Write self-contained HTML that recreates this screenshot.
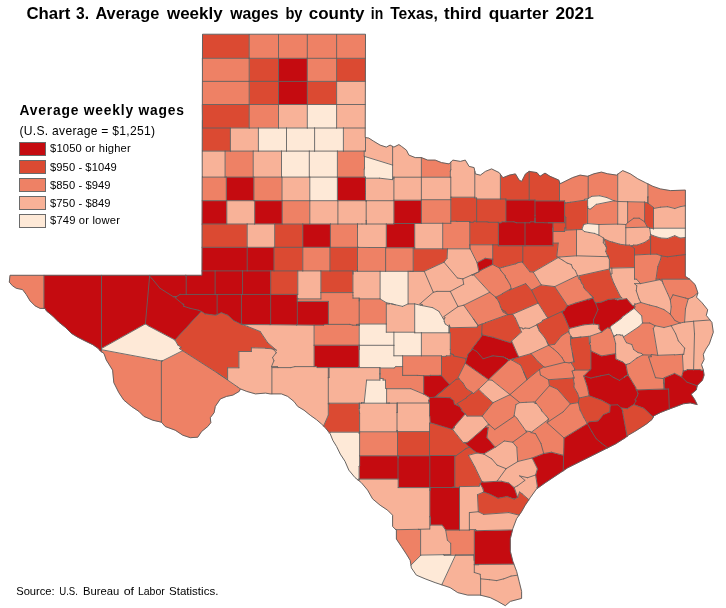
<!DOCTYPE html>
<html lang="en"><head><meta charset="utf-8"><title>Chart 3. Average weekly wages by county in Texas, third quarter 2021</title>
<style>
html,body{margin:0;padding:0;background:#fff;}
body{width:726px;height:608px;overflow:hidden;position:relative;font-family:"Liberation Sans",sans-serif;}
svg{position:absolute;left:0;top:0;display:block;}
path{stroke-linejoin:round;stroke-linecap:round;}
.c1{stroke:#c50b10}.c2{stroke:#db4a32}.c3{stroke:#ee8165}.c4{stroke:#f8b298}.c5{stroke:#fee9d7}
.c1,.c2,.c3,.c4,.c5{stroke-width:0.4}
.ln{fill:none;stroke:#626262;stroke-width:0.9}
.c1{fill:#c50b10}.c2{fill:#db4a32}.c3{fill:#ee8165}.c4{fill:#f8b298}.c5{fill:#fee9d7}
.ol{fill:none;stroke:#5e5e5e;stroke-width:0.95}
text{font-family:"Liberation Sans",sans-serif;fill:#000;}
.t{font-weight:bold;font-size:15.9px;}
.lt{font-weight:bold;font-size:13.8px;}
.ls{font-size:12.1px;}
.li{font-size:11.2px;}
.src{font-size:11.5px;}
rect.sw{stroke:#6a6a6a;stroke-width:1;}
</style></head><body>
<svg width="726" height="608" viewBox="0 0 726 608">
<rect x="0" y="0" width="726" height="608" fill="#fff"/>
<g>
<path class="c1" d="M278.5,58.3 278.5,58.3 278.5,81.4 278.5,81.4 278.5,81.4 307.3,81.4 307.3,81.4 307.3,81.4 307.3,58.3 307.3,58.3 307.3,58.3 278.5,58.3ZM278.5,81.4 278.5,81.4 278.5,104.5 278.5,104.5 278.5,104.5 307.3,104.5 307.3,104.5 307.3,104.5 307.3,81.4 307.3,81.4 307.3,81.4 278.5,81.4ZM226.4,177.1 226.3,177.1 226.3,200.7 226.4,200.7 226.4,200.7 253.9,200.7 253.9,200.7 253.9,200.7 253.9,177.1 253.9,177.1 253.9,177.1 226.4,177.1ZM337.4,177.1 337.4,177.1 337.4,200.7 337.4,200.7 337.4,200.7 365.5,200.7 365.5,200.7 365.5,200.7 365.5,193.7 365.5,193.7 365.5,191.2 365.5,191.2 365.5,180.6 365.5,180.6 365.5,180.6 365.5,180.5 365.5,180.5 365.5,180.5 365.5,180.5 365.5,180.5 365.5,180.5 365.5,180.5 365.5,177.1 365.5,177.1 365.5,177.1 337.4,177.1ZM202.1,224.0 202.1,224.0 226.8,224.0 226.8,224.0 226.8,224.0 226.8,200.7 226.8,200.7 226.8,200.7 202.2,200.7 202.2,200.7 202.2,200.7 202.1,224.0ZM254.7,200.7 254.7,200.7 254.7,224.0 254.7,224.0 254.7,224.0 282.2,224.0 282.2,224.0 282.2,224.0 282.2,200.7 282.2,200.7 282.2,200.7 254.7,200.7ZM302.8,224.0 302.8,224.0 302.8,247.3 302.8,247.3 302.8,247.3 330.4,247.3 330.4,247.3 330.4,247.3 330.4,224.0 330.4,224.0 330.4,224.0 302.8,224.0ZM202.0,270.9 202.0,270.9 247.2,270.9 247.2,270.9 247.2,270.9 247.2,247.3 247.2,247.3 247.2,247.3 202.1,247.3 202.1,247.3 202.1,247.3 202.0,270.9ZM247.2,247.3 247.2,247.3 247.2,270.9 247.2,270.9 247.2,270.9 274.0,270.9 274.0,270.9 274.0,270.9 274.0,247.3 274.0,247.3 274.0,247.3 247.2,247.3ZM185.8,275.3 185.8,275.3 185.8,276.0 185.8,276.0 185.8,276.0 186.2,276.0 186.2,276.0 186.2,276.0 186.2,276.0 186.2,276.0 186.2,276.0 186.2,276.0 186.2,276.0 186.2,276.0 186.2,276.0 186.2,276.0 186.2,276.0 186.2,276.0 186.2,276.0 186.2,276.0 186.2,276.0 186.2,276.0 186.2,294.4 186.2,294.4 186.2,294.4 215.1,294.4 215.1,294.4 215.1,294.4 215.1,270.9 215.1,270.9 215.1,270.9 202.0,270.9 202.0,270.9 202.0,270.9 202.0,270.9 202.0,270.9 202.0,270.9 202.0,270.9 202.0,270.9 202.0,270.9 202.0,270.9 202.0,270.9 202.0,270.9 202.0,270.9 202.0,270.9 202.0,270.9 202.0,270.9 202.0,270.8 202.0,270.8 202.0,270.8 202.0,275.3 202.0,275.3 202.0,275.3 202.0,275.3 202.0,275.3 202.0,275.3 202.0,275.3 202.0,275.3 202.0,275.3 202.0,275.3 202.0,275.3 202.0,275.3 202.0,275.3 202.0,275.3 202.0,275.3 202.0,275.3 202.0,275.3 186.2,275.3 185.8,275.3ZM215.1,270.9 215.1,270.9 215.1,294.4 215.1,294.4 215.1,294.4 242.6,294.4 242.6,294.4 242.6,294.4 242.6,270.9 242.6,270.9 242.6,270.9 215.1,270.9ZM242.6,270.9 242.6,270.9 242.6,294.4 242.6,294.4 242.6,294.4 270.7,294.4 270.7,294.4 270.7,294.4 270.7,270.9 270.7,270.9 270.7,270.9 242.6,270.9ZM241.4,294.4 241.4,294.4 241.4,324.4 241.4,324.4 241.4,324.4 243.7,324.4 243.7,324.4 243.7,324.4 243.7,324.4 243.7,324.4 243.7,324.4 243.7,324.4 243.7,324.4 243.7,324.4 243.7,324.4 243.7,324.4 243.7,324.5 243.7,324.5 243.7,324.5 270.0,324.7 270.0,324.7 270.0,324.7 270.0,324.4 270.0,324.4 270.0,324.4 270.0,324.4 270.0,324.4 270.0,324.4 270.0,324.4 270.0,324.4 270.0,324.4 270.0,324.4 270.0,324.4 270.0,324.4 270.0,324.4 270.0,324.4 270.0,324.4 270.0,324.4 270.0,324.4 270.7,324.4 270.7,324.4 270.7,324.4 270.7,294.4 270.7,294.4 270.7,294.4 241.4,294.4ZM270.0,324.7 270.0,324.7 296.7,325.0 296.7,325.0 296.7,325.0 296.8,324.4 296.8,324.4 296.8,324.4 296.8,324.4 296.8,324.4 296.8,324.4 296.8,324.4 296.8,324.4 296.8,324.4 296.8,324.4 296.8,324.4 296.8,324.4 296.8,324.4 296.8,324.4 296.8,324.4 296.8,324.4 297.3,324.4 297.3,324.4 297.3,324.4 297.3,298.9 297.3,298.9 297.3,298.9 297.3,298.9 297.3,298.9 297.3,298.9 297.3,298.9 297.3,298.9 297.3,298.9 297.3,298.9 297.3,298.9 297.3,298.9 297.3,298.9 297.3,298.9 297.3,298.9 297.3,298.9 297.3,298.9 297.8,298.9 297.8,298.9 297.8,298.9 297.8,298.3 297.8,298.3 297.8,298.3 297.3,297.8 297.3,297.8 297.3,297.8 297.3,297.8 297.3,297.8 297.3,297.8 297.3,297.8 297.3,297.8 297.3,297.8 297.3,294.4 297.3,294.4 297.3,294.4 270.7,294.4 270.7,294.4 270.7,294.4 270.7,324.4 270.7,324.4 270.7,324.4 270.7,324.4 270.7,324.4 270.7,324.4 270.7,324.4 270.7,324.4 270.7,324.4 270.7,324.4 270.7,324.4 270.7,324.4 270.7,324.4 270.7,324.4 270.7,324.4 270.7,324.4 270.7,324.4 270.0,324.4 270.0,324.4 270.0,324.4 270.0,324.7ZM296.7,325.0 296.7,325.0 314.1,325.2 314.1,325.2 323.7,325.2 323.7,325.2 323.7,325.2 324.4,324.4 324.4,324.4 324.4,324.4 324.4,324.4 324.4,324.4 324.4,324.4 324.4,324.4 324.4,324.4 324.4,324.4 328.4,324.4 328.4,324.4 328.4,324.4 328.4,301.4 328.4,301.4 328.4,301.4 297.3,301.4 297.3,301.4 297.3,301.4 297.3,324.4 297.3,324.4 297.3,324.4 297.3,324.4 297.3,324.4 297.3,324.4 297.3,324.4 297.3,324.4 297.3,324.4 297.3,324.4 297.3,324.4 297.3,324.4 297.3,324.4 297.3,324.4 297.3,324.4 297.3,324.4 297.3,324.4 296.8,324.4 296.8,324.4 296.8,324.4 296.7,325.0ZM314.1,345.3 314.1,345.3 314.1,366.6 314.1,366.6 314.1,366.6 316.3,366.6 316.3,366.6 316.3,366.6 316.3,366.6 316.3,366.6 316.3,366.6 316.3,366.6 316.3,366.6 316.3,366.6 316.3,366.6 317.2,367.6 317.2,367.6 317.2,367.6 328.3,367.6 328.3,367.6 328.3,367.6 328.3,367.6 328.3,367.6 328.3,367.6 328.3,367.6 328.3,367.6 328.3,367.6 328.3,367.6 328.3,367.6 328.3,367.6 328.3,367.6 328.3,367.6 328.3,367.6 328.3,367.6 328.3,367.6 328.3,377.7 328.3,377.7 328.3,377.7 329.0,377.5 329.0,377.5 329.1,377.5 329.1,367.6 329.1,367.6 329.1,367.6 329.1,367.6 329.1,367.6 329.1,367.6 329.1,367.6 329.1,367.6 329.1,367.6 329.1,367.6 329.1,367.6 329.1,367.6 329.1,367.6 329.1,367.6 329.1,367.6 329.1,367.6 329.1,367.6 358.8,367.6 358.8,367.6 358.8,367.6 358.8,366.6 358.8,366.6 358.8,366.6 358.8,366.6 358.8,366.6 358.8,366.6 358.8,366.6 358.8,366.6 358.8,366.6 358.8,366.6 358.8,366.6 358.8,366.6 358.8,366.6 358.8,366.6 358.8,366.6 358.8,366.6 358.8,366.6 359.2,366.6 359.2,366.6 359.2,366.6 359.2,345.3 359.2,345.3 359.2,345.2 314.1,345.2ZM217.1,294.4 217.1,294.4 217.1,314.7 217.1,314.7 217.1,314.7 221.3,312.7 221.3,312.7 221.3,312.7 221.3,312.7 221.3,312.7 221.3,312.7 221.3,312.7 221.3,312.7 221.3,312.7 227.6,315.2 227.6,315.2 227.6,315.2 227.6,315.2 233.9,320.7 233.9,320.7 233.9,320.7 241.4,324.4 241.4,324.4 241.4,324.4 241.4,294.4 241.4,294.4 241.4,294.4 217.1,294.4ZM175.0,297.6 175.0,297.6 182.5,303.9 182.5,303.9 182.5,303.9 183.7,304.3 183.7,304.3 183.7,304.3 183.7,304.3 183.7,304.3 183.7,304.3 183.7,304.3 183.7,304.3 183.7,304.3 183.7,304.3 183.7,304.3 183.7,304.3 183.7,304.3 183.8,306.3 183.8,306.3 183.8,306.3 190.0,308.3 190.0,308.3 198.4,310.2 198.4,310.2 198.4,310.2 201.3,311.4 201.3,311.4 201.3,311.4 205.0,313.9 205.0,313.9 205.0,313.9 215.1,315.2 215.1,315.2 215.1,315.2 217.1,314.7 217.1,314.7 217.1,314.7 217.1,294.4 217.1,294.4 217.1,294.4 180.0,294.4 180.0,294.4 180.0,294.4 175.0,297.6ZM43.9,308.4 43.9,308.4 45.1,308.4 45.1,308.4 45.1,308.4 45.1,308.4 45.1,308.4 45.1,308.4 45.1,308.4 45.1,308.4 45.1,308.4 45.1,308.4 45.1,308.4 45.1,308.4 46.4,310.9 46.4,310.9 46.4,310.9 52.6,315.9 52.6,315.9 58.9,322.2 58.9,322.2 65.2,327.2 65.2,327.2 71.4,333.4 71.5,333.4 71.5,333.5 77.7,337.2 77.7,337.2 85.2,341.0 92.8,344.7 92.8,344.7 98.3,348.5 98.3,348.5 98.3,348.5 98.3,348.5 100.3,351.0 100.3,351.0 100.3,351.0 101.5,351.8 101.5,351.8 101.5,351.8 101.5,275.3 101.5,275.3 101.5,275.3 43.9,275.3 43.9,275.3 43.9,275.3 43.9,308.4ZM101.5,348.5 101.5,348.5 145.4,323.9 145.4,323.9 145.4,323.9 149.7,275.3 149.7,275.3 149.7,275.3 101.5,275.3 101.5,275.3 101.5,275.3 101.5,348.5ZM149.6,276.2 149.6,276.2 151.7,278.3 151.7,278.3 160.0,288.3 160.0,288.3 160.0,288.3 173.3,296.7 173.3,296.7 173.3,296.7 175.0,296.5 175.0,296.5 175.0,296.5 175.0,296.5 175.0,296.5 176.3,296.8 176.3,296.8 176.3,296.8 177.2,296.2 180.0,294.4 180.0,294.4 180.0,294.4 180.0,294.4 180.0,294.4 180.0,294.4 180.0,294.4 186.2,294.4 186.2,294.4 186.2,294.4 186.2,276.0 186.2,276.0 186.2,276.0 185.8,276.0 185.8,276.0 185.8,276.0 185.8,276.0 185.8,276.0 185.8,276.0 185.8,276.0 185.8,276.0 185.8,276.0 185.8,276.0 185.8,276.0 185.8,276.0 185.8,276.0 185.8,276.0 185.8,276.0 185.8,276.0 185.8,276.0 185.8,275.3 185.8,275.3 185.8,275.3 149.7,275.3 149.7,275.3 149.7,275.3 149.6,276.0 149.6,276.2ZM145.4,323.9 145.4,323.9 148.9,326.2 148.9,326.2 175.0,340.0 175.0,340.0 175.0,340.0 201.3,311.4 201.3,311.4 201.3,311.4 201.3,311.4 201.3,311.4 201.3,311.4 198.4,310.2 198.4,310.2 198.4,310.2 190.0,308.3 190.0,308.3 183.8,306.3 183.8,306.3 183.8,306.3 183.8,306.3 183.8,306.3 183.8,306.3 183.8,306.3 183.8,306.3 183.8,306.3 183.8,306.3 183.8,306.3 183.8,306.3 183.8,306.3 183.7,304.3 183.7,304.3 183.7,304.3 182.5,303.9 182.5,303.9 182.5,303.9 182.5,303.9 182.5,303.9 175.0,297.6 175.0,297.6 175.0,297.6 175.0,297.6 175.0,297.6 175.0,297.6 175.0,297.6 175.0,297.6 175.0,297.6 175.0,297.6 175.0,297.6 175.0,297.6 175.0,297.6 175.0,297.6 175.0,297.6 175.0,297.6 175.0,297.6 175.0,297.6 175.0,297.6 175.0,297.6 176.3,296.8 176.3,296.8 176.3,296.8 175.0,296.5 175.0,296.5 175.0,296.5 173.3,296.7 173.3,296.7 173.3,296.7 173.3,296.7 173.3,296.7 173.3,296.7 173.3,296.7 173.3,296.7 160.0,288.3 160.0,288.3 160.0,288.3 160.0,288.3 151.7,278.3 151.7,278.3 149.6,276.2 149.6,276.2 149.6,276.2 145.4,323.9ZM359.1,478.9 359.1,478.9 359.6,478.9 359.6,478.9 359.6,478.9 359.6,478.9 359.6,478.9 359.6,478.9 359.6,478.9 359.6,478.9 359.6,478.9 359.6,478.9 359.6,478.9 359.6,478.9 359.6,478.9 359.6,478.9 359.6,478.9 359.6,478.9 359.6,478.9 359.6,479.1 359.6,479.1 359.6,479.1 398.0,479.1 398.0,479.1 398.0,479.1 398.0,455.8 398.0,455.8 398.0,455.8 359.6,455.8 359.6,455.8 359.6,455.8 359.6,465.6 359.6,465.6 359.6,465.6 359.6,465.6 359.6,465.6 359.6,465.6 359.1,466.5 359.1,466.5 359.1,466.5 359.1,478.9ZM393.9,200.2 393.9,200.2 393.9,223.5 393.9,223.5 393.9,223.5 421.4,223.5 421.4,223.5 421.4,223.5 421.4,200.2 421.4,200.2 421.4,200.2 393.9,200.2ZM505.9,200.0 505.9,200.0 505.9,221.8 505.9,221.8 505.9,221.8 513.9,221.8 513.9,221.8 513.9,221.8 513.9,221.8 513.9,221.8 516.6,222.8 516.6,222.8 516.6,222.8 529.5,222.8 529.5,222.8 529.5,222.8 530.8,221.8 530.8,221.8 530.8,221.8 530.8,221.8 530.8,221.8 530.8,221.8 530.8,221.8 530.8,221.8 535.0,221.8 535.0,221.8 535.0,221.8 535.0,215.6 535.0,215.6 535.0,215.2 535.0,215.2 535.0,201.0 535.0,201.0 535.0,201.0 535.0,200.9 535.0,200.9 535.0,200.9 535.0,200.9 535.0,200.9 535.0,200.9 535.0,200.9 535.0,200.9 535.0,200.0 535.0,200.0 535.0,200.0 505.9,200.0ZM386.3,224.0 386.3,224.0 386.3,247.8 386.3,247.8 386.3,247.8 414.7,247.8 414.7,247.8 414.7,247.8 414.7,223.5 414.7,223.5 414.7,223.5 393.9,223.5 393.9,223.5 393.9,223.5 393.9,224.0 393.9,224.0 393.9,224.0 393.9,224.0 393.9,224.0 393.9,224.0 393.9,224.0 393.9,224.0 393.9,224.0 393.9,224.0 393.9,224.0 393.9,224.0 393.9,224.0 393.9,224.0 393.9,224.0 393.9,224.0 393.9,224.0 386.3,224.0ZM498.4,222.8 498.4,222.8 498.4,245.8 498.4,245.8 498.4,245.8 525.0,245.8 525.0,245.8 525.0,245.8 525.0,222.8 525.0,222.8 525.0,222.8 516.6,222.8 516.6,222.8 516.6,222.8 516.6,222.8 516.6,222.8 513.9,221.8 513.9,221.8 513.9,221.8 502.1,221.8 502.1,221.8 502.1,221.8 501.0,222.8 501.0,222.8 501.0,222.8 501.0,222.8 501.0,222.8 501.0,222.8 501.0,222.8 501.0,222.8 498.4,222.8ZM525.0,222.8 525.0,222.8 525.0,245.8 525.0,245.8 525.0,245.8 553.0,245.8 553.0,245.8 553.0,245.8 553.0,222.8 553.0,222.8 553.0,222.8 543.8,222.8 543.8,222.8 543.8,222.8 543.8,222.8 543.8,222.8 543.8,222.8 543.7,222.7 543.7,222.7 543.7,222.7 535.0,222.7 535.0,222.7 535.0,222.7 535.0,222.7 535.0,222.7 535.0,222.7 535.0,222.7 535.0,222.7 535.0,222.7 535.0,222.7 535.0,222.7 535.0,222.7 535.0,222.7 535.0,222.7 535.0,222.7 535.0,222.7 535.0,222.7 535.0,218.6 535.0,218.6 535.0,218.6 535.0,218.5 535.0,218.5 535.0,218.5 535.0,221.8 535.0,221.8 535.0,221.8 535.0,221.8 535.0,221.8 535.0,221.8 535.0,221.8 535.0,221.8 535.0,221.8 535.0,221.8 535.0,221.8 535.0,221.8 535.0,221.8 535.0,221.8 535.0,221.8 535.0,221.8 535.0,221.8 530.8,221.8 530.8,221.8 530.8,221.8 529.5,222.8 529.5,222.8 529.5,222.8 529.5,222.8 529.5,222.8 529.5,222.8 529.5,222.8 529.5,222.8 525.0,222.8ZM535.0,218.5 535.0,218.5 535.0,218.6 535.0,218.6 535.0,218.6 535.0,218.6 535.0,218.6 535.0,218.6 535.0,218.6 535.0,218.6 535.0,218.6 535.0,218.6 535.0,218.6 535.0,218.6 535.0,222.7 535.0,222.7 535.0,222.7 543.7,222.7 543.7,222.7 543.7,222.7 543.7,222.7 543.7,222.7 543.7,222.7 543.8,222.8 543.8,222.8 543.8,222.8 548.6,222.8 548.6,222.8 548.6,222.8 548.8,222.7 548.8,222.7 548.8,222.7 548.8,222.7 548.8,222.7 548.8,222.7 564.6,222.7 564.6,222.7 564.6,222.7 564.6,200.9 564.6,200.9 564.6,200.9 535.0,200.9 535.0,200.9 535.0,200.9 535.0,215.2 535.0,215.2 535.0,215.6 535.0,215.6 535.0,218.5ZM664.2,389.0 664.2,389.0 665.7,389.0 665.7,389.0 665.7,389.0 665.7,389.0 665.7,389.0 665.7,389.0 665.7,389.0 665.7,389.0 665.7,389.0 665.7,389.0 665.7,389.0 665.7,389.0 665.7,389.0 665.7,389.0 665.7,389.0 665.7,389.0 665.7,389.1 665.7,389.1 665.7,389.1 668.5,389.0 668.5,389.0 668.5,389.0 668.5,389.0 668.5,389.0 668.5,389.0 668.5,389.0 668.5,389.0 668.5,389.0 668.5,389.0 668.5,389.0 668.5,389.0 668.5,389.0 668.5,389.0 668.6,389.0 668.6,389.0 668.6,389.0 669.3,409.0 669.3,409.0 669.3,409.0 669.4,409.0 669.4,409.0 676.4,406.4 676.4,406.4 683.3,403.8 683.3,403.8 683.3,403.8 690.2,402.9 690.2,402.9 690.2,402.9 690.3,402.9 690.3,402.9 697.2,404.6 697.2,404.6 697.2,404.6 694.6,399.4 694.6,399.4 691.1,394.2 691.1,394.2 691.1,394.2 691.1,394.2 691.1,394.2 691.1,394.2 691.1,394.2 691.1,394.2 691.1,394.2 691.1,394.2 691.1,394.2 691.1,394.2 691.1,394.2 691.1,394.2 691.1,394.2 691.1,394.2 696.3,389.9 696.3,389.9 696.3,389.9 697.2,385.7 697.2,385.7 697.2,385.7 696.3,385.5 696.3,385.5 696.3,385.5 686.8,382.1 686.8,382.1 686.8,382.1 686.8,382.1 686.8,382.1 681.6,376.9 681.6,376.9 681.6,376.9 674.6,373.4 674.6,373.4 674.6,373.4 664.2,377.7 664.2,377.7 664.2,377.7 664.2,389.0ZM681.6,376.9 681.6,376.9 686.8,382.1 686.8,382.1 686.8,382.1 696.3,385.5 696.3,385.5 696.3,385.5 697.2,385.7 697.2,385.7 697.2,385.7 697.2,385.5 697.2,385.5 697.2,385.5 697.2,385.5 697.2,385.5 697.2,385.5 697.2,385.5 697.5,385.2 702.4,380.3 702.4,380.3 702.4,380.3 704.1,375.1 704.1,375.1 704.1,375.1 703.3,370.1 703.3,370.1 703.3,370.1 701.2,370.2 701.2,370.2 701.2,370.2 701.2,370.2 701.2,370.2 701.2,370.2 700.1,369.6 700.1,369.6 700.1,369.6 687.4,369.6 687.4,369.6 687.4,369.6 685.2,370.7 685.2,370.7 685.2,370.7 685.2,370.7 685.2,370.7 685.2,370.7 683.3,370.8 683.3,370.8 683.3,370.8 681.6,376.9ZM633.8,404.6 633.8,404.6 643.4,408.1 643.4,408.1 643.4,408.1 643.4,408.1 643.4,408.1 653.3,417.0 653.3,417.0 653.3,417.0 653.8,415.9 653.8,415.9 653.8,415.9 653.8,415.9 653.8,415.9 653.8,415.9 653.8,415.9 653.8,415.9 660.7,412.4 660.7,412.4 669.3,409.0 669.3,409.0 669.3,409.0 668.6,389.0 668.5,389.0 668.5,389.0 665.8,389.1 665.8,389.1 665.8,389.1 665.8,389.1 665.8,389.1 665.8,389.1 665.8,389.1 665.7,389.1 665.7,389.1 665.7,389.1 665.7,389.1 665.7,389.1 665.7,389.1 665.7,389.1 665.7,389.1 665.7,389.1 665.7,389.0 665.7,389.0 665.7,389.0 664.2,389.0 664.2,389.0 664.2,389.0 664.2,389.0 664.2,389.0 664.2,389.0 664.2,389.0 664.2,389.0 664.2,389.0 664.2,389.0 664.2,389.0 664.2,389.0 664.2,389.0 664.2,389.0 664.2,389.0 664.2,389.0 664.2,389.0 664.2,383.2 664.2,383.2 664.2,383.2 663.7,383.0 663.7,383.0 663.7,383.0 664.2,389.0 664.2,389.0 664.2,389.0 664.2,389.0 664.2,389.0 664.2,389.0 664.2,389.0 664.2,389.0 664.2,389.0 664.2,389.0 664.2,389.0 664.2,389.0 664.2,389.0 664.2,389.0 664.2,389.0 664.2,389.0 664.2,389.0 664.2,389.0 637.1,389.9 637.1,389.9 637.1,389.9 637.1,389.9 637.1,389.9 637.1,389.9 637.1,389.9 637.1,389.9 637.1,389.9 637.1,389.9 637.1,389.9 636.5,389.9 636.5,389.9 636.5,389.9 638.0,393.5 638.0,393.5 638.0,393.5 638.0,393.5 638.0,393.5 638.0,393.5 638.0,393.5 638.0,393.5 637.4,395.8 637.4,395.8 637.4,395.8 637.4,395.8 635.0,399.9 635.0,399.9 635.0,399.9 636.1,400.8 636.1,400.8 636.1,400.8 636.1,400.8 636.1,400.8 636.1,400.8 636.1,400.8 636.1,400.8 636.1,400.8 636.1,400.8 636.1,400.8 636.1,400.8 636.1,400.8 636.1,400.8 636.1,400.8 636.1,400.8 633.8,404.6ZM398.0,478.9 398.0,478.9 398.0,478.9 398.2,478.9 398.2,478.9 398.2,478.9 398.2,478.9 398.2,478.9 398.2,478.9 398.2,478.9 398.2,478.9 398.2,478.9 398.2,478.9 398.2,478.9 398.2,478.9 398.2,478.9 398.2,478.9 398.2,478.9 398.2,478.9 398.2,478.9 398.2,487.6 398.2,487.6 398.2,487.6 429.7,487.6 429.7,487.6 429.8,487.6 429.8,455.5 429.7,455.5 429.7,455.5 429.5,455.5 429.5,455.5 429.5,455.5 429.5,455.8 429.5,455.8 429.5,455.8 429.5,455.8 429.5,455.8 429.5,455.8 429.5,455.8 429.5,455.8 429.5,455.8 429.5,455.8 429.5,455.8 429.5,455.8 429.5,455.8 429.5,455.8 429.5,455.8 429.5,455.8 429.5,455.8 398.2,455.8 398.2,455.8 398.2,455.8 398.2,457.9 398.2,457.9 398.2,457.9 398.2,457.9 398.2,457.9 398.2,457.9 398.2,457.9 398.2,457.9 398.2,457.9 398.2,457.9 398.2,457.9 398.2,457.9 398.2,457.9 398.2,457.9 398.2,457.9 398.2,457.9 398.2,457.9 398.0,457.9 398.0,457.9 398.0,457.9ZM429.8,490.0 429.8,490.0 430.4,489.9 430.4,489.9 430.4,489.9 430.4,487.5 430.4,487.5 430.4,487.5 430.4,487.5 430.4,487.5 430.4,487.5 430.4,487.5 430.4,487.5 430.4,487.5 430.4,487.5 430.4,487.5 430.4,487.5 430.4,487.5 430.4,487.5 430.4,487.5 430.4,487.5 430.4,487.5 452.7,487.5 452.7,487.5 452.7,487.5 452.8,487.1 452.8,487.1 452.8,487.1 452.8,487.1 452.8,487.1 452.8,487.1 452.8,487.1 452.8,487.1 452.8,487.1 452.8,487.1 452.8,487.1 452.8,487.1 452.8,487.1 452.8,487.1 452.8,487.1 452.8,487.1 454.8,487.1 454.8,487.1 454.8,487.1 454.8,455.5 454.8,455.5 454.8,455.5 429.8,455.5 429.8,455.5 429.8,455.5 429.8,490.0ZM472.0,274.8 472.0,274.8 472.6,275.1 472.6,275.1 472.6,275.1 473.6,274.8 473.6,274.7 473.6,274.7 478.9,271.7 478.9,271.7 478.9,271.7 478.9,271.7 481.6,269.9 481.6,269.9 492.7,264.5 492.7,264.5 492.7,264.5 492.7,259.2 492.7,259.2 492.7,259.2 485.2,258.3 485.2,258.3 485.2,258.3 477.1,262.7 477.1,262.8 477.1,262.8 478.9,271.7 478.9,271.7 478.9,271.7 478.9,271.7 478.9,271.7 478.9,271.7 478.9,271.7 478.9,271.7 478.9,271.7 478.9,271.7 478.9,271.7 478.9,271.7 478.9,271.7 478.9,271.7 478.9,271.7 472.0,274.8ZM562.1,312.0 562.1,312.0 562.3,312.8 562.3,312.8 562.3,312.8 563.7,315.5 563.7,315.5 566.0,320.4 566.0,320.4 566.5,321.5 566.5,321.5 566.5,321.5 566.5,321.5 566.7,322.2 566.7,322.2 566.7,322.2 569.4,328.5 569.4,328.5 569.4,328.5 583.7,324.9 583.7,324.9 583.7,324.9 593.6,324.0 593.6,324.0 593.6,324.0 593.6,319.5 593.6,319.5 593.6,319.5 593.6,319.5 593.6,319.5 598.0,309.7 598.0,309.7 598.0,309.7 595.4,302.5 595.3,302.5 595.3,302.5 592.7,298.1 592.7,298.1 592.7,298.1 588.5,299.8 588.5,299.8 588.5,299.8 588.5,299.8 588.5,299.8 588.5,299.8 588.5,299.8 588.5,299.8 588.5,299.8 588.5,299.8 587.7,299.4 587.7,299.4 587.7,299.4 575.7,303.0 575.7,303.0 567.2,305.9 567.2,305.9 567.2,305.9 564.9,309.3 564.2,310.4 564.1,310.5 564.1,310.5 564.1,310.5 564.1,310.5 564.1,310.5 564.1,310.5 564.1,310.5 562.4,311.3 562.4,311.3 562.4,311.3 562.1,312.0ZM593.6,324.0 593.6,324.0 598.9,324.9 598.9,324.9 598.9,324.9 598.9,324.9 598.9,324.9 598.9,324.9 598.9,324.9 598.9,324.9 598.9,324.9 598.9,324.9 598.9,324.9 598.9,324.9 598.9,324.9 598.9,324.9 598.9,324.9 598.9,328.5 598.9,328.5 598.9,328.5 601.6,332.1 601.6,332.1 601.6,332.1 607.6,327.7 607.6,327.7 607.6,327.7 607.6,327.7 607.6,327.7 607.6,327.7 607.6,327.7 607.6,327.7 607.6,327.7 607.6,327.7 607.6,327.7 610.1,328.5 610.1,328.5 610.1,328.5 610.4,326.9 610.4,326.9 610.4,326.9 610.3,326.6 610.3,326.6 610.3,326.6 610.3,326.6 610.3,326.6 610.3,326.6 610.3,326.6 610.3,326.6 610.3,326.6 610.3,326.6 610.3,326.6 610.3,326.6 610.3,326.6 610.4,326.5 621.1,318.7 621.1,318.7 621.1,318.7 622.2,317.1 622.2,317.1 622.2,317.1 622.2,317.1 634.6,308.0 634.6,308.0 634.6,308.0 634.7,307.8 635.0,306.3 635.0,306.3 635.0,306.3 634.2,305.7 634.2,305.7 634.2,305.7 632.8,305.7 632.8,305.7 632.8,305.7 632.8,305.7 632.8,305.7 632.8,305.7 632.8,305.7 632.8,305.7 632.8,305.7 632.8,305.7 626.7,298.6 626.7,298.6 626.7,298.6 617.2,299.9 617.2,299.9 617.2,299.9 617.2,299.9 617.2,299.9 617.2,299.9 617.2,299.9 615.1,298.9 615.1,298.9 614.9,298.8 614.9,298.8 614.9,298.8 608.2,299.5 608.2,299.5 608.2,299.5 601.4,302.1 601.4,302.1 601.4,302.1 595.5,302.9 595.5,302.9 595.5,302.9 598.0,309.7 598.0,309.7 598.0,309.7 598.0,309.7 598.0,309.7 598.0,309.7 598.0,309.7 598.0,309.7 598.0,309.7 593.6,319.5 593.6,319.5 593.6,319.5 593.6,324.0ZM583.7,375.9 583.7,375.9 590.9,378.1 590.9,378.1 590.9,378.1 596.3,376.7 596.3,376.7 596.3,376.7 596.3,376.7 596.3,376.7 596.3,376.7 596.3,376.7 596.3,376.7 596.3,376.7 596.3,376.7 596.3,376.7 596.3,376.7 596.3,376.7 596.3,376.7 596.4,376.9 596.4,376.9 596.4,376.9 600.7,375.8 600.7,375.8 608.8,374.3 608.8,374.3 608.8,374.3 608.8,374.3 608.8,374.3 608.8,374.3 608.8,374.3 608.8,374.3 608.8,374.3 613.5,377.5 613.5,377.5 613.5,377.5 613.7,377.5 613.7,377.5 613.7,377.5 613.7,377.5 613.7,377.5 613.7,377.5 613.7,377.5 613.7,377.5 614.1,377.7 614.2,377.7 619.5,380.4 619.5,380.4 619.5,380.4 627.9,374.5 627.9,374.5 627.9,374.5 627.8,374.3 627.8,374.3 627.8,374.3 627.8,374.3 627.8,374.3 626.0,364.7 626.0,364.7 626.0,364.7 626.0,364.7 626.0,364.7 626.0,364.7 626.0,364.7 626.0,364.7 626.0,364.7 626.0,364.7 626.0,364.7 626.0,364.7 626.0,364.7 626.0,364.7 626.0,364.7 626.8,364.4 626.8,364.4 626.8,364.4 626.8,364.3 626.8,364.3 626.8,364.3 626.0,364.7 626.0,364.7 626.0,364.7 626.0,364.7 626.0,364.7 626.0,364.7 626.0,364.7 626.0,364.7 626.0,364.7 626.0,364.7 626.0,364.7 626.0,364.7 626.0,364.7 626.0,364.7 622.8,362.0 622.8,362.0 622.8,362.0 615.9,358.9 615.9,358.9 615.9,358.9 615.9,358.9 615.9,358.9 615.9,358.9 615.9,358.9 615.9,358.9 615.9,358.9 615.9,358.9 615.9,358.9 615.9,358.9 615.8,356.1 615.8,356.1 615.8,356.1 615.6,356.0 615.6,356.0 615.6,356.0 615.6,356.0 615.6,356.0 615.6,356.0 615.6,356.0 615.6,356.0 615.6,356.0 615.6,356.0 615.7,354.8 615.7,354.8 615.6,353.6 615.6,353.6 615.6,353.6 601.6,355.9 601.6,355.9 601.6,355.9 601.6,355.9 601.6,355.9 601.6,355.9 601.6,355.9 590.9,350.9 590.9,350.9 590.9,350.9 590.9,368.8 590.9,368.8 590.9,368.8 590.9,368.8 590.9,368.8 590.9,368.8 590.9,368.8 590.9,368.8 590.9,368.8 590.0,369.6 590.0,369.7 590.0,369.7 590.0,370.1 590.0,370.1 590.0,370.1 590.0,370.1 590.0,370.1 590.0,370.1 590.0,370.1 590.0,370.1 590.0,370.1 590.0,370.1 590.0,370.1 590.0,370.1 590.0,370.1 590.0,370.1 590.0,370.1 590.0,370.1 590.0,370.1 589.6,370.1 589.6,370.1 589.6,370.1 583.7,375.9ZM583.7,375.9 583.7,375.9 587.3,386.9 587.3,386.9 589.1,395.8 589.1,395.8 589.1,395.8 601.6,400.3 601.6,400.3 601.6,400.3 610.2,405.1 610.2,405.1 610.2,405.1 617.7,404.8 617.7,404.8 617.7,404.8 617.7,404.8 617.7,404.8 617.7,404.8 617.7,404.8 617.7,404.8 617.7,404.8 621.3,408.0 621.3,408.0 621.3,408.0 627.3,408.7 627.3,408.7 627.3,408.7 633.8,404.6 633.8,404.6 633.8,404.6 634.1,404.2 636.1,400.8 636.1,400.8 636.1,400.8 635.0,399.9 635.0,399.9 635.0,399.9 635.0,399.9 635.0,399.9 635.0,399.9 635.0,399.9 635.0,399.9 635.0,399.9 635.0,399.9 635.0,399.9 635.0,399.9 635.0,399.9 635.0,399.9 635.0,399.9 635.0,399.9 637.4,395.8 637.4,395.8 637.4,395.8 638.0,393.5 638.0,393.5 638.0,393.5 636.5,389.9 636.5,389.9 636.5,389.9 636.5,389.9 636.5,389.9 636.5,389.9 636.5,389.9 636.5,389.9 636.5,389.9 636.5,389.9 636.5,389.9 636.5,389.9 636.5,389.9 636.5,389.9 636.5,389.9 636.5,389.9 636.5,389.9 636.5,389.9 636.5,389.9 636.5,389.9 636.5,389.9 637.1,389.9 637.1,389.9 637.1,389.9 637.1,389.9 637.1,389.9 637.1,389.9 636.5,389.9 636.5,389.9 636.5,389.9 636.5,389.9 636.5,389.9 636.5,389.9 636.5,389.9 636.5,389.9 636.5,389.9 636.4,389.9 636.4,389.9 636.4,389.9 636.4,389.9 636.4,389.9 635.6,387.3 635.6,387.3 635.6,387.3 628.0,374.7 628.0,374.7 628.0,374.7 624.4,377.2 624.4,377.2 624.4,377.2 624.4,377.2 624.4,377.2 624.4,377.2 624.4,377.2 624.4,377.2 624.4,377.2 624.4,377.2 624.4,377.2 624.4,377.2 624.4,377.2 624.4,377.2 624.4,377.2 624.4,377.2 624.4,377.2 624.3,377.1 624.3,377.1 624.3,377.1 619.5,380.4 619.5,380.4 619.5,380.4 619.5,380.4 619.5,380.4 619.5,380.4 619.5,380.4 619.5,380.4 619.5,380.4 619.5,380.4 619.5,380.4 619.5,380.4 614.2,377.7 614.1,377.7 613.7,377.5 613.7,377.5 613.7,377.5 613.5,377.5 613.5,377.5 613.5,377.5 613.5,377.5 613.5,377.5 613.5,377.5 613.5,377.5 613.5,377.5 608.8,374.3 608.8,374.3 608.8,374.3 600.7,375.8 600.7,375.8 596.4,376.9 596.4,376.9 596.4,376.9 596.4,376.9 596.4,376.9 596.4,376.9 596.4,376.9 596.4,376.9 596.4,376.9 596.4,376.9 596.4,376.9 596.4,376.8 596.4,376.8 596.4,376.8 596.3,376.7 596.3,376.7 596.3,376.7 590.9,378.1 590.9,378.1 590.9,378.1 590.9,378.1 590.9,378.1 590.9,378.1 590.9,378.1 584.0,376.0 584.0,376.0 584.0,376.0 584.0,376.0 584.0,376.0 584.0,376.0 584.0,376.0 584.0,376.0 584.0,376.0 584.0,376.0 584.0,376.0 584.0,376.0 584.0,376.0 584.0,376.0 584.0,376.0 583.7,375.9ZM587.3,423.6 587.3,423.6 591.8,431.6 591.8,431.6 596.2,438.8 596.3,438.8 596.3,438.8 601.6,443.3 601.6,443.3 607.6,447.9 607.6,447.9 607.6,447.9 615.4,444.0 615.4,444.0 625.4,437.7 625.4,437.7 628.2,435.4 628.2,435.4 627.1,436.3 627.1,436.3 627.1,436.3 627.1,436.3 627.1,436.3 627.1,436.3 627.1,436.3 627.1,436.3 627.1,436.3 627.1,436.3 627.1,436.3 627.1,436.3 627.1,436.3 627.1,436.3 627.1,436.3 627.1,436.3 627.1,436.3 627.1,436.3 627.1,436.3 627.1,436.3 627.1,436.3 627.1,436.3 622.6,411.6 622.6,411.6 622.6,411.6 622.6,411.6 622.6,411.6 622.6,411.6 622.6,411.6 622.6,411.6 622.6,411.6 622.6,411.6 622.6,411.6 622.6,411.6 622.6,411.6 623.0,411.3 623.0,411.3 623.0,411.3 621.3,408.0 621.3,408.0 621.3,408.0 617.7,404.8 617.7,404.8 617.7,404.8 610.2,405.1 610.2,405.1 610.2,405.1 609.7,411.9 609.7,411.9 609.7,411.9 609.7,411.9 609.7,411.9 609.7,411.9 609.7,411.9 609.7,411.9 609.7,411.9 609.7,411.9 609.7,411.9 609.7,411.9 603.4,414.6 603.4,414.6 603.4,414.6 598.0,420.9 598.0,420.9 598.0,420.9 598.0,420.9 598.0,420.9 598.0,420.9 598.0,420.9 598.0,420.9 598.0,420.9 589.1,421.8 589.1,421.8 589.1,421.8 587.3,423.6ZM563.2,470.8 563.2,470.8 567.7,467.8 567.7,467.8 580.3,461.5 592.8,455.3 605.3,449.0 607.6,447.9 607.6,447.9 607.6,447.9 601.6,443.3 601.6,443.3 596.3,438.8 596.3,438.8 596.2,438.8 596.2,438.8 591.8,431.6 591.8,431.6 587.3,423.6 587.3,423.6 587.3,423.6 564.0,437.9 564.0,437.9 564.0,437.9 563.2,470.8ZM465.2,363.3 465.2,363.3 488.5,379.7 488.5,379.7 488.5,379.7 509.1,360.1 509.1,360.1 509.1,360.0 503.7,357.0 503.7,357.0 503.7,357.0 493.0,355.8 493.0,355.8 493.0,355.8 491.8,356.1 491.8,356.1 491.8,356.1 491.8,356.1 491.8,356.1 491.8,356.1 491.8,356.1 491.8,356.1 491.7,356.1 491.7,356.1 491.7,356.1 483.2,358.8 483.2,358.8 483.2,358.8 483.2,358.8 483.2,358.8 483.2,358.8 483.2,358.8 483.1,358.8 483.1,358.8 483.1,358.8 483.1,358.8 483.1,358.8 483.1,358.8 477.0,351.7 477.0,351.7 477.0,351.7 476.9,351.7 476.9,351.7 476.9,351.7 476.9,351.7 476.9,351.7 476.9,351.7 476.9,351.7 476.9,351.7 476.9,351.7 476.9,351.7 476.9,351.7 476.9,351.7 476.9,351.7 476.9,351.7 476.9,351.7 476.9,351.7 476.9,351.7 476.9,351.7 476.9,351.6 476.9,351.6 476.9,351.6 472.4,349.0 472.4,349.0 472.4,349.0 467.9,354.3 467.9,354.3 467.9,354.3 465.2,363.3ZM423.7,375.7 423.7,375.7 423.7,394.1 423.7,394.1 423.7,394.1 429.6,397.7 429.6,397.7 429.6,397.7 435.0,397.1 435.0,397.1 435.0,397.1 449.8,384.6 449.8,384.6 449.8,384.6 441.6,375.7 441.6,375.7 441.6,375.7 440.4,375.7 440.4,375.7 440.4,375.7 440.4,375.7 440.4,375.7 440.4,375.7 440.4,375.7 440.4,375.7 440.4,375.7 440.1,375.4 440.1,375.4 440.1,375.4 430.3,375.4 430.3,375.4 430.3,375.4 429.8,375.7 429.8,375.7 429.8,375.7 429.8,375.7 429.8,375.7 429.8,375.7 429.8,375.7 423.7,375.7ZM428.7,400.7 428.7,400.7 428.9,403.0 428.9,403.0 428.9,403.0 429.5,403.0 429.5,403.0 429.5,403.0 429.5,403.0 429.5,403.0 429.5,403.0 429.5,403.0 429.5,403.0 429.5,403.0 429.5,403.0 429.5,403.0 429.5,403.0 429.5,403.0 429.5,403.0 429.5,403.0 429.5,403.0 429.5,403.0 429.5,415.4 429.5,415.4 429.5,415.4 429.7,416.1 429.7,416.1 429.7,416.1 430.1,422.7 430.2,422.7 430.2,422.8 452.0,429.4 452.0,429.4 452.0,429.4 465.3,413.9 465.3,413.9 465.3,413.9 464.8,413.3 464.8,413.3 464.8,413.3 462.0,411.0 462.0,411.0 462.0,411.0 462.0,411.0 462.0,411.0 462.0,411.0 462.0,411.0 461.4,408.9 461.4,408.9 461.4,408.9 459.5,406.5 459.5,406.5 459.5,406.5 454.5,404.1 454.5,404.1 454.5,404.1 454.4,404.0 454.4,404.0 454.4,404.0 454.4,404.0 454.4,404.0 454.4,404.0 454.4,404.0 454.4,404.0 453.8,400.7 453.8,400.7 453.8,400.7 450.2,397.7 450.2,397.7 450.2,397.7 435.0,397.1 435.0,397.1 429.6,397.7 429.6,397.7 429.6,397.7 428.7,400.7ZM471.4,350.0 471.4,350.0 471.5,350.0 471.5,350.0 471.5,350.0 472.4,349.0 472.4,349.0 472.4,349.0 472.4,349.0 472.4,349.0 472.4,349.0 472.4,349.0 472.4,349.0 472.4,349.0 472.4,349.0 472.4,349.0 472.4,349.0 472.4,349.0 472.4,349.0 472.4,349.0 476.7,351.5 476.9,351.6 476.9,351.6 476.9,351.6 476.9,351.6 476.9,351.7 476.9,351.7 476.9,351.7 477.0,351.7 477.0,351.7 477.0,351.7 477.0,351.7 477.0,351.7 477.0,351.7 477.0,351.7 477.0,351.7 477.0,351.7 477.0,351.7 477.0,351.7 477.0,351.7 477.0,351.7 477.0,351.7 477.0,351.7 477.0,351.7 477.0,351.7 477.0,351.7 483.1,358.8 483.2,358.8 483.2,358.8 491.7,356.1 491.7,356.1 491.7,356.1 491.7,356.1 491.7,356.1 491.7,356.1 491.7,356.1 491.7,356.1 491.8,356.1 491.8,356.1 491.8,356.1 493.0,355.8 493.0,355.8 493.0,355.8 493.0,355.8 493.0,355.8 503.7,357.0 503.7,357.0 503.7,357.0 503.7,357.0 503.7,357.0 505.6,358.1 505.6,358.1 505.6,358.1 505.6,358.0 505.6,358.0 505.6,358.0 505.6,358.0 505.6,358.0 505.6,358.0 505.6,358.0 505.6,358.0 505.6,358.0 505.6,358.0 505.6,358.0 509.1,360.0 509.1,360.0 509.1,360.0 518.3,357.3 518.3,357.3 518.8,357.1 518.8,357.1 518.8,357.1 511.6,341.0 511.6,341.0 511.6,341.0 510.7,342.8 510.7,342.8 510.7,342.8 510.7,342.8 510.7,342.8 510.7,342.8 510.7,342.8 510.7,342.8 510.7,342.8 510.7,342.8 510.7,342.8 510.7,342.8 510.7,342.8 510.7,342.8 510.7,342.8 493.7,337.5 493.7,337.4 482.1,334.8 482.1,334.8 482.1,334.8 482.1,334.8 482.1,334.8 482.1,334.8 482.1,334.8 482.1,334.8 482.1,334.8 482.1,334.8 482.1,334.8 482.1,334.8 481.7,333.3 481.7,333.3 481.7,333.3 481.6,335.4 481.5,336.3 481.5,336.3 481.5,336.3 481.5,336.3 481.5,336.3 481.5,336.3 481.5,336.3 472.6,347.9 472.6,347.9 471.4,350.0ZM464.8,442.7 464.8,442.7 469.4,447.2 469.4,447.2 476.9,453.0 476.9,453.0 476.9,453.0 483.7,454.0 483.7,454.0 483.7,454.0 495.3,447.2 495.3,447.2 495.3,447.2 486.9,437.4 486.9,437.4 486.9,437.4 486.9,437.4 486.9,437.4 486.9,437.4 486.9,437.4 486.9,437.4 486.9,437.4 488.2,427.5 488.2,427.5 488.2,427.5 485.6,426.7 485.6,426.7 485.6,426.7 467.9,442.1 467.9,442.1 467.9,442.1 467.9,442.1 467.9,442.1 467.9,442.1 464.8,442.7ZM535.6,475.0 537.4,486.6 537.1,487.3 537.2,488.5 545.2,482.8 552.7,477.8 560.2,472.8 563.2,470.8 563.8,448.3 563.6,455.3 563.1,455.2 551.4,452.2 543.7,453.5 532.1,458.0 537.4,468.7ZM480.1,483.9 480.1,483.9 482.8,488.4 482.8,488.4 482.8,488.4 482.8,488.4 483.7,492.0 483.7,492.0 483.7,492.0 490.9,494.7 490.9,494.7 498.0,498.3 498.0,498.3 498.0,498.3 507.0,496.5 507.0,496.5 507.0,496.5 507.0,496.5 507.0,496.5 507.0,496.5 507.0,496.5 514.1,499.1 514.1,499.1 514.2,499.1 517.7,497.4 517.7,497.4 517.7,497.4 514.2,487.5 514.1,487.5 514.1,487.5 508.8,483.0 508.8,483.0 508.8,483.0 501.6,481.3 501.6,481.3 501.6,481.2 497.1,481.2 497.1,481.3 483.7,482.1 483.7,482.1 483.7,482.1 483.7,482.1 483.7,482.1 481.9,481.6 481.9,481.6 481.9,481.6 480.1,483.9ZM429.8,516.8 429.8,516.8 429.8,516.8 430.4,517.1 430.4,517.1 430.4,517.1 430.4,517.1 430.4,517.1 430.4,517.1 430.4,517.1 430.4,517.1 430.4,517.1 430.4,517.1 430.4,517.1 430.4,517.1 430.4,517.1 430.4,525.1 430.4,525.1 430.4,525.1 442.1,525.1 442.1,525.1 442.1,525.1 442.1,525.1 442.1,525.1 442.1,525.1 442.1,525.1 442.1,525.1 442.1,525.1 442.1,525.1 442.1,525.1 445.7,530.1 445.7,530.1 445.7,530.1 459.5,530.1 459.5,530.1 459.5,530.1 459.5,487.5 459.5,487.5 459.5,487.5 430.4,487.5 430.4,487.5 430.4,487.5 430.4,489.9 430.4,489.9 430.4,489.9 430.4,489.9 430.4,489.9 430.4,489.9 430.4,489.9 430.4,489.9 430.4,489.9 430.4,489.9 430.4,489.9 430.4,489.9 430.4,489.9 430.4,489.9 430.4,489.9 430.4,489.9 429.8,490.0 429.8,490.0 429.8,490.0ZM474.3,530.8 474.3,530.8 474.3,564.5 474.3,564.5 474.3,564.5 513.9,564.2 513.9,564.2 513.9,564.2 512.8,561.3 512.8,561.3 510.3,551.3 510.3,551.3 510.3,551.3 510.3,538.7 510.3,538.7 510.3,538.7 512.5,529.9 512.5,529.9 512.5,529.9 474.3,530.8Z"/>
<path class="c2" d="M202.5,58.1 202.5,58.1 202.5,58.1 202.5,58.1 202.5,58.1 202.5,58.1 202.5,58.1 202.5,58.1 202.5,58.1 202.5,58.1 202.5,58.1 202.5,58.1 202.5,58.1 202.5,58.1 202.5,58.1 202.5,58.1 202.5,58.1 202.5,58.1 202.5,58.1 202.5,58.3 202.5,58.3 202.5,58.3 249.2,58.3 249.2,58.3 249.2,58.3 249.2,34.6 249.2,34.6 249.2,34.6 202.5,34.6 202.5,34.6 202.5,34.6 202.5,58.1ZM249.2,58.3 249.2,58.3 249.2,81.4 249.2,81.4 249.2,81.4 278.5,81.4 278.5,81.4 278.5,81.4 278.5,58.3 278.5,58.3 278.5,58.3 249.2,58.3ZM336.7,58.3 336.6,58.3 336.6,81.4 336.7,81.4 336.7,81.4 365.4,81.4 365.4,81.4 365.4,81.4 365.4,58.3 365.4,58.3 365.4,58.3 336.7,58.3ZM249.2,81.4 249.2,81.4 249.2,104.5 249.2,104.5 249.2,104.5 278.5,104.5 278.5,104.5 278.5,104.5 278.5,81.4 278.5,81.4 278.5,81.4 249.2,81.4ZM307.3,81.4 307.3,81.4 307.3,104.5 307.3,104.5 307.3,104.5 336.6,104.5 336.6,104.5 336.6,104.5 336.6,81.4 336.6,81.4 336.6,81.4 307.3,81.4ZM202.3,120.3 202.3,120.3 202.3,120.3 202.5,120.4 202.5,120.4 202.5,120.4 202.5,120.4 202.5,120.4 202.5,120.4 202.5,120.4 202.5,120.4 202.5,120.4 202.5,120.4 202.5,120.4 202.5,120.4 202.5,120.4 202.5,128.0 202.5,128.0 202.5,128.0 249.2,128.0 249.2,128.0 249.2,128.0 249.2,104.5 249.2,104.5 249.2,104.5 202.5,104.5 202.5,104.5 202.5,104.5 202.5,104.6 202.5,104.6 202.5,104.6 202.5,104.6 202.5,104.6 202.5,104.6 202.5,104.6 202.5,104.6 202.5,104.6 202.5,104.6 202.5,104.6 202.5,104.6 202.5,104.6 202.5,104.6 202.5,104.6 202.5,104.6 202.5,104.6 202.4,104.6 202.4,104.6 202.4,104.6ZM202.3,150.4 202.3,150.4 202.5,150.5 202.5,150.5 202.5,150.5 202.5,150.5 202.5,150.5 202.5,150.5 202.5,150.5 202.5,150.5 202.5,150.5 202.5,150.5 202.5,150.5 202.5,150.5 202.5,150.5 202.5,150.5 202.5,150.5 202.5,150.5 202.5,151.1 202.5,151.1 202.5,151.1 230.4,151.1 230.4,151.1 230.4,151.1 230.4,128.0 230.4,128.0 230.4,128.0 202.5,128.0 202.5,128.0 202.5,128.0 202.5,128.0 202.5,128.0 202.5,128.0 202.5,128.0 202.5,128.0 202.5,128.0 202.5,128.0 202.5,128.0 202.5,128.0 202.5,128.0 202.5,128.0 202.5,128.0 202.5,128.0 202.5,128.0 202.5,120.4 202.5,120.4 202.5,120.4 202.3,120.3 202.3,120.3 202.3,120.3 202.3,150.4ZM202.1,247.3 202.1,247.3 247.2,247.3 247.2,247.3 247.2,247.3 247.2,224.0 247.2,224.0 247.2,224.0 202.1,224.0 202.1,224.0 202.1,224.0 202.1,247.3ZM274.7,224.0 274.7,224.0 274.7,247.3 274.7,247.3 274.7,247.3 302.8,247.3 302.8,247.3 302.8,247.3 302.8,224.0 302.8,224.0 302.8,224.0 274.7,224.0ZM274.0,247.3 274.0,247.3 274.0,270.9 274.0,270.9 274.0,270.9 302.8,270.9 302.8,270.9 302.8,270.9 302.8,247.3 302.8,247.3 302.8,247.3 274.0,247.3ZM329.9,247.3 329.9,247.3 329.9,270.9 329.9,270.9 329.9,270.9 352.9,270.9 352.9,270.9 352.9,270.9 352.9,270.9 352.9,270.9 352.9,270.9 352.9,270.9 352.9,270.9 352.9,270.9 352.9,270.9 352.9,270.9 352.9,270.9 352.9,270.9 352.9,270.9 352.9,270.9 352.9,270.9 352.9,270.9 352.9,274.0 353.0,274.0 353.0,274.0 353.0,274.0 353.0,274.0 353.0,274.0 353.0,271.3 353.0,271.3 353.0,271.3 353.0,271.3 353.0,271.3 353.0,271.3 353.0,271.3 353.0,271.3 353.0,271.3 353.0,271.3 353.0,271.3 353.0,271.3 353.0,271.3 353.0,271.3 353.0,271.3 353.0,271.3 353.0,271.3 356.0,271.3 356.0,271.3 356.0,271.3 356.5,270.9 356.5,270.9 356.5,270.9 356.5,270.9 356.5,270.9 356.5,270.9 356.5,270.9 356.5,270.9 357.5,270.9 357.5,270.9 357.5,270.9 357.5,270.0 357.5,270.0 357.5,270.0 357.5,270.0 357.5,270.0 357.5,270.0 357.5,270.0 357.5,270.0 357.5,270.0 357.5,270.0 357.5,270.0 357.5,270.0 357.5,270.0 357.5,267.0 357.5,267.0 357.5,247.5 357.5,247.5 357.5,247.5 357.5,247.5 357.5,247.5 357.5,247.5 357.5,247.5 357.5,247.5 357.5,247.5 357.5,247.5 357.5,247.5 357.5,247.5 357.5,247.5 357.5,247.5 357.5,247.5 357.5,247.5 357.5,247.5 357.8,247.5 357.8,247.5 357.8,247.5 357.8,247.5 357.8,247.5 357.8,247.5 357.5,247.5 357.5,247.5 357.5,247.5 357.5,247.5 357.5,247.5 357.5,247.5 357.5,247.5 357.5,247.5 357.5,247.5 357.5,247.5 357.5,247.5 357.5,247.5 357.5,247.5 357.5,247.5 357.5,247.5 357.5,247.5 357.5,247.5 357.5,247.3 357.5,247.3 357.5,247.3 329.9,247.3ZM270.7,270.9 270.7,270.9 270.7,294.4 270.7,294.4 270.7,294.4 297.8,294.4 297.8,294.4 297.8,294.4 297.8,270.9 297.8,270.9 297.8,270.9 270.7,270.9ZM320.9,270.9 320.9,270.9 320.9,292.6 320.9,292.6 320.9,292.6 352.9,292.6 352.9,292.6 352.9,292.6 352.9,270.9 352.9,270.9 352.9,270.9 320.9,270.9ZM175.0,340.0 175.0,340.0 177.9,345.2 177.9,345.2 177.9,345.2 181.0,347.2 181.0,347.2 181.0,347.2 181.0,347.2 181.0,347.2 181.0,347.2 181.0,347.2 181.0,347.2 181.0,347.2 181.0,347.2 181.0,347.2 181.0,347.2 181.0,347.2 181.0,347.2 181.0,347.2 181.0,347.2 181.0,347.2 181.0,347.2 181.0,347.2 181.0,347.2 181.0,347.2 179.6,348.2 179.6,348.2 179.6,348.2 180.0,349.0 180.0,349.0 180.0,349.0 227.6,379.6 227.6,379.6 227.6,379.6 227.6,367.8 227.6,367.8 227.6,367.8 227.6,367.8 227.6,367.8 227.6,367.8 227.6,367.8 227.6,367.8 227.6,367.8 227.6,367.8 227.6,367.8 227.6,367.8 227.6,367.8 227.6,367.8 227.6,367.8 227.6,367.8 227.6,367.8 238.9,367.8 238.9,367.8 238.9,367.8 238.9,351.5 238.9,351.5 238.9,351.5 238.9,351.5 238.9,351.5 238.9,351.5 238.9,351.5 238.9,351.5 238.9,351.5 238.9,351.5 238.9,351.5 238.9,351.5 238.9,351.5 238.9,351.5 238.9,351.5 238.9,351.5 238.9,351.5 251.4,351.5 251.4,351.5 251.4,351.5 251.4,347.8 251.4,347.8 251.4,347.8 251.4,347.8 251.4,347.8 251.4,347.8 251.4,347.8 251.4,347.8 251.4,347.8 251.4,347.8 251.4,347.8 251.4,347.8 251.4,347.8 251.4,347.8 251.4,347.8 251.4,347.8 251.4,347.8 265.5,348.1 265.5,348.1 265.5,348.1 265.5,348.1 265.5,348.1 265.5,348.1 265.5,348.1 265.5,348.1 265.5,348.1 265.5,348.1 265.5,348.1 265.6,348.4 265.6,348.4 265.6,348.4 271.6,348.7 271.6,348.7 271.6,348.7 271.6,348.7 276.5,350.3 276.5,350.3 276.5,350.3 267.7,342.7 267.7,342.7 267.7,342.7 267.7,342.7 260.2,331.5 260.2,331.5 260.2,331.5 247.7,326.5 247.7,326.4 241.5,324.5 241.5,324.5 241.5,324.5 241.5,324.5 241.4,324.5 241.4,324.5 241.4,324.5 241.4,324.5 241.4,324.5 241.4,324.5 241.4,324.5 241.4,324.5 241.4,324.5 241.4,324.5 241.4,324.4 241.4,324.4 241.4,324.4 241.4,324.4 241.4,324.4 241.4,324.4 241.4,324.4 241.4,324.4 241.4,324.4 241.5,324.4 241.5,324.4 241.5,324.4 241.5,324.4 241.5,324.4 241.5,324.4 241.5,324.4 243.7,324.5 243.7,324.5 243.7,324.5 243.7,324.4 243.7,324.4 243.7,324.4 241.4,324.4 241.4,324.4 241.4,324.4 241.4,324.4 241.4,324.4 241.4,324.4 233.9,320.7 233.9,320.7 233.9,320.7 233.9,320.7 227.6,315.2 227.6,315.2 227.6,315.2 221.3,312.7 221.3,312.7 221.3,312.7 217.1,314.7 217.1,314.7 217.1,314.7 215.1,315.2 215.1,315.2 215.1,315.2 215.1,315.2 215.1,315.2 205.0,313.9 205.0,313.9 205.0,313.9 205.0,313.9 205.0,313.9 205.0,313.9 201.3,311.4 201.3,311.4 201.3,311.4 175.0,340.0ZM323.5,426.0 323.5,426.0 325.3,427.7 325.3,427.7 327.6,430.6 329.5,433.1 329.5,433.1 329.5,433.1 330.3,432.3 330.3,432.3 330.3,432.3 330.3,432.3 330.3,432.3 330.3,432.3 330.3,432.3 330.3,432.3 330.3,432.2 359.1,432.2 359.1,432.3 359.1,432.3 359.1,432.3 359.1,432.3 359.1,432.3 359.1,432.3 359.1,432.3 359.1,432.3 359.1,432.3 359.1,432.3 359.1,432.3 359.1,432.3 359.1,432.3 359.1,432.3 359.1,432.3 359.1,432.3 359.1,433.2 359.1,433.2 359.1,433.2 359.6,433.1 359.6,433.1 359.6,433.1 359.6,413.3 359.6,413.3 359.1,408.8 359.1,408.8 359.1,403.2 359.1,403.2 359.1,403.2 329.1,403.2 329.1,403.2 329.0,403.2 329.0,403.9 329.0,403.9 329.0,403.9 329.0,403.9 329.0,403.9 329.0,403.9 329.0,403.9 329.0,403.9 329.0,403.9 329.0,403.9 329.0,403.9 329.0,403.9 329.0,403.9 329.0,403.9 329.0,403.9 329.0,403.9 329.0,403.9 329.0,403.9 328.3,403.8 328.3,403.8 328.3,403.8 328.3,415.2 328.3,415.2 328.3,415.2 328.3,415.2 328.3,415.2 323.5,426.0ZM500.4,174.3 500.4,174.3 500.4,199.0 500.4,199.0 500.4,199.0 505.9,199.0 505.9,199.0 505.9,199.0 505.9,199.0 505.9,199.0 505.9,199.0 505.9,199.0 505.9,199.0 505.9,199.0 505.9,199.0 505.9,199.0 505.9,199.0 505.9,199.0 505.9,199.0 505.9,199.0 505.9,199.0 505.9,199.0 505.9,200.0 505.9,200.0 505.9,200.0 529.2,200.0 529.2,200.0 529.2,200.0 529.2,171.4 529.2,171.4 529.2,171.4 525.5,173.9 525.5,173.9 525.5,173.9 521.7,181.4 521.7,181.4 521.7,181.4 521.7,181.4 521.7,181.4 521.7,181.4 521.7,181.4 521.7,181.4 521.7,181.4 521.7,181.4 521.7,181.4 521.7,181.4 521.7,181.4 521.7,181.4 521.7,181.4 521.7,181.4 521.7,181.4 519.2,180.2 519.2,180.2 519.2,180.2 519.2,180.2 519.2,180.2 519.2,180.2 519.2,180.2 515.4,173.9 515.4,173.9 515.4,173.9 509.2,175.1 509.2,175.2 509.2,175.2 502.9,177.7 502.9,177.7 502.9,177.7 502.9,177.7 502.9,177.7 502.9,177.7 502.9,177.7 502.9,177.7 502.9,177.7 502.9,177.7 502.9,177.7 502.9,177.7 502.9,177.7 502.9,177.7 500.4,174.3ZM450.8,221.3 450.8,221.3 450.8,221.3 456.1,221.3 456.1,221.3 456.1,221.3 456.1,221.3 456.9,221.5 456.9,221.5 456.9,221.5 469.8,221.5 469.8,221.5 469.8,221.5 469.8,221.5 469.8,221.5 469.8,221.5 469.8,221.5 469.8,221.5 469.8,221.5 469.8,221.5 469.8,221.5 469.8,221.5 469.8,221.5 469.8,221.5 469.8,221.5 469.8,221.5 469.8,221.5 469.8,222.3 469.8,222.3 469.8,222.3 473.1,222.3 473.1,222.3 473.1,222.3 474.2,221.3 474.2,221.3 474.2,221.3 474.3,221.3 474.3,221.3 474.3,221.3 474.3,221.3 474.3,221.3 476.6,221.3 476.6,221.3 476.6,221.3 476.6,198.0 476.6,198.0 476.6,198.0 474.8,198.0 474.8,198.0 474.8,198.0 474.8,198.0 474.8,198.0 474.8,198.0 474.8,198.0 474.8,198.0 474.8,198.0 474.8,198.0 474.8,198.0 474.8,198.0 474.8,198.0 474.8,198.0 474.8,198.0 474.8,198.0 474.8,198.0 474.8,197.2 474.8,197.2 474.8,197.2 451.3,197.2 451.3,197.2 451.3,197.2 450.8,197.9 450.8,197.9 450.8,197.9ZM476.6,199.0 476.6,199.0 476.6,221.8 476.6,221.8 476.6,221.8 487.1,221.8 487.1,221.8 487.1,221.8 487.1,221.8 488.7,222.3 488.7,222.3 488.7,222.3 498.4,222.3 498.4,222.3 498.4,222.3 498.4,222.3 498.4,222.3 498.4,222.3 498.4,222.3 498.4,222.3 498.4,222.3 498.4,222.3 498.4,222.3 498.4,222.3 498.4,222.3 498.4,222.3 498.4,222.3 498.4,222.3 498.4,222.3 498.4,222.8 498.4,222.8 498.4,222.8 501.0,222.8 501.0,222.8 501.0,222.8 502.1,221.8 502.1,221.8 502.1,221.8 502.1,221.8 502.1,221.8 502.1,221.8 502.1,221.8 502.1,221.8 505.9,221.8 505.9,221.8 505.9,221.8 505.9,199.0 505.9,199.0 505.9,199.0 476.6,199.0ZM469.8,222.3 469.8,222.3 469.8,244.8 469.8,244.8 469.8,244.8 498.4,244.8 498.4,244.8 498.4,244.8 498.4,222.3 498.4,222.3 498.4,222.3 488.7,222.3 488.7,222.3 488.7,222.3 488.7,222.3 487.1,221.8 487.1,221.8 487.1,221.8 476.6,221.8 476.6,221.8 476.6,221.8 476.6,221.8 476.6,221.8 476.6,221.8 476.6,221.8 476.6,221.8 476.6,221.8 476.6,221.8 476.6,221.8 476.6,221.8 476.6,221.8 476.6,221.8 476.6,221.8 476.6,221.8 476.6,221.8 476.6,221.3 476.6,221.3 476.6,221.3 474.3,221.3 474.3,221.3 474.3,221.3 473.1,222.3 473.1,222.3 473.1,222.3 473.1,222.3 473.1,222.3 473.1,222.3 473.1,222.3 473.1,222.3 469.8,222.3ZM397.0,431.7 397.0,431.7 397.0,431.8 397.5,431.8 397.5,431.8 397.5,431.8 397.5,431.8 397.5,431.8 397.5,431.8 397.5,431.8 397.5,431.8 397.5,431.8 397.5,431.8 397.5,431.8 397.5,431.8 397.5,431.8 397.5,431.8 397.5,431.8 397.5,431.8 397.5,431.8 397.5,455.8 397.5,455.8 397.5,455.8 398.0,455.8 398.0,455.8 398.0,455.8 398.0,455.8 398.0,455.8 398.0,455.8 398.0,455.8 398.0,455.8 398.0,455.8 398.0,455.8 398.0,455.8 398.0,455.8 398.0,455.8 398.0,455.8 398.0,455.8 398.0,455.8 398.0,455.8 398.0,457.9 398.0,457.9 398.0,457.9 398.2,457.9 398.2,457.9 398.2,457.9 398.2,455.8 398.2,455.8 398.2,455.8 398.2,455.8 398.2,455.8 398.2,455.8 398.2,455.8 398.2,455.8 398.2,455.8 398.2,455.8 398.2,455.8 398.2,455.8 398.2,455.8 398.2,455.8 398.2,455.8 398.2,455.8 398.2,455.8 429.5,455.8 429.5,455.8 429.5,455.8 429.5,431.6 429.5,431.6 429.5,431.6 397.3,431.6 397.3,431.6 397.3,431.6 397.3,431.6 397.3,431.6 397.3,431.6 397.3,431.6 397.3,431.6 397.3,431.6 397.3,431.6 397.3,431.6 397.3,431.6 397.3,431.6 397.3,431.6 397.3,431.6 397.3,431.6 397.3,431.6 397.3,430.5 397.3,430.5 397.3,430.5 397.0,430.5 397.0,430.5 397.0,430.5ZM564.6,216.0 564.6,216.0 565.8,217.6 565.8,217.6 565.8,217.6 565.8,217.6 565.8,217.6 565.8,217.6 565.8,217.6 565.8,217.6 565.8,230.2 565.8,230.2 565.8,230.2 581.9,229.5 581.9,229.5 581.9,229.5 583.7,224.5 583.7,224.5 583.7,224.5 583.7,224.5 583.7,224.5 583.7,224.5 583.7,224.5 583.7,224.5 583.7,224.5 583.7,224.5 583.7,224.5 587.6,223.6 587.6,223.6 587.6,223.6 587.6,199.8 587.6,199.8 587.6,199.8 570.4,202.3 570.4,202.3 567.2,202.7 567.2,202.7 565.8,203.0 565.8,203.0 565.8,203.0 565.8,203.0 565.8,203.0 565.5,202.9 565.5,202.9 565.5,202.9 564.6,203.0 564.6,203.0 564.6,203.0 564.6,216.0ZM548.6,222.8 548.6,222.8 553.0,222.8 553.0,222.8 553.0,222.8 553.0,222.8 553.0,222.8 553.0,222.8 553.0,222.8 553.0,222.8 553.0,222.8 553.0,222.8 553.0,222.8 553.0,222.8 553.0,222.8 553.0,222.8 553.0,222.8 553.0,222.8 553.0,222.8 553.0,228.0 553.0,228.0 553.0,228.0 553.0,228.0 553.0,228.0 553.0,228.0 553.0,228.0 553.0,228.0 553.0,228.0 553.0,228.0 553.0,228.0 553.0,228.0 553.0,228.0 553.0,228.0 553.0,228.0 553.0,228.0 553.0,228.0 553.0,228.0 553.0,228.0 553.0,231.5 553.1,231.5 553.1,231.5 564.6,231.5 564.6,231.5 564.6,231.5 564.6,228.0 564.6,228.0 564.6,228.0 564.6,228.0 564.6,228.0 564.6,228.0 564.6,228.0 564.6,228.0 564.6,228.0 564.6,228.0 564.6,228.0 564.6,228.0 564.6,228.0 564.6,228.0 564.6,228.0 564.6,228.0 564.6,228.0 565.8,228.0 565.8,228.0 565.8,228.0 565.8,217.6 565.8,217.6 565.8,217.6 564.6,216.0 564.6,216.0 564.6,216.0 564.6,222.7 564.6,222.7 564.6,222.7 564.6,222.7 564.6,222.7 564.6,222.7 564.6,222.7 564.6,222.7 564.6,222.7 564.6,222.7 564.6,222.7 564.6,222.7 564.6,222.7 564.6,222.7 564.6,222.7 564.6,222.7 564.6,222.7 548.8,222.7 548.8,222.7 548.8,222.7 548.6,222.8ZM621.3,408.0 621.3,408.0 622.9,411.3 622.9,411.3 622.9,411.3 622.9,411.3 622.9,411.3 622.9,411.3 622.9,411.3 622.9,411.3 622.9,411.3 622.9,411.3 622.9,411.3 622.9,411.3 622.9,411.3 622.9,411.3 622.9,411.3 622.9,411.3 622.6,411.6 622.6,411.6 622.6,411.6 627.1,436.3 627.1,436.3 627.1,436.3 628.6,435.0 628.6,435.0 628.6,435.0 634.7,431.5 634.7,431.5 641.6,427.2 641.7,427.2 646.9,423.7 646.9,423.7 652.1,419.4 652.1,419.4 652.1,419.4 653.3,417.0 653.3,417.0 653.3,417.0 643.4,408.1 643.4,408.1 643.4,408.1 633.8,404.6 633.8,404.6 633.8,404.6 627.3,408.7 627.3,408.7 627.3,408.7 627.3,408.7 627.3,408.7 627.3,408.7 627.3,408.7 627.3,408.7 621.3,408.0ZM410.0,271.3 410.0,271.3 410.0,271.3 410.0,271.3 410.0,271.4 424.3,271.4 424.3,271.3 424.3,271.3 444.0,262.2 444.0,262.2 444.0,262.2 447.1,258.3 447.1,258.3 447.1,258.3 447.5,248.9 447.5,248.9 447.5,248.8 414.7,248.8 414.7,248.8 414.7,248.8 414.7,248.8 414.7,248.8 414.7,248.8 414.7,248.8 414.7,248.8 414.7,248.8 414.7,248.8 414.7,248.8 414.7,248.8 414.7,248.8 414.7,248.8 414.7,248.8 414.7,248.8 414.7,248.8 414.7,247.9 414.7,247.9 414.7,247.8 413.2,247.8 413.2,247.9 413.2,247.9 413.2,271.3 413.2,271.3 413.2,271.3 413.2,271.3 413.2,271.3 413.2,271.3 413.2,271.3 413.2,271.3 413.2,271.3 413.2,271.3 413.2,271.3 413.2,271.3 413.2,271.3 413.2,271.3 413.2,271.3 413.2,271.3 413.2,271.3 410.0,271.3ZM492.7,244.8 492.7,244.8 492.7,264.5 492.7,264.5 492.7,264.5 499.5,268.1 499.5,268.1 499.5,268.1 503.4,267.0 503.4,267.0 515.8,263.8 515.8,263.8 515.8,263.8 517.8,262.7 517.8,262.7 517.8,262.7 517.8,262.7 517.8,262.7 522.8,261.9 522.8,261.9 522.8,261.9 522.8,245.9 522.8,245.9 522.8,245.8 498.4,245.8 498.4,245.8 498.4,245.8 498.4,245.8 498.4,245.8 498.4,245.8 498.4,245.8 498.4,245.8 498.4,245.8 498.4,245.8 498.4,245.8 498.4,245.8 498.4,245.8 498.4,245.8 498.4,245.8 498.4,245.8 498.4,245.8 498.4,244.8 498.4,244.8 498.4,244.8 492.7,244.8ZM522.3,262.1 522.3,262.2 529.9,271.8 529.9,271.8 529.9,271.8 533.3,272.1 533.3,272.1 533.3,272.1 558.2,257.6 558.2,257.6 558.2,257.6 556.8,256.2 556.8,256.2 556.8,256.2 556.8,256.2 556.8,256.2 556.8,256.2 556.8,256.2 556.8,256.2 556.8,256.2 556.8,256.2 558.2,243.1 558.2,243.1 558.2,243.1 553.0,243.1 553.0,243.1 553.0,243.1 553.0,245.8 553.0,245.8 553.0,245.8 553.0,245.8 553.0,245.8 553.0,245.8 553.0,245.8 553.0,245.8 553.0,245.8 553.0,245.8 553.0,245.8 553.0,245.8 553.0,245.8 553.0,245.8 553.0,245.8 553.0,245.8 553.0,245.8 522.8,245.8 522.8,245.9 522.8,245.9 522.8,261.9 522.8,261.9 522.8,261.9 522.8,261.9 522.8,261.9 522.8,261.9 522.8,261.9 522.8,261.9 522.8,261.9 522.8,261.9 522.8,261.9 522.8,261.9 522.8,261.9 522.8,261.9 522.8,261.9 522.3,261.9 522.3,261.9 522.3,261.9 522.3,262.1ZM495.9,297.1 495.9,297.1 499.2,302.6 499.2,302.6 499.2,302.6 499.2,302.6 500.6,307.0 500.6,307.0 500.6,307.0 501.8,309.5 501.8,309.5 501.8,309.5 505.4,311.6 505.4,311.6 505.4,311.6 505.4,311.6 505.4,311.6 507.6,314.6 507.6,314.6 507.6,314.6 512.6,314.2 512.6,314.2 512.6,314.2 538.1,303.2 538.1,303.2 538.1,303.2 531.5,290.1 531.5,290.1 531.5,290.1 525.7,283.6 525.7,283.6 525.7,283.6 509.9,290.0 509.9,290.1 509.9,290.1 509.9,290.1 509.9,290.1 509.8,290.1 509.8,290.1 509.8,290.1 509.8,290.0 509.8,290.0 509.8,290.0 509.8,290.0 509.8,290.0 509.8,290.0 509.8,290.0 509.8,290.0 509.8,290.0 509.8,290.0 509.8,290.0 509.8,290.0 509.8,290.0 509.8,290.0 509.8,290.0 509.8,290.0 509.8,290.0 509.8,290.0 510.3,289.2 510.3,289.2 510.3,289.2 502.6,293.4 502.6,293.4 502.6,293.4 502.1,294.0 502.1,294.0 502.1,294.0 502.1,294.0 502.1,294.0 495.9,297.1ZM531.5,290.1 531.5,290.1 538.1,303.2 538.2,303.2 546.4,316.0 546.4,316.0 547.8,318.0 547.8,318.0 547.8,318.0 561.9,311.5 561.9,311.5 561.9,311.5 561.9,311.5 561.9,311.5 561.9,311.5 561.9,311.5 561.9,311.5 562.0,311.5 562.0,311.5 562.0,311.5 562.0,311.5 562.0,311.5 562.0,311.5 562.0,311.5 562.0,311.5 562.0,311.5 562.0,311.5 562.0,311.5 562.1,312.0 562.1,312.0 562.1,312.0 562.4,311.3 562.4,311.3 562.4,311.3 562.4,311.3 562.4,311.3 562.4,311.3 562.4,311.3 562.4,311.3 562.4,311.3 564.1,310.5 564.1,310.5 564.1,310.5 567.4,305.5 567.4,305.5 567.4,305.5 554.7,286.6 554.7,286.6 554.7,286.6 541.2,284.9 541.2,284.9 541.2,284.9 531.5,290.1ZM529.2,171.4 529.2,171.4 529.2,200.0 529.2,200.0 529.2,200.0 535.0,200.0 535.0,200.0 535.0,200.0 535.0,200.0 535.0,200.0 535.0,200.0 535.0,200.0 535.0,200.0 535.0,200.0 535.0,200.0 535.0,200.0 535.0,200.0 535.0,200.0 535.0,200.0 535.0,200.0 535.0,200.0 535.0,200.0 535.0,200.9 535.0,200.9 535.0,200.9 535.0,201.0 535.0,201.0 535.0,201.0 535.0,200.9 535.0,200.9 535.0,200.9 535.0,200.9 535.0,200.9 535.0,200.9 535.0,200.9 535.0,200.9 535.0,200.9 535.0,200.9 535.0,200.9 535.0,200.9 535.0,200.9 535.0,200.9 535.0,200.9 535.0,200.9 535.0,200.9 559.5,200.9 559.5,200.9 559.5,200.9 559.5,182.2 559.5,182.2 559.5,182.2 558.8,180.1 558.8,180.1 558.8,180.1 550.0,176.3 550.0,176.3 550.0,176.3 545.0,173.1 545.0,173.1 545.0,173.1 540.0,176.3 540.0,176.3 540.0,176.3 540.0,176.3 540.0,176.3 540.0,176.3 540.0,176.3 540.0,176.3 540.0,176.3 540.0,176.3 540.0,176.3 540.0,176.3 540.0,176.3 540.0,176.3 540.0,176.3 540.0,176.3 537.0,172.6 537.0,172.6 537.0,172.6 529.2,171.4ZM644.6,221.8 644.6,221.8 647.3,227.1 647.3,227.1 647.3,227.1 649.6,227.7 649.6,227.7 649.6,227.7 649.6,227.7 649.6,227.7 649.6,227.7 649.6,227.7 649.6,227.7 649.6,227.7 649.6,227.7 649.6,227.7 649.6,227.7 649.6,227.7 649.6,227.7 649.6,228.4 649.6,228.4 649.6,228.4 649.8,228.5 649.8,228.5 649.8,228.5 649.7,228.2 649.7,228.2 649.7,228.2 649.7,228.2 649.7,228.2 649.7,228.2 649.7,228.2 649.7,228.2 649.7,228.2 649.7,228.2 649.7,228.2 649.7,228.2 649.7,228.2 649.7,228.2 649.7,228.2 649.7,228.2 649.7,228.2 649.7,228.2 651.2,228.2 651.2,228.2 651.2,228.2 651.2,228.2 653.5,228.9 653.5,228.9 653.5,228.9 653.5,207.5 653.5,207.5 653.5,207.4 647.9,203.1 647.9,203.1 647.9,203.0 647.9,203.0 647.9,203.0 647.9,203.0 647.9,203.0 647.9,203.0 647.9,203.0 647.9,203.0 647.9,196.9 647.9,196.9 647.9,196.9 647.8,197.2 647.8,197.2 647.8,197.2 647.8,203.0 647.8,203.0 647.8,203.0 647.8,203.0 647.8,203.0 647.8,203.0 647.8,203.0 647.8,203.0 647.8,203.0 647.8,203.0 647.8,203.0 647.8,203.0 647.8,203.0 647.8,203.0 647.8,203.0 647.8,203.0 647.8,203.0 647.8,203.0 647.8,203.0 647.8,203.0 644.6,202.1 644.6,202.1 644.6,202.1 644.6,221.8ZM650.6,254.1 650.6,254.1 650.6,254.2 656.9,254.2 656.9,254.2 656.9,254.2 656.9,254.2 656.9,254.2 661.3,255.9 661.4,255.9 661.4,255.9 667.6,256.8 667.6,256.8 667.6,256.8 676.6,255.6 676.6,255.6 685.3,254.6 685.3,254.6 685.3,254.6 685.3,237.5 685.3,237.5 685.3,237.5 680.2,238.0 680.2,238.0 680.2,238.0 680.1,238.0 680.1,238.0 680.1,238.0 674.8,235.7 674.8,235.7 674.8,235.7 667.6,238.4 667.6,238.4 667.6,238.4 667.6,238.4 667.6,238.4 660.5,238.0 660.5,238.0 660.5,238.0 660.5,238.0 653.3,235.7 653.3,235.7 650.6,234.5 650.6,234.5 650.6,234.5ZM631.4,246.0 631.4,246.0 631.8,246.1 631.8,246.1 631.8,246.1 631.8,246.1 631.8,246.1 631.8,246.1 631.8,246.1 634.5,248.8 634.5,248.8 634.5,248.8 634.5,248.8 634.5,248.8 634.5,248.8 634.5,248.8 634.5,248.8 634.5,248.8 634.5,255.0 634.5,255.0 634.5,255.0 650.6,254.2 650.6,254.1 650.6,254.1 650.6,236.5 650.6,236.5 650.6,236.5 649.9,236.8 649.9,236.8 649.9,236.8 650.0,238.8 650.0,238.8 650.0,238.8 650.0,238.8 650.0,238.8 650.0,238.8 650.0,238.8 650.0,238.8 650.0,238.8 650.0,238.8 650.0,238.8 644.6,242.4 644.6,242.4 644.6,242.4 641.7,243.4 637.4,245.0 637.4,245.0 637.4,245.0 637.4,245.0 637.4,245.1 633.5,245.1 633.5,245.1 633.5,245.1 631.4,246.0ZM604.1,238.9 604.1,238.9 606.5,248.0 606.5,248.0 606.5,248.0 606.5,248.0 606.5,248.0 606.5,248.0 605.7,251.4 605.7,251.4 605.7,251.4 607.6,256.0 607.6,256.1 607.7,256.1 607.7,256.1 607.7,256.1 608.5,256.1 608.5,256.1 608.5,256.1 608.5,256.1 608.5,256.1 608.5,256.1 608.5,256.1 608.5,256.1 608.5,256.1 608.5,256.1 608.5,256.1 608.5,256.1 608.5,256.1 608.5,256.1 608.5,256.1 608.5,256.1 608.6,257.9 608.6,257.9 608.6,257.9 609.4,259.4 609.4,259.4 609.4,259.4 609.4,259.4 609.4,259.4 609.4,259.4 609.4,268.1 609.4,268.1 609.4,268.1 634.5,267.6 634.5,267.6 634.5,267.6 634.5,248.8 634.5,248.8 634.5,248.8 631.8,246.1 631.8,246.1 631.8,246.1 630.6,245.9 630.6,245.9 630.6,245.9 630.6,245.9 630.6,245.9 630.6,245.9 630.6,245.9 629.7,245.1 629.7,245.1 629.7,245.1 625.8,245.1 625.8,245.0 619.5,244.2 619.5,244.1 619.5,244.1 612.6,242.1 612.6,242.1 610.3,241.6 610.3,241.6 610.3,241.6 604.1,238.9ZM656.0,279.2 656.0,279.2 659.7,279.2 659.7,279.2 659.7,279.2 659.7,279.2 659.7,279.2 659.7,279.2 659.7,279.2 659.7,279.2 659.7,279.2 659.7,279.2 659.7,279.2 659.7,279.2 659.7,279.2 659.7,279.2 659.7,279.2 659.7,279.2 659.8,279.7 659.8,279.7 659.8,279.7 662.6,281.8 662.6,281.8 662.6,281.8 661.8,279.2 661.8,279.2 661.8,279.2 661.8,279.2 661.8,279.2 661.8,279.2 661.8,279.2 661.8,279.2 661.8,279.2 661.8,279.2 661.8,279.2 661.8,279.2 661.8,279.2 661.8,279.2 661.8,279.2 661.8,279.2 661.8,279.2 661.8,279.2 661.8,279.2 661.8,279.2 689.1,279.2 689.1,279.2 689.1,279.2 689.1,278.8 689.1,278.8 689.1,278.8 685.3,276.3 685.3,276.3 685.3,276.3 685.3,276.3 685.3,276.3 685.3,276.3 685.3,276.3 685.3,276.3 685.3,276.3 685.3,276.3 685.3,276.3 685.3,254.6 685.3,254.6 685.3,254.6 676.6,255.6 676.6,255.6 667.6,256.8 667.6,256.8 667.6,256.8 667.6,256.8 661.4,255.9 661.4,255.9 661.3,255.9 660.5,259.5 660.5,259.5 657.8,266.7 657.8,266.7 657.8,266.7 656.0,279.2ZM578.9,275.8 578.9,275.8 581.6,283.3 581.6,283.3 581.6,283.3 583.0,284.5 583.0,284.5 583.0,284.5 583.0,284.5 583.0,284.5 583.0,284.5 583.0,284.5 583.9,287.8 583.9,287.8 583.9,287.8 585.8,290.1 585.8,290.1 589.9,294.2 593.4,297.6 593.4,297.6 593.4,297.6 593.4,297.6 593.4,297.6 593.4,297.6 593.4,297.6 593.4,297.6 593.4,297.6 593.4,297.6 593.4,297.6 593.4,297.6 593.4,297.6 593.4,297.6 593.4,297.7 593.4,297.7 593.4,297.7 593.4,297.7 593.4,297.7 593.4,297.7 593.4,297.7 593.4,297.7 587.7,299.4 587.7,299.4 587.7,299.4 588.5,299.8 588.5,299.8 588.5,299.8 592.7,298.1 592.7,298.1 592.7,298.1 592.7,298.1 592.7,298.1 592.7,298.1 592.7,298.1 592.7,298.1 592.7,298.1 592.7,298.1 592.7,298.1 592.7,298.1 592.7,298.1 592.7,298.1 592.7,298.1 595.1,302.1 595.3,302.5 595.3,302.5 595.4,302.5 595.5,302.9 595.5,302.9 595.5,302.9 601.4,302.1 601.4,302.1 601.4,302.1 608.2,299.5 608.2,299.5 608.2,299.5 621.9,298.0 621.9,298.0 621.9,298.0 620.1,295.9 620.1,295.9 620.1,295.9 617.4,290.5 617.4,290.5 613.9,283.3 613.8,283.3 611.2,276.2 611.2,276.2 609.4,269.0 609.4,269.0 609.4,269.0 578.9,275.8ZM537.1,324.3 537.1,324.3 538.5,328.4 538.5,328.4 538.5,328.4 538.5,328.4 538.5,328.4 538.5,328.4 538.5,328.4 538.5,328.4 538.5,328.4 538.4,328.6 538.4,328.6 538.4,328.6 539.1,330.1 539.1,330.1 539.3,330.9 539.3,330.9 539.3,330.9 545.4,338.6 545.4,338.7 545.4,338.7 548.7,345.3 548.7,345.3 548.7,345.3 554.7,344.2 554.7,344.2 554.8,344.2 561.4,335.9 561.4,335.9 561.4,335.9 561.4,335.9 561.4,335.9 568.5,331.5 568.5,331.5 568.5,331.5 568.5,331.5 568.5,331.5 568.5,331.5 568.5,331.5 568.5,331.5 568.5,331.5 568.5,331.5 568.5,331.5 568.5,331.5 568.5,331.5 568.5,331.5 568.5,331.5 568.5,331.5 568.5,331.5 568.5,331.5 568.5,331.5 568.8,332.1 568.8,332.1 568.8,332.1 569.1,327.7 569.1,327.7 569.1,327.7 566.7,322.2 566.7,322.2 566.7,322.2 566.5,321.5 566.5,321.5 566.5,321.5 566.0,320.4 566.0,320.4 563.7,315.5 563.7,315.5 562.3,312.8 562.3,312.8 562.3,312.8 562.0,311.5 562.0,311.5 562.0,311.5 559.1,312.8 547.8,318.0 547.8,318.0 542.6,320.3 542.6,320.3 542.6,320.3 541.8,321.9 541.8,321.9 541.8,321.9 541.8,321.9 541.8,321.9 541.8,321.9 541.8,321.9 537.1,324.3ZM570.4,336.5 570.4,336.5 570.7,344.2 570.7,344.2 572.4,353.0 574.0,361.8 574.0,361.8 574.0,361.8 574.0,361.8 574.0,361.8 574.0,361.8 574.0,361.8 574.0,361.8 574.0,361.8 574.0,361.8 574.0,361.8 574.0,361.8 574.0,361.8 574.0,361.8 574.0,361.8 574.0,361.8 574.0,361.8 570.9,362.5 570.9,362.5 570.9,362.5 574.5,368.3 574.5,368.3 574.5,368.3 574.5,368.3 574.5,368.3 574.5,368.3 574.6,370.1 574.6,370.1 574.6,370.1 590.0,370.1 590.0,370.1 590.0,370.1 590.0,369.7 590.0,369.7 590.0,369.7 590.0,369.7 590.0,369.7 590.0,369.6 590.0,369.6 590.0,369.6 590.0,369.6 590.9,368.8 590.9,368.8 590.9,368.8 590.9,350.9 590.9,350.9 590.5,345.4 590.5,345.4 590.5,345.4 589.6,343.9 589.6,343.9 589.6,343.9 589.5,343.9 589.5,343.9 589.5,343.9 589.5,343.9 589.5,343.9 589.5,343.9 589.5,343.9 589.5,343.9 589.5,343.9 589.5,343.9 589.5,343.9 589.5,343.9 589.5,343.9 589.5,343.9 589.5,343.9 588.9,336.3 588.9,336.3 588.9,336.3 580.8,337.1 571.8,338.1 571.8,338.1 571.8,338.1 571.8,338.1 571.8,338.1 571.8,338.1 571.8,338.1 571.8,338.1 571.8,338.1 571.8,338.1 571.8,338.1 570.4,336.5ZM578.3,402.6 578.3,402.6 580.1,410.1 580.1,410.1 580.1,410.1 583.7,417.3 583.7,417.3 587.3,423.6 587.3,423.6 587.3,423.6 589.1,421.8 589.1,421.8 589.1,421.8 589.1,421.8 589.1,421.8 589.1,421.8 589.1,421.8 589.1,421.8 598.0,420.9 598.0,420.9 598.0,420.9 603.4,414.6 603.4,414.6 603.4,414.6 603.4,414.6 603.4,414.6 603.4,414.6 609.7,411.9 609.7,411.9 609.7,411.9 610.2,405.1 610.2,405.1 610.2,405.1 601.6,400.3 601.6,400.3 601.6,400.3 589.1,395.8 589.1,395.8 589.1,395.8 579.2,398.0 579.2,398.0 579.2,398.0 578.3,402.6ZM511.8,360.1 511.8,360.1 520.7,365.1 520.7,365.1 520.7,365.1 520.7,365.1 520.7,365.1 520.7,365.1 520.7,365.1 520.7,365.1 523.8,372.2 527.0,379.7 527.0,379.7 527.0,379.7 539.5,369.5 539.5,369.5 544.0,366.9 544.0,366.9 544.0,366.9 540.2,363.5 540.2,363.5 538.2,361.8 538.2,361.8 538.2,361.8 537.7,361.2 535.4,358.5 531.1,353.6 531.1,353.6 531.1,353.6 529.7,354.0 518.8,357.1 518.8,357.1 518.8,357.1 518.8,357.1 518.8,357.1 518.8,357.1 518.8,357.1 518.8,357.1 518.8,357.1 518.8,357.1 518.8,357.1 518.8,357.1 518.8,357.1 518.8,357.1 518.8,357.1 518.8,357.1 518.8,357.1 518.8,357.1 518.8,357.1 518.3,357.3 518.3,357.3 513.2,358.8 513.2,358.8 513.2,358.8 513.4,359.3 513.4,359.3 513.4,359.3 513.4,359.3 513.4,359.3 513.4,359.3 513.4,359.3 513.4,359.3 513.4,359.4 513.4,359.4 513.4,359.4 513.4,359.4 513.4,359.4 513.4,359.4 513.4,359.4 513.4,359.4 513.4,359.4 511.8,360.0ZM548.5,379.8 548.5,379.8 549.4,385.7 549.4,385.7 549.4,385.7 557.4,389.2 557.4,389.2 557.4,389.2 557.4,389.2 557.4,389.2 570.3,403.9 570.3,403.9 570.3,403.9 570.3,403.9 570.3,403.9 570.3,403.9 570.3,403.9 570.3,403.9 570.3,403.9 570.3,403.9 570.3,403.9 578.3,402.6 578.3,402.6 578.3,402.6 578.4,402.5 579.2,398.0 579.2,398.0 579.2,398.0 577.5,393.2 577.5,393.1 577.4,393.1 577.4,393.1 573.9,386.9 573.9,386.9 573.9,386.9 573.9,386.9 573.9,386.9 573.9,386.9 573.9,386.9 573.9,386.9 574.2,383.8 574.2,383.8 574.2,383.8 573.2,378.0 573.2,378.0 573.2,378.0 548.5,379.7ZM457.2,403.6 457.2,403.6 461.4,408.9 461.4,408.9 461.4,408.9 461.4,408.9 461.4,408.9 462.0,411.0 462.0,411.0 462.0,411.0 464.8,413.3 464.8,413.3 464.8,413.3 465.3,413.9 465.3,413.9 465.3,413.9 465.3,413.9 465.3,413.9 465.3,413.9 465.3,413.9 465.3,413.9 465.3,413.9 465.3,413.9 465.3,413.9 465.3,413.9 465.3,413.9 465.3,413.9 465.3,413.9 465.1,414.1 465.1,414.1 465.1,414.2 465.5,414.2 465.5,414.2 465.5,414.2 465.6,414.2 465.6,414.2 465.6,414.2 465.6,414.2 465.6,414.2 467.0,416.1 467.0,416.1 467.0,416.1 482.2,416.1 482.2,416.1 482.2,416.1 493.0,402.7 493.0,402.7 493.0,402.7 483.1,393.7 483.1,393.7 478.7,389.2 478.6,389.2 478.6,389.2 473.3,393.7 473.3,393.7 473.3,393.7 473.3,393.7 473.3,393.7 473.3,393.7 473.3,393.7 473.3,393.7 473.3,393.7 473.3,393.7 473.3,393.7 473.3,393.7 473.3,393.7 473.3,393.7 473.3,393.7 473.3,393.7 472.4,392.8 472.4,392.8 472.4,392.8 467.0,396.9 467.0,396.9 467.0,396.9 466.4,397.9 466.4,397.9 466.4,397.9 466.4,397.9 466.4,397.9 466.4,397.9 457.2,403.6ZM449.0,332.8 449.0,332.8 450.2,332.8 450.3,332.8 450.3,332.8 450.3,332.8 450.3,332.8 450.3,332.8 450.3,332.8 450.3,332.8 450.3,332.8 450.3,332.8 450.3,332.8 450.3,332.8 450.3,332.8 450.3,332.8 450.3,332.8 450.3,332.8 450.3,332.8 450.3,349.4 450.3,349.4 450.5,353.5 450.5,353.5 450.5,353.5 452.2,354.2 452.2,354.2 453.4,354.7 453.4,354.7 453.4,354.7 453.4,354.7 453.4,354.7 453.4,354.7 453.4,354.7 453.4,354.7 453.4,354.7 453.4,354.7 453.8,356.0 453.8,356.0 453.8,356.0 466.3,358.6 466.3,358.6 466.3,358.6 466.3,358.6 466.3,358.6 466.3,358.6 466.3,358.7 466.3,358.7 466.3,358.7 466.3,358.7 466.3,358.7 466.3,358.7 466.3,358.7 466.3,358.7 466.3,358.7 466.3,358.7 466.3,358.7 466.3,358.7 466.3,358.7 465.9,359.8 465.9,359.8 465.9,359.8 466.2,359.9 466.2,359.9 466.2,359.9 466.9,357.6 467.9,354.3 467.9,354.3 467.9,354.3 467.9,354.3 467.9,354.3 471.0,350.6 471.5,350.0 471.5,350.0 471.5,350.0 471.4,350.0 471.4,350.0 471.4,350.0 471.4,350.0 471.4,350.0 471.4,350.0 471.4,350.0 471.4,350.0 471.4,350.0 471.4,350.0 471.4,350.0 471.4,350.0 471.4,350.0 471.4,350.0 471.4,350.0 471.4,350.0 471.4,350.0 471.4,350.0 471.4,350.0 472.6,347.9 472.6,347.9 481.5,336.3 481.5,336.3 481.5,336.3 482.1,324.0 482.1,324.0 482.1,324.0 478.0,325.4 478.0,325.4 478.0,325.4 477.1,327.2 477.1,327.2 477.1,327.2 477.1,327.2 477.1,327.2 477.1,327.2 477.1,327.2 477.1,327.2 477.1,327.2 477.1,327.2 477.1,327.2 477.1,327.2 450.3,327.7 450.3,327.7 450.3,327.7 450.3,327.7 450.3,327.7 450.3,327.7 450.3,327.7 450.3,327.7 450.3,327.7 450.3,327.7 450.3,327.7 450.3,327.7 450.3,327.7 450.3,327.7 449.3,325.0 449.3,325.0 449.3,325.0 449.3,332.4 449.3,332.4 449.3,332.4 449.3,332.4 449.3,332.4 449.3,332.4 449.3,332.4 449.3,332.4 449.3,332.4 449.3,332.4 449.3,332.4 449.3,332.4 449.3,332.4 449.3,332.4 449.3,332.4 449.0,332.4 449.0,332.4 449.0,332.4 449.0,332.8ZM440.1,375.4 440.1,375.4 440.4,375.7 440.4,375.7 440.4,375.7 441.6,375.7 441.6,375.7 441.6,375.7 441.6,375.7 441.6,375.7 441.6,375.7 441.6,375.7 441.6,375.7 441.6,375.7 449.8,384.6 449.8,384.6 449.8,384.6 456.0,379.4 456.0,379.4 456.0,379.4 456.0,379.4 456.0,379.4 456.0,379.4 459.2,378.9 459.2,378.9 459.2,378.9 458.1,377.6 458.1,377.6 458.1,377.6 458.1,377.6 458.1,377.6 458.1,377.6 458.1,377.6 458.1,377.6 458.1,377.6 458.1,377.6 458.1,377.6 458.1,377.6 458.1,377.6 465.2,363.3 465.2,363.3 465.2,363.3 466.2,359.9 466.2,359.9 466.2,359.9 465.9,359.8 465.9,359.8 465.9,359.8 465.9,359.8 465.9,359.8 465.9,359.8 465.9,359.8 465.9,359.8 465.9,359.8 465.9,359.8 465.9,359.8 465.9,359.8 465.9,359.8 465.9,359.8 465.9,359.8 465.9,359.8 465.9,359.8 466.3,358.7 466.3,358.7 466.3,358.6 453.8,356.0 453.8,356.0 453.8,356.0 453.8,356.0 453.8,356.0 453.8,356.0 453.8,356.0 453.8,356.0 453.8,356.0 453.8,356.0 453.8,356.0 453.8,356.0 453.4,354.7 453.4,354.7 453.4,354.7 452.2,354.2 452.2,354.2 450.5,353.5 450.5,353.5 450.5,353.5 450.3,353.6 450.3,353.6 450.3,353.6 450.3,355.8 450.3,355.8 450.3,355.8 450.3,355.8 450.3,355.8 450.3,355.8 450.3,355.8 450.3,355.8 450.3,355.8 450.3,355.8 450.3,355.8 450.3,355.8 450.3,355.8 450.3,355.8 450.3,355.8 450.3,355.8 450.2,355.8 446.5,355.8 446.5,355.8 446.5,355.8 445.7,356.3 445.7,356.3 445.7,356.3 445.7,356.3 445.7,356.3 445.7,356.3 441.6,356.5 441.6,356.5 441.6,356.5 441.6,358.7 441.6,358.7 441.6,358.7 441.6,358.7 441.6,358.7 441.6,358.7 441.6,358.7 441.6,358.7 441.6,358.7 441.6,358.7 441.6,358.7 441.6,358.7 441.5,358.8 441.5,358.8 441.5,358.8 441.5,375.4 441.5,375.4 441.5,375.4 441.5,375.4 441.5,375.4 441.5,375.4 441.5,375.4 441.5,375.4 441.5,375.4 441.5,375.4 441.5,375.4 441.5,375.4 441.5,375.4 441.5,375.4 441.5,375.4 441.5,375.4 441.5,375.4 440.1,375.4ZM435.0,397.1 435.0,397.1 450.2,397.7 450.2,397.7 450.2,397.7 450.2,397.7 450.2,397.7 450.2,397.7 450.2,397.7 450.2,397.7 453.8,400.7 453.8,400.7 453.8,400.7 453.8,400.7 453.8,400.7 453.8,400.7 453.8,400.7 453.8,400.7 454.4,404.0 454.4,404.0 454.4,404.0 454.5,404.1 454.5,404.1 454.5,404.1 459.5,406.5 459.5,406.5 459.5,406.5 457.2,403.6 457.2,403.6 457.2,403.6 457.2,403.6 457.2,403.6 457.2,403.6 457.2,403.6 457.2,403.6 457.2,403.6 457.2,403.6 457.2,403.6 457.2,403.6 457.2,403.6 457.2,403.6 457.2,403.6 457.2,403.6 457.2,403.6 457.2,403.6 457.8,403.2 462.0,400.6 466.4,397.9 466.4,397.9 466.4,397.9 467.0,396.9 467.0,396.9 467.0,396.9 467.0,396.9 467.0,396.9 472.4,392.8 472.4,392.8 472.4,392.8 471.5,392.0 471.5,392.0 471.3,391.7 471.3,391.7 471.3,391.7 471.2,391.8 471.2,391.8 471.2,391.8 471.2,391.8 471.2,391.8 471.2,391.8 471.2,391.8 471.2,391.8 471.2,391.8 466.6,388.7 466.6,388.7 466.6,388.7 465.8,387.8 465.8,387.8 465.8,387.8 463.1,383.1 463.1,383.1 463.1,383.1 459.2,378.9 459.2,378.9 459.2,378.9 456.0,379.4 456.0,379.4 456.0,379.4 449.8,384.6 435.0,397.1ZM481.7,333.3 481.7,333.3 482.1,334.8 482.1,334.8 482.1,334.8 493.7,337.4 493.7,337.5 510.7,342.8 510.7,342.8 510.7,342.8 511.6,341.0 511.6,341.0 511.6,341.0 511.6,341.0 511.6,341.0 521.5,332.1 521.5,332.1 521.5,332.1 515.3,318.1 515.3,318.1 515.3,318.1 512.6,314.2 512.6,314.2 512.6,314.2 508.7,314.6 507.6,314.6 507.6,314.6 507.6,314.6 507.6,314.6 507.6,314.6 507.6,314.6 507.6,314.6 507.6,314.6 507.6,314.6 507.6,314.6 507.6,314.6 505.4,311.6 505.4,311.6 505.4,311.6 501.8,309.5 501.8,309.5 501.8,309.5 503.1,312.0 503.1,312.0 503.1,312.0 507.6,314.7 507.6,314.7 507.6,314.7 507.6,314.7 507.6,314.7 507.6,314.7 507.6,314.7 507.6,314.7 507.6,314.7 507.6,314.7 507.6,314.7 507.6,314.7 507.6,314.7 507.6,314.7 507.6,314.7 507.6,314.7 507.6,314.7 507.6,314.7 507.6,314.7 507.6,314.7 507.6,314.7 507.6,314.7 507.6,314.7 507.6,314.7 485.4,322.7 485.4,322.7 485.4,322.7 485.1,323.0 485.1,323.0 485.1,323.0 485.1,323.0 485.1,323.0 482.1,324.1 482.1,324.1 482.1,324.1 481.7,333.3ZM429.5,423.1 429.5,423.1 429.5,455.5 429.5,455.5 429.5,455.5 454.8,455.5 454.8,455.5 454.8,455.5 454.8,455.5 454.8,455.5 454.8,455.5 454.8,455.5 454.8,455.5 454.8,455.5 454.8,455.5 454.8,455.5 454.8,455.5 454.8,455.5 454.8,455.5 454.8,455.5 454.8,455.5 454.8,455.6 454.8,455.8 454.8,455.8 454.8,455.8 456.0,455.8 456.0,455.8 456.0,455.8 465.8,448.7 465.8,448.7 465.8,448.7 465.8,448.7 469.4,447.2 469.4,447.2 469.4,447.2 464.8,442.7 464.8,442.7 464.8,442.7 463.4,442.9 463.4,442.9 463.4,442.9 463.4,442.9 463.4,442.9 463.4,442.9 463.4,442.9 463.4,442.9 463.4,442.9 463.4,442.9 463.4,442.9 463.4,442.9 456.7,434.5 452.7,429.5 452.7,429.5 452.7,429.5 452.7,429.5 452.7,429.5 452.7,429.5 452.7,429.5 452.7,429.5 452.7,429.5 452.7,429.5 452.7,429.5 452.7,429.5 452.7,429.5 452.7,429.5 452.7,429.5 452.7,429.5 454.5,427.9 454.5,427.9 454.5,427.9 454.3,427.6 454.3,427.6 454.3,427.6 454.1,426.9 454.1,426.9 454.1,426.9 452.0,429.4 452.0,429.4 452.0,429.4 452.0,429.4 452.0,429.4 452.0,429.4 452.0,429.4 452.0,429.4 452.0,429.4 452.0,429.4 452.0,429.4 452.0,429.4 452.0,429.4 430.4,422.8 430.4,422.8 430.4,422.8 430.1,423.3 430.1,423.3 430.1,423.3 430.1,423.3 430.1,423.3 430.1,423.3 430.1,423.3 430.1,423.3 430.1,423.3 430.1,423.3 430.1,423.3 430.1,423.3 430.1,423.3 430.1,423.3 429.5,423.1ZM452.7,487.5 452.7,487.5 459.5,487.5 459.5,487.5 459.5,487.5 459.5,486.6 459.5,486.6 459.5,486.6 459.5,486.6 459.5,486.6 459.5,486.6 459.5,486.6 459.5,486.6 459.5,486.6 459.5,486.6 459.5,486.6 459.5,486.6 459.5,486.6 459.5,486.6 459.5,486.6 459.5,486.6 459.5,486.6 479.2,486.3 479.2,486.3 479.2,486.3 480.1,483.9 480.1,483.9 480.1,483.9 480.1,483.9 481.9,481.6 481.9,481.6 481.9,481.6 474.8,466.9 474.8,466.9 468.5,455.3 468.5,455.3 468.5,455.3 468.5,455.3 468.5,455.3 468.5,455.3 468.5,455.3 468.5,455.3 468.5,455.3 468.5,455.3 468.5,455.3 468.5,455.3 468.5,455.3 468.5,455.3 468.5,455.3 468.5,455.3 468.5,455.3 468.5,455.3 468.5,455.3 476.9,453.0 476.9,453.0 476.9,453.0 469.4,447.2 469.4,447.2 469.4,447.2 465.8,448.7 465.8,448.7 465.8,448.7 456.0,455.8 456.0,455.8 456.0,455.8 456.0,455.8 456.0,455.8 456.0,455.8 456.0,455.8 454.8,455.8 454.8,455.8 454.8,455.8 454.8,487.1 454.8,487.1 454.8,487.1 454.8,487.1 454.8,487.1 454.8,487.1 454.8,487.1 454.8,487.1 454.8,487.1 454.8,487.1 454.8,487.1 454.8,487.1 454.8,487.1 454.8,487.1 454.8,487.1 454.8,487.1 454.8,487.1 452.8,487.1 452.8,487.1 452.8,487.1 452.7,487.5ZM477.5,494.7 477.5,494.7 478.3,511.7 478.3,511.7 478.3,511.7 483.7,514.4 483.7,514.4 483.7,514.4 508.8,512.6 508.8,512.6 508.8,512.6 508.8,512.6 519.1,515.2 519.1,515.2 519.1,515.2 521.4,511.9 521.4,511.9 525.1,505.4 525.1,505.4 528.9,499.7 528.9,499.7 528.9,499.7 522.2,493.8 522.2,493.8 519.5,492.0 519.5,492.0 519.5,492.0 517.7,497.4 517.7,497.4 517.7,497.4 517.7,497.4 517.7,497.4 517.7,497.4 517.7,497.4 517.7,497.4 517.7,497.4 514.2,499.1 514.2,499.1 514.2,499.1 514.2,499.1 514.1,499.1 514.1,499.1 514.1,499.1 514.1,499.1 514.1,499.1 507.0,496.5 507.0,496.5 507.0,496.5 498.0,498.3 498.0,498.3 498.0,498.3 498.0,498.3 498.0,498.3 498.0,498.3 498.0,498.3 498.0,498.3 490.9,494.7 490.9,494.7 483.7,492.0 483.7,492.0 483.7,492.0 477.5,494.7Z"/>
<path class="c3" d="M249.2,34.6 249.2,34.6 249.2,58.3 249.2,58.3 249.2,58.3 278.5,58.3 278.5,58.3 278.5,58.3 278.5,34.6 278.5,34.6 278.5,34.6 249.2,34.6ZM278.5,34.6 278.5,34.6 278.5,58.3 278.5,58.3 278.5,58.3 307.3,58.3 307.3,58.3 307.3,58.3 307.3,34.6 307.3,34.6 307.3,34.6 278.5,34.6ZM307.3,34.6 307.3,34.6 307.3,58.3 307.3,58.3 307.3,58.3 336.6,58.3 336.6,58.3 336.6,58.3 336.6,34.6 336.6,34.6 336.6,34.6 307.3,34.6ZM336.7,34.6 336.6,34.6 336.6,58.3 336.7,58.3 336.7,58.3 365.4,58.3 365.4,58.3 365.4,58.3 365.5,41.5 365.5,34.6 365.5,34.6 365.5,34.6 336.7,34.6ZM202.4,81.4 202.4,81.4 202.4,81.4 202.5,81.4 202.5,81.4 202.5,81.4 202.5,81.4 202.5,81.4 202.5,81.4 202.5,81.4 202.5,81.4 202.5,81.4 202.5,81.4 249.2,81.4 249.2,81.4 249.2,81.4 249.2,58.3 249.2,58.3 249.2,58.3 202.5,58.3 202.5,58.3 202.5,58.3 202.5,58.3 202.5,58.3 202.5,58.3 202.5,58.3 202.5,58.3 202.5,58.3 202.5,58.3 202.5,58.3 202.5,58.3 202.5,58.3 202.5,58.3 202.5,58.3 202.5,58.3 202.5,58.3 202.5,58.1 202.5,58.1 202.5,58.1 202.5,58.1 202.5,58.1 202.5,58.1ZM307.3,58.3 307.3,58.3 307.3,81.4 307.3,81.4 307.3,81.4 336.6,81.4 336.6,81.4 336.6,81.4 336.6,58.3 336.6,58.3 336.6,58.3 307.3,58.3ZM202.4,104.6 202.4,104.6 202.5,104.6 202.5,104.6 202.5,104.6 202.5,104.5 202.5,104.5 202.5,104.5 202.5,104.5 202.5,104.5 202.5,104.5 202.5,104.5 202.5,104.5 202.5,104.5 202.5,104.5 202.5,104.5 202.5,104.5 202.5,104.5 202.5,104.5 202.5,104.5 202.5,104.5 202.5,104.5 249.2,104.5 249.2,104.5 249.2,104.5 249.2,81.4 249.2,81.4 249.2,81.4 202.5,81.4 202.5,81.4 202.5,81.4 202.5,81.4 202.5,81.4 202.5,81.4 202.5,81.4 202.5,81.4 202.5,81.4 202.5,81.4 202.4,81.4 202.4,81.4 202.4,81.4 202.4,104.6ZM249.2,104.5 249.2,104.5 249.2,128.0 249.2,128.0 249.2,128.0 278.5,128.0 278.5,128.0 278.5,128.0 278.5,104.5 278.5,104.5 278.5,104.5 249.2,104.5ZM225.1,151.1 225.1,151.1 225.1,177.1 225.1,177.1 225.1,177.1 253.2,177.1 253.2,177.1 253.2,177.1 253.2,151.1 253.2,151.1 253.2,151.1 225.1,151.1ZM337.4,151.1 337.4,151.1 337.4,177.1 337.4,177.1 337.4,177.1 364.2,177.1 364.2,177.1 364.2,177.1 364.2,169.3 364.2,169.3 364.2,169.3 364.5,168.1 364.5,168.1 364.5,168.1 364.5,156.7 364.5,156.7 364.5,156.7 364.2,156.1 364.2,156.1 364.2,156.1 364.2,156.1 364.2,156.1 364.2,156.1 364.2,151.1 364.2,151.1 364.2,151.1 337.4,151.1ZM202.2,200.7 202.2,200.7 226.3,200.7 226.3,200.7 226.3,200.7 226.3,177.1 226.3,177.1 226.3,177.1 202.5,177.1 202.5,177.1 202.5,177.1 202.5,177.1 202.5,177.1 202.5,177.1 202.5,177.1 202.5,177.1 202.5,177.1 202.5,177.1 202.5,177.1 202.5,177.1 202.5,177.1 202.5,177.1 202.5,177.1 202.5,177.1 202.5,177.1 202.5,176.6 202.5,176.6 202.5,176.6 202.2,176.6 202.2,176.6 202.2,176.6 202.2,177.1 202.2,200.7ZM253.9,177.1 253.9,177.1 253.9,200.7 253.9,200.7 253.9,200.7 282.0,200.7 282.0,200.7 282.0,200.7 282.0,177.1 282.0,177.1 282.0,177.1 253.9,177.1ZM282.3,200.7 282.2,200.7 282.2,224.0 282.3,224.0 282.3,224.0 309.8,224.0 309.8,224.0 309.8,224.0 309.8,200.7 309.8,200.7 309.8,200.7 282.3,200.7ZM330.4,224.0 330.4,224.0 330.4,247.3 330.4,247.3 330.4,247.3 357.4,247.3 357.5,247.3 357.5,247.3 357.5,247.3 357.5,247.3 357.5,247.3 357.5,247.3 357.5,247.3 357.5,247.3 357.5,247.3 357.5,247.3 357.5,247.3 357.5,247.3 357.5,247.3 357.5,247.3 357.5,247.3 357.5,247.3 357.5,247.5 357.5,247.5 357.5,247.5 357.8,247.5 357.8,247.5 357.8,247.5 357.9,247.4 357.9,247.4 357.9,247.3 357.5,247.3 357.5,247.3 357.5,247.3 357.5,247.3 357.5,247.3 357.5,247.3 357.5,247.3 357.5,247.3 357.5,247.3 357.5,247.3 357.5,247.3 357.5,247.3 357.5,247.3 357.5,247.3 357.5,247.3 357.5,247.3 357.5,247.3 357.5,227.3 357.5,227.3 357.5,227.3 357.5,227.3 357.5,227.3 357.5,227.3 357.5,227.3 357.5,227.3 357.5,227.3 357.5,227.3 357.5,227.3 357.5,227.3 357.5,227.3 357.5,227.3 357.5,227.3 357.5,227.3 357.5,227.3 357.5,224.0 357.5,224.0 357.5,224.0 330.4,224.0ZM302.8,247.3 302.8,247.3 302.8,270.9 302.8,270.9 302.8,270.9 329.9,270.9 329.9,270.9 329.9,270.9 329.9,247.3 329.9,247.3 329.9,247.3 302.8,247.3ZM297.3,298.9 297.3,298.9 297.3,301.4 297.3,301.4 297.3,301.4 328.4,301.4 328.4,301.4 328.4,301.4 328.4,301.4 328.4,301.4 328.4,301.4 328.4,301.4 328.4,301.4 328.4,301.4 328.4,301.4 328.4,301.4 328.4,301.4 328.4,301.4 328.4,301.4 328.4,301.4 328.4,301.4 328.4,301.4 328.4,324.4 328.4,324.4 328.4,324.4 349.8,324.4 349.8,324.4 349.8,324.4 352.9,325.2 352.9,325.2 352.9,325.2 356.6,325.2 356.6,325.2 356.6,325.2 356.6,324.4 356.6,324.4 356.6,324.4 356.6,324.4 356.6,324.4 356.6,324.4 356.6,324.4 356.6,324.4 356.6,324.4 356.6,324.4 356.6,324.4 356.7,324.4 356.7,324.4 356.7,324.4 356.7,324.4 356.7,324.4 359.2,324.4 359.2,324.4 359.2,324.4 359.2,298.1 359.2,298.1 359.2,298.1 353.0,298.1 353.0,298.1 353.0,298.1 353.0,298.1 353.0,298.1 353.0,298.1 353.0,298.1 353.0,298.1 353.0,298.1 353.0,298.1 353.0,298.1 353.0,298.1 353.0,298.1 353.0,298.1 353.0,298.1 353.0,298.1 353.0,298.1 353.0,295.3 353.0,295.3 353.0,295.3 353.0,295.3 353.0,295.3 353.0,295.3 353.0,295.3 353.0,295.2 353.0,295.2 353.0,295.2 353.0,295.2 352.9,295.2 352.9,292.6 352.9,292.6 352.9,292.6 320.9,292.6 320.9,292.6 320.9,292.6 320.9,298.9 320.9,298.9 320.9,298.9 320.9,298.9 320.9,298.9 320.9,298.9 320.9,298.9 320.9,298.9 320.9,298.9 320.9,298.9 320.9,298.9 320.9,298.9 320.9,298.9 320.9,298.9 320.9,298.9 320.9,298.9 320.9,298.9 297.3,298.9ZM314.1,325.2 314.1,325.2 314.1,345.2 314.1,345.2 314.1,345.2 359.2,345.2 359.2,345.2 359.2,345.2 359.2,325.2 359.2,325.2 359.2,325.2 352.9,325.2 352.9,325.2 352.9,325.2 349.8,324.4 349.8,324.4 349.8,324.4 324.4,324.4 324.4,324.4 324.4,324.4 323.7,325.2 323.7,325.2 323.7,325.2 323.7,325.2 323.7,325.2 323.7,325.2 323.7,325.2 323.7,325.2 323.7,325.2 314.1,325.2ZM9.3,282.1 9.3,282.1 12.5,285.8 12.5,285.8 12.5,285.8 16.3,288.3 16.3,288.3 16.3,288.3 22.6,289.6 22.6,289.6 22.6,289.6 22.6,289.6 22.6,289.6 22.6,289.6 22.6,289.6 22.6,289.6 26.3,294.6 26.3,294.6 30.1,300.9 30.1,300.9 30.1,300.9 35.1,305.9 35.1,305.9 35.1,305.9 40.1,308.4 40.1,308.4 40.1,308.4 43.9,308.4 43.9,308.4 43.9,308.4 43.9,275.3 43.9,275.3 43.9,275.3 10.0,275.3 10.0,275.3 10.0,275.3 9.3,282.1ZM101.5,349.7 101.5,349.7 101.5,351.8 101.5,351.8 101.5,351.8 104.0,353.5 104.0,353.5 104.0,353.5 104.0,353.5 104.0,353.5 104.0,353.5 104.0,353.5 104.0,353.5 106.3,360.0 106.3,360.0 106.3,360.0 112.6,370.1 112.6,370.1 112.6,370.1 112.6,370.1 112.6,370.1 112.6,370.1 113.8,382.6 113.8,382.6 113.8,382.6 118.8,392.6 118.8,392.6 123.8,400.1 123.8,400.1 123.8,400.1 131.4,406.4 131.4,406.4 138.9,411.4 138.9,411.4 138.9,411.4 143.9,416.4 143.9,416.4 143.9,416.4 152.7,420.2 152.7,420.2 152.7,420.2 161.4,422.2 161.4,422.2 161.4,422.2 161.4,361.3 161.5,361.3 161.5,361.3 161.5,361.3 161.5,361.3 161.5,361.3 161.5,361.3 161.5,361.3 161.5,361.3 161.5,361.3 161.5,361.3 161.5,361.3 162.3,360.9 162.3,360.9 162.3,360.9 162.0,360.8 162.0,360.8 162.0,360.8 161.7,361.0 161.7,361.0 161.7,361.0 161.7,361.0 161.7,361.0 161.7,361.0 161.7,361.0 161.7,361.0 161.7,361.0 156.4,360.0 156.4,360.0 155.0,359.8 155.0,359.8 153.2,359.4 153.2,359.4 101.5,349.7ZM161.5,361.3 161.4,361.3 161.4,422.2 161.5,422.2 161.5,422.2 165.2,426.5 165.2,426.5 165.2,426.5 175.2,430.2 175.2,430.2 175.2,430.2 182.8,435.2 182.8,435.2 182.8,435.2 190.3,437.7 190.3,437.7 190.3,437.7 197.8,437.2 197.8,437.2 197.8,437.2 201.6,431.5 201.6,431.5 201.6,431.5 201.6,431.5 207.8,426.5 207.8,426.5 207.8,426.5 210.8,422.7 210.8,422.7 210.8,422.7 210.3,417.7 210.3,417.7 210.3,417.7 210.3,417.7 210.3,417.7 210.3,417.7 210.3,417.7 210.3,417.7 210.3,417.7 214.1,412.7 214.1,412.7 214.1,412.7 215.3,406.4 215.3,406.4 215.3,406.4 215.3,406.4 215.3,406.4 220.4,398.9 220.4,398.9 220.4,398.9 220.4,398.9 220.4,398.9 220.4,398.9 220.4,398.9 226.6,396.4 226.6,396.4 226.6,396.4 232.9,395.1 232.9,395.1 232.9,395.1 239.2,391.4 239.2,391.4 239.2,391.4 240.3,389.0 240.3,389.0 240.3,389.0 240.3,388.9 240.3,388.9 240.3,388.9 237.8,387.1 237.8,387.1 218.0,373.4 218.0,373.4 182.6,350.7 182.6,350.7 182.6,350.7 161.5,361.3ZM359.6,431.8 359.6,431.8 359.6,455.8 359.6,455.8 359.6,455.8 397.5,455.8 397.5,455.8 397.5,455.8 397.5,431.8 397.5,431.8 397.5,431.8 359.6,431.8ZM421.4,157.6 421.4,157.6 421.4,177.2 421.4,177.2 421.4,177.2 450.3,177.2 450.3,177.2 450.3,177.2 450.3,171.2 450.3,171.2 450.3,171.2 450.3,171.2 450.3,171.2 450.8,169.8 450.8,169.8 450.8,169.8 450.8,162.1 450.8,162.1 450.8,162.1 449.0,163.9 449.0,163.9 449.0,163.9 449.0,163.9 449.0,163.9 449.0,163.9 449.0,163.9 449.0,163.9 449.0,163.9 449.0,163.9 449.0,163.9 441.5,162.6 441.5,162.6 441.5,162.6 435.2,160.1 435.2,160.1 435.2,160.1 427.7,160.1 427.7,160.1 427.7,160.1 427.7,160.1 427.7,160.1 421.4,157.6ZM421.4,199.7 421.4,199.7 421.4,223.3 421.4,223.3 421.4,223.3 450.8,223.3 450.8,223.3 450.8,223.3 450.8,199.7 450.8,199.7 450.8,199.7 421.4,199.7ZM442.7,223.3 442.7,223.3 442.7,248.8 442.7,248.8 442.7,248.8 469.8,248.8 469.8,248.8 469.8,248.8 469.8,221.5 469.8,221.5 469.8,221.5 456.9,221.5 456.9,221.5 456.9,221.5 456.9,221.5 456.1,221.3 456.1,221.3 456.1,221.3 450.8,221.3 450.8,221.3 450.8,221.3 450.8,223.3 450.8,223.3 450.8,223.3 450.8,223.3 450.8,223.3 450.8,223.3 450.8,223.3 450.8,223.3 450.8,223.3 450.8,223.3 450.8,223.3 450.8,223.3 450.8,223.3 450.8,223.3 450.8,223.3 450.8,223.3 450.8,223.3 442.7,223.3ZM357.5,270.0 357.5,270.0 357.5,270.0 357.5,270.0 357.5,270.0 357.5,270.0 357.5,270.0 357.5,270.0 357.5,270.0 357.5,270.0 357.5,270.0 357.5,270.0 357.5,270.0 357.5,270.0 357.5,270.0 357.5,270.0 357.5,270.0 357.5,271.3 357.5,271.3 357.5,271.3 385.6,271.3 385.6,271.3 385.6,271.3 385.6,247.5 385.6,247.5 385.6,247.5 369.1,247.5 369.1,247.5 358.5,247.4 358.5,247.3 357.9,247.3 357.9,247.4 357.9,247.4 357.8,247.5 357.8,247.5 357.8,247.5 357.8,247.5 357.8,247.5 357.8,247.5 357.8,247.5 357.8,247.5 357.8,247.5 357.8,247.5 357.8,247.5 357.7,247.5 357.7,247.5 357.7,247.5 357.7,247.5 357.7,247.5 357.7,247.5 357.5,247.5 357.5,247.5 357.5,247.5 357.5,267.0 357.5,267.0 357.5,270.0ZM385.6,247.5 385.6,247.5 385.6,271.3 385.6,271.3 385.6,271.3 413.2,271.3 413.2,271.3 413.2,271.3 413.2,247.9 413.2,247.9 413.2,247.8 386.3,247.8 386.3,247.8 386.3,247.8 386.3,247.8 386.3,247.8 386.3,247.8 386.3,247.8 386.3,247.8 386.3,247.8 386.3,247.8 386.3,247.8 386.3,247.8 386.3,247.8 386.3,247.8 386.3,247.8 386.3,247.8 386.3,247.8 386.3,247.4 386.3,247.4 386.3,247.3 385.8,247.3 385.8,247.4 385.8,247.4 385.7,247.5 385.7,247.5 385.7,247.5 385.7,247.5 385.7,247.5 385.7,247.5 385.7,247.5 385.7,247.5 385.7,247.5 385.7,247.5 385.6,247.5ZM356.6,325.2 356.6,325.2 359.2,325.2 359.2,325.2 359.2,325.2 359.2,325.2 359.2,325.2 359.2,325.2 359.2,325.2 359.2,325.2 359.2,325.2 359.2,325.2 359.2,325.2 359.2,325.2 359.2,325.2 359.2,325.2 359.2,325.2 359.2,325.2 359.2,325.2 359.2,325.5 359.2,325.5 359.2,325.5 359.3,325.5 359.3,325.5 359.3,325.5 359.3,324.0 359.3,324.0 359.3,324.0 359.3,324.0 359.3,324.0 359.3,324.0 359.3,324.0 359.3,324.0 359.3,324.0 359.3,324.0 359.3,324.0 359.3,324.0 359.3,324.0 359.3,324.0 359.3,324.0 359.3,324.0 359.3,324.0 386.3,324.0 386.3,324.0 386.3,324.0 386.3,303.9 386.3,303.9 386.3,303.9 386.3,303.9 386.3,303.9 386.3,303.9 386.3,303.9 386.3,303.9 386.3,303.9 386.3,303.9 386.3,303.9 386.3,303.9 386.3,303.9 386.3,303.9 386.3,303.9 386.3,303.9 386.3,303.9 389.2,303.9 389.2,303.9 389.2,303.9 389.4,303.4 389.4,303.4 389.4,303.4 386.3,302.7 386.3,302.7 386.3,302.7 386.3,302.7 380.1,298.9 380.1,298.9 380.1,298.9 359.3,298.9 359.3,298.9 359.3,298.9 359.3,300.8 359.3,300.8 359.3,300.8 359.3,300.8 359.3,300.8 359.3,300.8 359.3,300.8 359.3,300.8 359.3,300.8 359.3,300.8 359.3,300.8 359.3,300.8 359.3,300.8 359.3,300.8 359.3,300.8 359.2,300.8 359.2,300.8 359.2,300.8 359.2,324.4 359.2,324.4 359.2,324.4 359.2,324.4 359.2,324.4 359.2,324.4 359.2,324.4 359.2,324.4 359.2,324.4 359.2,324.4 359.2,324.4 359.2,324.4 359.2,324.4 359.2,324.4 359.2,324.4 359.2,324.4 359.2,324.4 356.6,324.4 356.6,324.4 356.6,324.4 356.6,325.2ZM402.6,355.8 402.6,355.8 402.6,375.4 402.6,375.4 402.6,375.4 417.3,375.4 417.3,375.4 417.3,375.4 417.3,375.4 417.3,375.4 417.3,375.4 417.3,375.4 417.3,375.4 417.3,375.4 417.3,375.4 417.3,375.4 423.7,375.7 423.7,375.7 429.8,375.7 429.8,375.7 429.8,375.7 430.3,375.4 430.3,375.4 430.3,375.4 430.3,375.4 430.3,375.4 430.3,375.4 430.3,375.4 441.5,375.4 441.5,375.4 441.5,375.4 441.5,355.8 441.5,355.8 441.5,355.8 402.6,355.8ZM624.3,377.1 624.3,377.1 624.4,377.2 624.4,377.2 624.4,377.2 628.0,374.7 628.0,374.7 628.0,374.7 628.0,374.7 628.0,374.7 628.0,374.7 628.0,374.7 628.0,374.7 628.0,374.7 628.0,374.7 628.0,374.7 628.0,374.7 628.0,374.7 628.0,374.7 628.0,374.7 628.0,374.7 628.0,374.7 628.0,374.7 635.6,387.3 635.6,387.3 635.6,387.3 636.4,389.9 636.5,389.9 636.5,389.9 664.2,389.0 664.2,389.0 664.2,389.0 663.4,378.6 663.3,378.6 663.3,378.6 655.5,377.7 655.5,377.7 655.5,377.7 655.5,377.7 655.5,377.7 655.5,377.7 655.5,377.7 655.5,377.7 655.5,377.7 655.5,377.7 655.5,377.7 655.5,377.7 655.5,377.7 648.6,356.9 648.6,356.9 648.6,356.9 648.6,356.9 648.6,356.9 648.6,356.9 648.6,356.9 648.6,356.9 648.6,356.9 648.6,356.9 648.6,356.9 648.6,356.9 648.6,356.9 648.6,356.9 648.6,356.9 648.6,356.9 648.6,356.9 648.6,356.9 648.6,356.9 651.3,356.7 651.3,356.7 651.3,356.7 651.0,355.1 651.0,355.1 651.0,355.1 642.8,354.9 642.8,354.9 642.8,354.9 637.3,357.8 637.3,357.8 636.3,358.4 636.3,358.4 629.8,363.4 629.8,363.4 629.8,363.4 629.8,363.4 626.0,364.7 626.0,364.7 626.0,364.7 627.8,374.3 627.8,374.3 627.8,374.3 627.9,374.5 627.9,374.5 627.9,374.5 627.9,374.5 627.9,374.5 627.9,374.5 627.9,374.5 627.9,374.5 627.9,374.5 627.9,374.5 627.9,374.5 627.9,374.5 627.9,374.5 627.9,374.5 627.9,374.5 627.9,374.5 624.3,377.1ZM648.6,356.9 648.6,356.9 655.5,377.7 655.5,377.7 655.5,377.7 663.3,378.6 663.3,378.6 663.3,378.6 663.3,378.6 663.3,378.6 663.3,378.6 663.3,378.6 663.3,378.6 663.3,378.6 663.3,378.6 663.3,378.6 663.4,378.6 663.4,378.6 663.4,378.6 663.4,378.6 663.7,383.0 663.7,383.0 663.7,383.0 664.2,383.2 664.2,383.2 664.2,383.2 664.2,377.7 664.2,377.7 664.2,377.7 664.2,377.7 664.2,377.7 664.2,377.7 664.2,377.7 664.2,377.7 664.2,377.7 664.2,377.7 664.2,377.7 664.2,377.7 664.2,377.7 674.6,373.4 674.6,373.4 674.6,373.4 674.6,373.4 674.6,373.4 674.6,373.4 674.6,373.4 674.6,373.4 674.6,373.4 674.6,373.4 681.6,376.9 681.6,376.9 681.6,376.9 683.3,370.8 683.3,370.8 683.3,370.8 682.4,354.3 682.4,354.3 682.4,354.3 674.5,354.9 674.5,354.9 674.5,354.9 674.5,354.9 674.5,354.9 674.5,354.9 674.5,354.9 674.5,354.9 674.5,354.9 674.5,354.9 674.5,354.9 674.5,354.9 674.5,354.9 674.5,354.9 674.5,354.9 674.5,354.9 674.4,354.7 674.4,354.7 674.4,354.7 657.8,355.3 657.8,355.3 651.5,354.6 651.5,354.6 651.5,354.6 651.0,355.1 651.0,355.1 651.0,355.1 651.3,356.7 651.3,356.7 651.3,356.7 651.3,356.7 651.3,356.7 651.3,356.7 651.3,356.7 651.3,356.7 651.3,356.7 651.3,356.7 651.3,356.7 651.3,356.7 651.3,356.7 651.3,356.7 651.3,356.7 651.3,356.7 651.3,356.7 651.3,356.7 648.6,356.9ZM469.8,244.8 469.8,244.8 469.8,245.7 469.8,245.7 469.8,245.7 470.0,245.7 470.0,245.7 470.0,245.7 470.0,245.7 470.0,245.7 470.0,245.7 470.0,245.7 470.0,245.7 470.0,245.7 470.0,245.7 470.0,245.7 470.0,245.7 470.0,245.7 470.0,245.7 470.0,245.7 470.0,245.7 470.0,245.8 470.0,248.4 470.0,248.4 470.0,248.4 477.1,262.7 477.1,262.7 477.1,262.7 485.2,258.3 485.2,258.3 485.2,258.3 485.2,258.3 485.2,258.3 485.2,258.3 485.2,258.3 492.7,259.2 492.7,259.2 492.7,259.2 492.7,244.8 492.7,244.8 492.7,244.8 469.8,244.8ZM473.6,274.8 473.6,274.8 489.7,292.3 489.7,292.3 495.6,297.1 495.6,297.1 495.6,297.1 495.6,297.1 495.6,297.1 496.1,298.1 496.1,298.1 496.1,298.1 496.6,298.3 496.6,298.3 496.6,298.3 495.9,297.1 495.9,297.1 495.9,297.1 495.9,297.1 495.9,297.1 495.9,297.1 495.9,297.1 495.9,297.1 495.9,297.1 495.9,297.1 495.9,297.1 495.9,297.1 495.9,297.1 495.9,297.1 495.9,297.1 495.9,297.1 495.9,297.1 495.9,297.1 502.1,294.0 502.1,294.0 502.1,294.0 502.6,293.4 502.6,293.4 502.6,293.4 502.6,293.4 502.6,293.4 511.2,288.7 511.2,288.7 511.2,288.7 510.3,285.1 510.3,285.1 510.3,285.1 506.7,278.9 506.7,278.9 506.7,278.9 505.7,277.7 505.7,277.7 505.7,277.7 505.7,277.7 505.7,277.7 505.0,275.6 505.0,275.6 505.0,275.5 500.9,270.7 500.9,270.7 500.9,270.7 500.5,270.1 499.6,268.1 499.6,268.1 499.6,268.1 499.5,268.1 499.5,268.1 499.5,268.1 499.5,268.1 499.5,268.1 499.5,268.1 499.5,268.1 499.5,268.1 499.5,268.1 492.7,264.5 492.7,264.5 492.7,264.5 481.6,269.9 481.6,269.9 478.9,271.7 478.9,271.7 473.6,274.7ZM463.7,305.2 463.7,305.2 473.6,319.1 478.0,325.4 478.0,325.4 478.0,325.4 482.1,324.0 482.1,324.0 482.1,324.0 482.1,324.0 482.1,324.0 482.1,324.0 482.1,324.0 482.1,324.0 482.1,324.0 482.1,324.0 482.1,324.0 482.1,324.0 482.1,324.0 482.1,324.0 482.1,324.0 482.1,324.0 482.1,324.0 482.1,324.0 482.1,324.0 482.1,324.0 482.1,324.0 482.1,324.1 482.1,324.1 482.1,324.1 485.1,323.0 485.1,323.0 485.1,323.0 485.4,322.7 485.4,322.7 485.4,322.7 485.4,322.7 485.4,322.7 507.6,314.7 507.6,314.7 507.6,314.7 503.1,312.0 503.1,312.0 503.1,312.0 503.1,312.0 503.1,312.0 503.1,312.0 503.1,312.0 500.6,307.0 500.6,307.0 500.6,307.0 499.2,302.6 499.2,302.6 499.2,302.6 496.6,298.3 496.6,298.3 496.6,298.3 496.1,298.1 496.1,298.1 496.1,298.1 496.1,298.1 496.1,298.1 496.1,298.1 496.1,298.1 496.1,298.1 495.6,297.1 495.6,297.1 495.6,297.1 489.7,292.3 489.7,292.3 489.7,292.3 463.7,305.2ZM499.6,268.1 499.6,268.1 500.9,270.7 500.9,270.7 500.9,270.7 505.0,275.5 505.0,275.5 505.0,275.6 505.0,275.6 505.0,275.6 505.7,277.7 505.7,277.7 505.7,277.7 506.7,278.9 506.7,278.9 506.7,278.9 510.3,285.1 510.3,285.1 510.3,285.1 510.3,285.1 511.2,288.7 511.2,288.7 511.2,288.7 511.2,288.7 511.2,288.7 511.2,288.7 511.2,288.7 511.2,288.7 511.2,288.7 511.2,288.7 511.2,288.7 511.2,288.7 511.2,288.7 511.2,288.7 510.3,289.2 510.3,289.2 510.3,289.2 509.8,290.1 509.8,290.1 509.8,290.1 525.7,283.6 525.7,283.6 525.7,283.6 525.7,283.6 525.7,283.6 525.7,283.6 525.7,283.6 525.7,283.6 525.7,283.6 525.7,283.6 525.7,283.6 525.7,283.6 525.7,283.6 525.7,283.6 531.5,290.1 531.5,290.1 531.5,290.1 541.2,284.9 541.2,284.9 541.2,284.9 533.3,272.1 533.3,272.1 533.3,272.1 529.9,271.8 529.9,271.8 529.9,271.8 529.9,271.8 529.9,271.8 529.9,271.8 529.9,271.8 529.9,271.8 529.9,271.8 522.3,262.2 522.3,262.2 522.3,262.2 522.3,262.2 522.3,262.1 522.3,262.1 522.3,262.1 522.3,262.1 522.3,261.9 522.3,261.9 522.3,261.9 517.8,262.7 517.8,262.7 517.8,262.7 515.8,263.8 515.8,263.8 515.8,263.8 515.8,263.8 503.4,267.0 503.4,267.0 499.6,268.1ZM554.7,286.6 554.7,286.6 567.4,305.5 567.4,305.5 567.4,305.5 567.4,305.5 567.4,305.5 567.4,305.5 567.4,305.5 567.4,305.5 567.4,305.5 567.4,305.5 567.4,305.5 567.4,305.5 567.4,305.5 567.2,305.9 567.2,305.9 567.2,305.9 575.7,303.0 575.7,303.0 593.4,297.7 593.4,297.6 593.4,297.6 589.9,294.2 589.9,294.2 585.8,290.1 585.8,290.1 583.9,287.8 583.9,287.8 583.9,287.8 583.9,287.8 583.9,287.8 583.0,284.5 583.0,284.5 583.0,284.5 581.6,283.3 581.6,283.3 581.6,283.3 581.6,283.3 581.6,283.3 581.6,283.3 580.2,279.4 580.2,279.4 580.2,279.4 579.0,279.0 579.0,279.0 579.0,279.0 579.0,279.0 579.0,279.0 579.0,279.0 579.0,279.0 579.0,279.0 579.0,279.0 577.5,275.6 577.5,275.6 577.5,275.6 554.7,286.6ZM559.5,182.2 559.5,182.2 559.5,200.9 559.5,200.9 559.5,200.9 564.6,200.9 564.6,200.9 564.6,200.9 564.6,200.9 564.6,200.9 564.6,200.9 564.6,200.9 564.6,200.9 564.6,200.9 564.6,200.9 564.6,200.9 564.6,200.9 564.6,200.9 564.6,200.9 564.6,200.9 564.6,200.9 564.6,200.9 564.6,203.0 564.6,203.0 564.6,203.0 565.5,202.9 565.5,202.9 565.5,202.9 565.5,202.9 565.5,202.9 565.8,203.0 565.8,203.0 565.8,203.0 567.2,202.7 567.2,202.7 570.4,202.3 570.4,202.3 584.3,200.2 584.3,200.2 584.3,200.2 584.8,199.2 584.8,199.2 584.8,199.2 584.8,199.2 584.8,199.2 584.8,199.2 584.8,199.2 584.8,199.2 584.8,199.2 584.8,199.2 584.8,199.2 588.2,198.5 588.2,198.5 588.2,198.5 588.2,176.1 588.2,176.1 588.2,176.1 587.6,176.3 587.6,176.3 587.6,176.3 587.6,176.3 587.6,176.3 587.6,176.3 587.6,176.3 580.1,175.1 580.1,175.1 580.1,175.1 572.6,177.6 572.6,177.6 565.1,181.3 560.1,183.8 560.1,183.8 560.1,183.8 560.1,183.8 560.1,183.8 560.1,183.8 560.1,183.8 560.1,183.8 560.1,183.8 560.1,183.8 560.1,183.8 560.1,183.8 560.1,183.8 560.1,183.8 560.1,183.8 560.1,183.8 560.1,183.8 560.1,183.8 559.5,182.2ZM588.2,198.5 588.2,198.5 591.8,196.4 591.8,196.4 591.8,196.4 591.8,196.4 591.8,196.3 591.8,196.3 599.8,195.8 599.8,195.8 599.8,195.8 599.8,195.8 607.0,197.6 607.0,197.6 607.0,197.6 614.1,200.8 614.2,200.8 614.2,200.8 617.7,201.5 617.7,201.5 617.7,201.5 617.7,174.2 617.7,174.2 617.7,174.2 616.5,175.1 616.5,175.1 616.5,175.1 616.5,175.1 616.5,175.1 616.5,175.1 616.5,175.1 616.5,175.1 616.5,175.1 607.7,173.8 607.7,173.8 601.4,172.1 601.4,172.1 601.4,172.1 593.9,173.8 593.9,173.8 593.9,173.8 588.2,176.1 588.2,176.1 588.2,176.1 588.2,198.5ZM587.6,223.6 587.7,223.6 587.7,223.6 598.9,224.5 598.9,224.5 617.7,224.1 617.7,224.1 617.7,224.1 617.7,201.5 617.7,201.5 617.7,201.5 614.2,200.8 614.1,200.8 614.1,200.8 605.2,202.6 596.3,204.4 596.3,204.4 596.2,204.4 591.8,208.0 591.8,208.0 590.0,209.2 590.0,209.2 590.0,209.2 590.0,209.2 590.0,209.2 590.0,209.2 590.0,209.2 590.0,209.2 590.0,209.2 590.0,209.2 590.0,209.2 590.0,209.2 587.7,208.0 587.7,208.0 587.7,208.0 587.7,208.0 587.7,208.0 587.7,208.0 587.7,208.0 587.7,208.0 587.7,208.0 587.7,208.0 587.7,208.0 587.7,208.0 587.7,208.0 587.7,206.6 587.7,206.6 587.7,206.6 587.7,206.6 587.7,206.6 587.6,206.6ZM627.6,222.7 627.6,222.7 633.8,218.2 633.8,218.2 633.8,218.2 633.9,218.2 633.9,218.2 633.9,218.2 633.9,218.2 639.2,218.2 639.2,218.2 639.2,218.2 639.2,218.2 639.2,218.2 639.2,218.2 639.2,218.2 644.6,221.8 644.6,221.8 644.6,221.8 644.6,202.1 644.6,202.1 644.6,202.1 635.0,201.9 627.6,201.7 627.6,201.7 627.6,201.7 627.7,202.1 627.7,202.1 627.7,202.1 627.7,202.1 627.7,202.1 627.7,202.1 627.7,202.1 627.7,202.1 627.7,202.1 627.7,202.1 627.7,202.1 627.7,202.1 627.7,202.1 627.7,202.1 627.7,202.1 627.7,202.1 627.7,202.1 627.7,202.1 627.7,202.1 627.6,202.1 627.6,202.1 627.6,202.1 627.6,222.7ZM625.8,227.7 625.8,227.7 625.8,227.7 647.3,227.1 647.3,227.1 647.3,227.1 644.6,221.8 644.6,221.8 644.6,221.8 639.2,218.2 639.2,218.2 639.2,218.2 633.9,218.2 633.9,218.2 633.8,218.2 627.6,222.7 627.6,222.7 627.6,222.7 625.8,224.5 625.8,224.5 625.8,224.5ZM553.0,228.0 553.0,228.0 553.0,243.1 553.0,243.1 553.0,243.1 558.2,243.1 558.2,243.1 558.2,243.1 558.2,243.1 558.2,243.1 558.2,243.1 558.2,243.1 558.2,243.1 558.2,243.1 558.2,243.1 558.2,243.1 558.2,243.1 558.2,243.1 558.2,243.1 558.2,243.1 558.2,243.1 558.2,243.1 558.2,243.1 557.1,253.2 556.8,256.2 556.8,256.2 556.8,256.2 557.7,257.1 557.7,257.1 557.7,257.1 559.8,257.1 559.8,257.1 559.8,257.1 559.8,257.0 559.8,257.0 559.8,257.0 559.8,257.0 559.8,257.0 559.8,257.0 559.8,257.0 559.8,257.0 559.8,257.0 559.8,257.0 559.8,257.0 559.8,257.0 559.8,257.0 559.8,257.0 559.8,257.0 559.8,257.0 559.8,257.0 559.8,257.0 559.8,257.0 559.8,257.0 559.8,257.0 559.8,257.0 559.8,257.0 559.8,257.0 576.5,255.8 576.5,255.8 576.5,255.8 576.5,229.7 576.5,229.7 576.5,229.7 565.8,230.2 565.8,230.2 565.8,230.2 565.8,230.2 565.8,230.2 565.8,230.2 565.8,230.2 565.8,230.2 565.8,230.2 565.8,230.2 565.8,230.2 565.8,230.2 565.8,230.2 565.8,230.2 565.8,230.2 565.8,230.2 565.8,230.2 565.8,228.0 565.8,228.0 565.8,228.0 564.6,228.0 564.6,228.0 564.6,228.0 564.6,231.5 564.6,231.5 564.6,231.5 564.6,231.5 564.6,231.5 564.6,231.5 564.6,231.5 564.6,231.5 564.6,231.5 564.6,231.5 564.6,231.5 564.6,231.5 564.6,231.5 564.6,231.5 564.6,231.5 564.6,231.5 564.6,231.5 553.1,231.5 553.1,231.5 553.1,231.5 553.1,231.5 553.1,231.5 553.1,231.5 553.1,231.5 553.1,231.5 553.1,231.5 553.1,231.5 553.1,231.5 553.1,231.5 553.1,231.5 553.1,231.5 553.1,231.5 553.1,231.5 553.0,231.5 553.0,228.0 553.0,228.0 553.0,228.0 553.0,228.0ZM647.9,183.9 647.9,183.9 647.9,203.0 647.9,203.0 647.9,203.0 653.5,207.4 653.5,207.4 653.5,207.4 653.5,207.4 653.5,207.5 653.5,207.5 653.5,207.5 653.5,207.5 653.5,207.5 653.5,207.5 653.5,208.5 653.6,208.5 653.6,208.5 660.5,207.2 660.5,207.2 667.6,206.7 667.6,206.7 667.6,206.7 667.6,206.7 674.8,208.5 674.8,208.5 674.8,208.5 680.1,206.7 680.2,206.7 685.0,205.8 685.0,205.8 685.0,205.8 685.4,205.8 685.4,205.8 685.4,205.8 685.4,190.1 685.4,190.1 685.4,190.1 670.4,190.6 670.4,190.6 670.4,190.6 660.3,188.9 660.3,188.9 660.3,188.9 652.8,186.4 652.8,186.3 647.9,183.9ZM634.5,279.2 634.5,279.2 636.5,279.2 636.5,279.2 636.5,279.2 636.5,279.2 636.5,279.2 636.5,279.2 636.5,279.2 636.5,279.2 636.5,279.2 640.5,283.6 640.5,283.6 640.5,283.6 659.8,279.7 659.8,279.7 659.8,279.7 659.7,279.2 659.7,279.2 659.7,279.2 656.0,279.2 656.0,279.2 656.0,279.2 656.0,279.2 656.0,279.2 656.0,279.2 656.0,279.2 656.0,279.2 656.0,279.2 656.0,279.2 656.0,279.2 656.0,279.2 656.0,279.2 656.0,279.2 656.0,279.2 656.0,279.2 656.0,279.2 656.0,279.2 657.8,266.7 657.8,266.7 657.8,266.7 660.5,259.5 660.5,259.5 661.3,255.9 661.3,255.9 661.3,255.9 656.9,254.2 656.9,254.2 656.9,254.2 650.6,254.2 650.6,254.2 634.5,255.0 634.5,255.1 634.5,255.1 634.5,279.2ZM661.8,279.2 661.8,279.2 663.1,283.6 663.1,283.6 663.1,283.6 663.1,283.6 663.1,283.6 663.1,283.6 663.1,283.7 663.1,283.7 663.1,283.7 663.1,283.7 663.1,283.7 663.1,283.7 663.1,283.7 663.1,283.7 663.1,283.7 663.1,283.7 663.1,283.7 663.1,283.7 667.6,293.5 667.6,293.5 670.3,299.8 670.3,299.8 670.3,299.8 673.0,294.8 673.0,294.8 673.0,294.8 673.0,294.8 673.0,294.8 673.0,294.8 673.0,294.8 673.0,294.8 673.0,294.8 673.0,294.8 673.0,294.8 673.0,294.8 673.0,294.8 673.0,294.8 673.0,294.8 685.5,298.0 685.5,298.0 688.2,298.9 688.2,298.9 688.2,298.9 692.5,297.1 692.5,297.1 692.5,297.1 692.6,297.1 692.6,297.1 692.6,297.1 692.6,297.1 692.6,297.1 692.6,297.1 692.6,297.1 692.6,297.1 692.6,297.1 692.7,297.1 692.7,297.1 692.7,297.1 697.2,293.5 697.2,293.5 697.2,293.5 697.2,293.5 697.2,293.5 697.2,293.5 697.2,293.5 697.2,293.5 697.7,293.5 697.7,293.5 697.7,293.5 697.9,293.0 697.9,293.0 697.9,293.0 695.1,284.7 695.1,284.7 695.1,284.6 689.5,279.1 689.5,279.1 689.5,279.1 689.1,278.8 689.1,278.8 689.1,278.8 689.1,279.2 689.1,279.2 689.1,279.2 689.1,279.2 689.1,279.2 689.1,279.2 689.1,279.2 689.1,279.2 689.1,279.2 689.1,279.2 689.1,279.2 689.1,279.2 689.1,279.2 689.1,279.2 689.1,279.2 689.1,279.2 689.1,279.2 661.8,279.2ZM670.3,314.1 670.3,314.1 674.8,320.3 674.8,320.3 674.8,320.4 680.1,323.0 680.2,323.0 680.2,323.0 684.6,322.1 684.6,322.1 684.6,322.1 685.5,308.7 685.5,308.7 685.5,308.7 688.2,298.9 688.2,298.9 688.2,298.9 685.5,298.0 685.5,298.0 673.0,294.8 673.0,294.8 673.0,294.8 670.3,299.8 670.3,299.8 670.3,299.8 671.2,306.9 671.2,306.9 671.2,306.9 671.2,306.9 670.3,314.1ZM634.2,305.7 634.2,305.7 635.0,306.3 635.0,306.3 635.0,306.3 635.0,306.3 635.0,306.3 635.0,306.3 635.0,306.3 635.0,306.3 635.0,306.3 635.0,306.3 635.0,306.3 635.0,306.3 634.5,308.7 634.5,308.7 634.5,308.7 641.7,315.9 641.7,315.9 641.7,315.9 641.7,315.9 641.7,315.9 641.7,315.9 641.7,315.9 641.7,315.9 642.5,323.0 642.6,323.0 642.6,323.0 649.7,323.0 649.7,323.0 649.7,323.0 649.7,323.0 649.7,323.0 649.7,323.0 655.1,325.7 655.1,325.7 655.1,325.7 664.0,327.5 664.0,327.5 664.0,327.5 671.2,325.7 671.2,325.7 680.1,323.0 680.1,323.0 680.1,323.0 674.8,320.4 674.8,320.4 674.8,320.4 674.8,320.3 674.8,320.3 674.8,320.3 670.3,314.1 670.3,314.1 670.3,314.1 664.0,309.6 664.0,309.6 664.0,309.6 656.9,306.9 656.9,306.9 649.7,305.1 649.7,305.1 640.8,302.5 640.8,302.5 640.8,302.5 635.4,304.2 635.4,304.2 635.4,304.2 635.4,304.2 635.4,304.2 635.4,304.2 635.4,304.2 635.4,304.2 635.4,304.2 635.4,304.2 635.4,304.2 634.8,303.8 634.8,303.8 634.8,303.8 634.2,305.7ZM623.4,337.0 623.4,337.0 626.0,342.0 626.0,342.0 626.1,342.2 626.1,342.2 626.1,342.2 626.7,342.8 626.7,342.8 626.7,342.8 631.8,344.5 631.8,344.5 631.8,344.5 631.8,344.5 631.8,344.5 631.8,344.5 631.8,344.5 631.8,344.5 631.8,344.5 631.8,344.5 633.7,349.6 633.7,349.6 633.7,349.6 637.9,352.5 637.9,352.5 637.9,352.5 641.7,353.5 641.7,353.5 641.7,353.5 641.7,353.5 641.7,353.5 641.7,353.5 641.7,353.5 641.7,353.5 641.7,353.5 641.7,353.5 641.7,353.5 642.8,354.9 642.8,354.9 642.8,354.9 651.0,355.1 651.0,355.1 651.0,355.1 651.5,354.6 651.5,354.6 651.5,354.6 651.5,354.6 651.5,354.6 651.5,354.6 651.5,354.6 651.5,354.6 651.5,354.6 651.5,354.6 651.5,354.6 657.8,355.3 657.8,355.3 657.8,355.3 653.3,328.4 653.3,328.4 653.3,328.4 653.3,328.4 653.3,328.4 653.3,328.4 653.3,328.4 653.3,328.4 653.3,328.4 655.1,325.7 655.1,325.7 655.1,325.7 649.7,323.0 649.7,323.0 649.7,323.0 642.6,323.0 642.6,323.0 642.5,323.0 639.0,326.6 639.0,326.6 639.0,326.6 623.4,337.0ZM589.6,343.9 589.6,343.9 590.5,345.4 590.5,345.4 590.5,345.4 590.5,345.4 590.5,345.4 590.5,345.4 590.9,350.9 590.9,350.9 590.9,350.9 601.6,355.9 601.6,355.9 601.6,355.9 615.6,353.6 615.6,353.6 615.6,353.6 615.6,343.7 615.6,343.7 615.6,343.7 613.8,336.6 613.8,336.6 613.8,336.6 613.8,336.6 613.8,336.6 613.8,336.6 613.8,336.6 613.8,336.5 613.8,336.5 613.8,336.5 613.8,336.5 613.8,336.5 613.8,336.5 616.2,335.0 616.2,335.0 616.2,335.0 616.2,335.0 616.2,335.0 616.2,335.0 613.9,336.5 613.9,336.5 613.9,336.5 613.9,336.5 613.9,336.5 613.9,336.5 613.9,336.5 613.9,336.5 613.9,336.5 613.9,336.5 613.9,336.5 613.9,336.5 613.9,336.5 613.9,336.5 613.9,336.5 613.9,336.5 613.9,336.5 613.9,336.5 613.9,336.5 611.7,331.4 611.2,330.2 611.2,330.2 611.2,330.2 611.2,330.0 610.9,328.9 610.9,328.9 610.9,328.9 610.7,328.8 610.7,328.8 610.7,328.8 610.7,328.8 610.7,328.8 610.7,328.8 610.7,328.8 610.7,328.8 610.7,328.8 610.6,328.5 610.6,328.5 610.6,328.5 610.3,328.6 610.3,328.6 610.3,328.6 610.3,328.6 610.3,328.6 610.3,328.6 610.3,328.6 610.3,328.6 610.3,328.6 610.1,328.5 610.1,328.5 607.6,327.7 607.6,327.7 607.6,327.7 601.6,332.1 601.6,332.1 601.6,332.1 601.6,332.1 590.0,336.2 590.0,336.2 590.0,336.2 590.4,342.4 590.4,342.4 590.4,342.4 590.4,342.4 590.4,342.4 590.4,342.4 589.6,343.9ZM548.7,345.3 548.7,345.3 553.6,349.1 553.7,349.1 558.1,353.0 558.1,353.0 561.9,357.4 561.9,357.4 561.9,357.4 564.7,362.3 564.7,362.3 564.7,362.3 569.1,362.9 569.1,362.9 569.1,362.9 574.0,361.8 574.0,361.8 574.0,361.8 572.4,353.0 572.4,353.0 570.7,344.2 570.7,344.2 570.4,336.5 570.4,336.5 570.4,336.5 570.4,336.5 570.4,336.5 570.4,336.5 570.4,336.5 570.4,336.5 570.4,336.5 570.4,336.5 570.4,336.5 570.4,336.5 570.4,336.5 570.4,336.5 570.4,336.5 570.4,336.5 570.4,336.5 570.4,336.5 570.4,336.5 570.4,336.5 570.4,336.5 570.4,336.5 570.4,336.5 570.4,336.5 570.4,336.5 570.4,336.5 571.8,338.1 571.8,338.1 571.8,338.1 572.7,338.0 572.7,338.0 572.7,338.0 572.6,337.9 572.6,337.9 572.6,337.9 572.1,338.0 572.1,338.0 572.1,338.0 572.1,338.0 572.1,338.0 572.1,338.0 572.1,338.0 572.1,338.0 572.1,338.0 572.1,338.0 572.1,338.0 572.1,338.0 572.1,338.0 572.1,338.0 572.1,338.0 571.7,336.8 571.7,336.8 571.7,336.8 569.4,333.7 569.4,333.7 569.4,333.7 569.4,333.7 568.5,331.5 568.5,331.5 568.5,331.5 561.4,335.9 561.4,335.9 561.4,335.9 554.8,344.2 554.8,344.2 554.8,344.2 554.8,344.2 554.7,344.2 554.7,344.2 554.7,344.2 554.7,344.2 548.7,345.3ZM531.1,353.5 531.1,353.5 538.2,361.8 538.2,361.8 538.2,361.8 540.2,363.5 540.2,363.5 544.0,366.9 544.0,366.9 544.0,366.9 544.2,366.8 544.2,366.8 544.2,366.8 544.2,366.8 544.2,366.8 544.3,366.8 544.3,366.8 544.3,366.8 544.3,366.8 544.3,366.8 544.8,367.3 544.8,367.3 544.8,367.3 564.7,362.3 564.7,362.3 564.7,362.3 561.9,357.4 561.9,357.4 561.9,357.4 558.1,353.0 558.1,353.0 553.7,349.1 553.6,349.1 548.7,345.3 548.7,345.3 548.7,345.3 548.7,345.3 548.7,345.3 548.7,345.3 547.1,342.0 547.1,342.0 547.1,342.0 548.6,345.3 548.7,345.3 548.7,345.3 548.7,345.3 548.7,345.3 548.7,345.3 548.7,345.3 548.7,345.3 548.7,345.3 548.6,345.3 548.6,345.3 548.6,345.3 548.6,345.3 548.6,345.3 548.6,345.3 548.6,345.3 548.6,345.3 531.1,353.5ZM572.1,371.1 572.1,371.1 574.2,377.9 574.2,377.9 574.2,377.9 574.2,377.9 574.2,378.0 574.2,378.0 574.2,378.0 574.2,378.0 574.2,378.0 574.2,378.0 574.2,378.0 574.2,378.0 574.2,378.0 574.2,378.0 574.2,378.0 574.2,378.0 574.2,378.0 574.2,378.0 574.2,378.0 574.2,378.0 573.2,378.0 573.2,378.0 573.2,378.0 574.2,383.8 574.2,383.8 574.2,383.8 574.2,383.8 573.9,386.9 573.9,386.9 573.9,386.9 577.4,393.1 577.4,393.1 577.5,393.1 579.2,398.0 579.2,398.0 579.2,398.0 589.1,395.8 589.1,395.8 589.1,395.8 587.3,386.9 587.3,386.9 583.7,376.0 583.7,376.0 583.7,376.0 583.7,376.0 583.7,376.0 583.7,376.0 583.7,376.0 583.7,376.0 583.7,376.0 583.7,376.0 583.7,375.9 583.7,375.9 583.7,375.9 583.7,375.9 583.7,375.9 583.7,375.9 583.7,375.9 583.7,375.9 583.7,375.9 583.7,375.9 583.7,375.9 583.7,375.9 583.7,375.9 584.0,376.0 584.0,376.0 584.0,376.0 584.0,376.0 584.0,376.0 584.0,376.0 583.7,375.9 583.7,375.9 583.7,375.9 583.7,375.9 583.7,375.9 583.7,375.9 583.7,375.9 583.7,375.9 583.7,375.9 583.7,375.9 583.7,375.9 583.7,375.9 583.7,375.9 583.7,375.9 583.7,375.9 583.7,375.9 583.7,375.9 583.7,375.9 583.7,375.9 583.7,375.9 583.7,375.9 583.7,375.9 589.6,370.1 589.6,370.1 589.6,370.1 574.7,370.1 574.7,370.1 574.7,370.1 572.1,371.1ZM547.0,422.7 547.0,422.7 564.0,437.9 564.0,437.9 564.0,437.9 587.3,423.6 587.3,423.6 587.3,423.6 583.7,417.3 583.7,417.3 580.1,410.1 580.1,410.1 580.1,410.1 578.3,402.6 578.3,402.6 578.3,402.6 570.3,403.9 570.3,403.9 570.3,403.9 563.1,411.9 563.1,411.9 563.1,411.9 563.1,411.9 547.0,422.7ZM488.5,379.7 488.5,379.8 492.1,380.3 492.1,380.3 492.1,380.3 492.1,380.3 492.1,380.3 492.1,380.3 510.0,394.6 510.0,394.6 510.0,394.6 527.0,379.8 527.0,379.7 527.0,379.7 523.8,372.2 523.8,372.2 520.7,365.1 520.7,365.1 520.7,365.1 511.8,360.1 511.8,360.1 511.8,360.1 511.8,360.1 511.8,360.1 511.8,360.1 511.8,360.1 511.8,360.1 511.8,360.1 511.8,360.1 511.8,360.1 511.8,360.1 511.8,360.1 511.8,360.0 511.8,360.0 511.8,360.0 511.8,360.0 511.8,360.0 511.8,360.0 511.8,360.0 511.8,360.0 511.8,360.0 511.8,360.0 511.8,360.0 513.4,359.4 513.4,359.4 513.4,359.4 513.2,358.8 513.2,358.8 513.2,358.8 509.1,360.0 509.1,360.0 509.1,360.0 509.1,360.0 509.1,360.0 509.1,360.0 509.1,360.0 509.1,360.0 509.1,360.0 505.6,358.0 505.6,358.0 505.6,358.0 505.6,358.1 505.6,358.1 505.6,358.1 509.1,360.0 509.1,360.0 509.1,360.0 509.1,360.0 509.1,360.0 509.1,360.0 509.1,360.0 509.1,360.0 509.1,360.0 509.1,360.1 509.1,360.1 509.1,360.1 509.1,360.1 509.1,360.1 509.1,360.1 509.1,360.1 509.1,360.1 509.1,360.1 509.1,360.1 509.1,360.1 488.5,379.7ZM458.1,377.6 458.1,377.6 463.1,383.1 463.1,383.1 463.1,383.1 465.8,387.8 465.8,387.8 465.8,387.8 466.6,388.7 466.6,388.7 466.6,388.7 471.2,391.8 471.2,391.8 471.2,391.8 471.3,391.7 471.3,391.7 471.3,391.7 471.3,391.7 471.3,391.7 471.3,391.7 471.3,391.7 471.3,391.7 471.3,391.7 471.3,391.7 471.3,391.7 473.3,393.7 473.3,393.7 473.3,393.7 478.6,389.2 478.7,389.2 488.5,379.8 488.5,379.8 488.5,379.7 465.2,363.3 465.2,363.3 465.2,363.3 458.1,377.6ZM539.5,369.5 539.5,369.5 540.4,374.9 540.4,374.9 540.4,374.9 548.5,379.7 548.5,379.7 548.5,379.7 573.2,378.0 573.2,378.0 574.2,378.0 574.2,378.0 574.2,378.0 572.1,371.1 572.1,371.1 572.1,371.1 572.1,371.1 572.1,371.1 572.1,371.1 572.1,371.1 572.1,371.1 572.1,371.1 572.1,371.1 572.1,371.1 572.1,371.1 572.1,371.1 572.1,371.1 572.1,371.1 572.1,371.1 573.6,370.5 574.7,370.1 574.7,370.1 574.7,370.1 574.6,370.1 574.6,370.1 574.6,370.1 574.6,370.1 574.6,370.1 574.6,370.1 574.6,370.1 574.6,370.1 574.6,370.1 574.6,370.1 574.6,370.1 574.6,370.1 574.6,370.1 574.6,370.1 574.6,370.1 574.6,370.1 574.5,368.3 574.5,368.3 574.5,368.3 570.9,362.5 570.9,362.5 570.9,362.5 569.1,362.9 569.1,362.9 569.1,362.9 569.1,362.9 564.7,362.3 564.7,362.3 564.7,362.3 554.9,364.8 552.5,365.4 544.8,367.3 544.8,367.3 544.8,367.3 544.8,367.3 544.8,367.3 544.8,367.3 544.8,367.3 544.8,367.3 544.8,367.3 544.8,367.3 544.8,367.3 544.3,366.8 544.3,366.8 544.2,366.8 544.0,366.9 544.0,366.9 544.0,366.9 539.5,369.5ZM510.0,394.6 510.0,394.6 519.8,402.7 519.8,402.7 519.8,402.7 526.1,402.3 526.1,402.3 533.8,402.0 533.8,402.0 533.8,402.0 533.8,402.0 533.8,402.0 533.8,402.0 533.8,402.0 533.8,402.0 533.8,402.0 533.8,402.0 535.1,403.5 535.1,403.5 535.1,403.5 536.3,403.4 536.3,403.4 536.3,403.4 535.1,401.8 535.1,401.8 535.1,401.8 535.1,401.8 535.1,401.8 535.1,401.8 535.1,401.8 535.1,401.8 535.1,401.8 535.1,401.8 535.1,401.8 535.1,401.8 535.1,401.8 535.1,401.8 535.1,401.8 549.4,385.7 549.4,385.7 549.4,385.7 548.5,379.8 548.5,379.8 548.5,379.7 540.4,374.9 540.4,374.9 540.4,374.9 540.4,374.9 540.4,374.9 540.4,374.9 540.4,374.9 540.4,374.9 540.4,374.9 540.4,374.9 539.5,369.5 539.5,369.5 539.5,369.5 527.0,379.7 527.0,379.8 510.0,394.6ZM535.1,401.8 535.1,401.8 541.2,409.5 541.2,409.5 541.2,409.5 541.2,409.5 541.8,411.0 541.8,411.0 541.8,411.0 546.2,415.9 546.2,415.9 548.5,418.8 548.5,418.8 548.5,418.8 548.5,418.8 548.5,418.8 548.5,418.8 548.5,418.8 548.5,418.8 548.5,418.8 548.5,418.8 547.7,422.2 547.7,422.2 547.7,422.2 563.1,411.9 563.1,411.9 563.1,411.9 570.3,403.9 570.3,403.9 570.3,403.9 557.4,389.2 557.4,389.2 557.4,389.2 549.4,385.7 549.4,385.7 549.4,385.7 535.1,401.8ZM482.2,416.1 482.2,416.1 488.5,424.1 488.5,424.1 488.5,424.1 488.5,424.1 488.5,424.1 488.5,424.1 488.5,424.1 488.5,424.1 488.5,424.2 488.5,424.2 488.5,424.2 488.5,424.2 488.5,424.2 488.5,424.2 488.5,424.2 488.5,424.2 488.2,424.4 488.2,424.5 488.2,424.5 488.9,425.0 488.9,425.0 488.9,425.0 489.3,424.8 489.3,424.8 489.3,424.8 489.3,424.8 489.3,424.8 489.3,424.8 489.3,424.8 489.3,424.8 489.3,424.8 489.3,424.8 489.3,424.8 489.3,424.8 489.3,424.8 494.8,429.5 494.8,429.5 494.8,429.5 514.5,416.1 514.5,416.1 514.5,416.1 514.5,415.8 514.5,415.8 514.5,415.8 514.1,415.4 514.1,415.4 514.1,415.4 514.1,415.4 514.1,415.4 514.1,415.4 514.1,415.4 514.1,415.4 514.1,415.4 514.1,415.4 514.1,415.4 514.9,410.4 515.8,405.1 515.9,404.7 515.9,404.7 515.9,404.7 515.9,404.7 515.9,404.7 515.9,404.7 515.9,404.7 515.9,404.7 515.9,404.7 515.9,404.7 519.5,402.6 519.5,402.6 519.5,402.6 519.5,402.6 519.5,402.5 519.5,402.5 519.7,402.5 519.7,402.5 519.7,402.5 510.0,394.6 510.0,394.6 510.0,394.6 493.0,402.7 493.0,402.7 493.0,402.7 482.2,416.1ZM380.0,378.3 380.0,378.3 383.1,378.7 383.1,378.7 383.1,378.7 383.1,378.7 383.1,378.7 383.1,378.7 383.1,378.7 383.1,378.7 383.1,378.7 383.1,378.7 383.1,378.7 383.1,378.7 383.1,378.7 383.1,378.7 383.1,378.7 383.1,378.7 383.1,380.1 383.1,380.1 383.1,380.1 385.5,380.1 385.5,380.1 385.5,380.1 385.5,380.1 385.5,380.1 385.5,380.1 385.5,380.1 385.5,380.1 385.5,380.1 385.5,380.1 385.5,380.1 385.5,380.1 385.5,380.1 385.5,380.1 385.5,380.1 385.5,380.1 385.5,380.1 385.6,388.4 385.6,388.4 385.6,388.4 386.6,388.7 386.6,388.7 386.6,388.7 410.8,388.7 410.8,388.7 410.8,388.7 410.8,388.7 410.8,388.7 423.7,394.1 423.7,394.1 423.7,394.1 423.7,375.7 423.7,375.7 423.7,375.7 417.3,375.4 417.3,375.4 417.3,375.4 417.3,375.4 417.3,375.4 417.3,375.4 417.3,375.4 417.3,375.4 417.3,375.4 417.3,375.4 402.6,375.4 402.6,375.4 402.6,375.4 402.6,375.4 402.6,375.4 402.6,375.4 402.6,375.4 402.6,375.4 402.6,375.4 402.6,375.4 402.6,375.4 402.6,375.4 402.6,375.4 402.6,375.4 402.6,375.4 402.6,375.4 402.6,375.4 402.6,366.6 402.6,366.6 402.6,366.6 395.8,366.6 395.8,366.6 395.8,366.6 394.1,368.0 394.1,368.0 394.1,368.0 394.1,368.0 394.1,368.0 394.1,368.0 394.1,368.0 394.1,368.0 380.0,368.0 380.0,368.0 380.0,368.0 380.0,378.3ZM485.6,426.7 485.6,426.7 488.2,427.5 488.2,427.5 488.2,427.5 488.2,427.5 488.2,427.5 488.2,427.5 488.2,427.5 488.2,427.5 488.2,427.5 488.2,427.5 488.2,427.5 488.2,427.5 488.2,427.5 488.2,427.5 488.2,427.5 486.9,437.4 486.9,437.4 486.9,437.4 495.3,447.2 495.4,447.2 495.4,447.2 504.3,441.0 504.3,441.0 504.3,441.0 504.3,441.0 504.3,441.0 504.3,441.0 504.3,441.0 504.3,441.0 504.3,441.0 512.7,442.2 512.7,442.2 512.7,442.2 526.7,432.0 526.7,432.0 526.7,432.0 516.8,418.1 516.8,418.1 516.8,418.1 514.5,415.8 514.5,415.8 514.5,415.8 514.5,416.1 514.5,416.1 514.5,416.1 514.5,416.1 514.5,416.1 514.5,416.1 514.5,416.1 514.5,416.1 514.5,416.1 514.5,416.1 494.8,429.5 494.8,429.5 494.8,429.5 494.8,429.5 494.8,429.5 494.8,429.5 494.8,429.5 494.8,429.5 494.8,429.5 494.8,429.5 494.8,429.5 494.8,429.5 494.8,429.5 494.8,429.5 489.3,424.8 489.3,424.8 489.3,424.8 488.9,425.0 488.9,425.0 488.9,425.0 488.9,425.0 488.9,425.0 488.9,425.0 488.9,425.0 488.9,425.0 488.9,425.0 488.9,425.0 488.9,425.0 488.9,425.0 488.2,424.5 488.2,424.5 488.2,424.5 485.8,426.5 485.6,426.7ZM512.7,442.2 512.7,442.2 516.8,447.2 516.8,447.2 516.8,447.2 516.8,447.2 516.8,447.2 516.8,447.2 516.8,447.2 517.7,461.5 517.7,461.5 517.7,461.5 532.1,458.0 532.1,458.0 543.7,453.5 543.7,453.5 543.7,453.5 541.0,443.7 541.0,443.7 541.0,443.6 535.6,433.8 535.6,433.8 535.6,433.8 535.6,433.8 535.6,433.8 535.6,433.8 535.6,433.8 535.6,433.8 535.6,433.8 535.6,433.8 535.6,433.8 535.6,433.8 535.6,433.8 535.6,433.7 535.6,433.7 535.6,433.7 531.1,432.5 531.1,432.5 531.1,432.4 531.1,432.4 531.1,432.4 531.1,432.4 530.2,431.6 530.2,431.6 530.2,431.6 526.0,431.0 526.0,431.0 526.0,431.0 526.7,432.0 526.7,432.0 526.7,432.0 526.7,432.0 526.7,432.0 526.7,432.0 526.7,432.0 526.7,432.0 526.7,432.0 526.7,432.0 526.7,432.0 526.7,432.0 526.7,432.0 526.7,432.0 526.7,432.0 526.7,432.0 526.7,432.0 512.7,442.2ZM531.1,432.4 531.1,432.5 535.6,433.7 535.6,433.7 535.6,433.7 535.6,433.7 535.6,433.7 535.6,433.7 535.6,433.7 535.6,433.7 535.6,433.7 535.6,433.8 535.6,433.8 535.6,433.8 535.6,433.8 535.6,433.8 535.6,433.8 535.6,433.8 535.6,433.8 535.6,433.8 535.6,433.8 535.6,433.8 535.6,433.8 535.6,433.8 541.0,443.6 541.0,443.7 541.0,443.7 543.7,453.4 543.7,453.5 543.7,453.5 543.7,453.5 551.4,452.2 551.4,452.2 551.4,452.2 551.4,452.2 551.4,452.2 563.1,455.2 563.2,455.2 563.6,455.3 563.6,455.3 563.6,455.3 564.0,437.9 564.0,437.9 564.0,437.9 547.0,422.7 547.0,422.7 547.0,422.7 547.0,422.7 547.0,422.7 547.0,422.7 547.0,422.7 547.0,422.7 547.0,422.7 547.0,422.7 547.0,422.7 547.0,422.7 547.0,422.7 547.0,422.7 547.0,422.7 547.0,422.7 547.0,422.7 547.0,422.7 547.0,422.7 547.0,422.7 547.7,422.2 547.7,422.2 547.7,422.2 548.3,419.5 548.3,419.5 548.3,419.5 531.1,432.4ZM395.6,529.5 395.6,529.5 395.7,529.5 396.4,530.2 396.4,530.2 396.4,530.2 396.4,530.2 396.4,530.3 396.4,530.3 396.4,530.3 396.4,530.3 396.4,530.3 396.4,539.0 396.4,539.0 396.4,539.0 406.4,554.1 406.4,554.1 410.2,560.3 410.2,560.3 410.2,560.3 410.2,560.3 410.2,560.3 411.0,565.1 411.0,565.1 411.0,565.1 420.6,555.5 420.6,555.5 420.6,555.5 420.6,529.5 420.6,529.5 420.6,529.5 418.4,529.5 418.4,529.5 418.4,529.5 418.4,529.5 418.4,529.5 418.4,529.5 418.4,529.5 418.4,529.5 418.4,529.5 418.4,529.5 418.4,529.5 418.4,529.5 418.4,529.5 418.4,529.5 418.4,529.5 418.3,529.3 418.3,529.3 418.3,529.3 405.6,529.5 396.4,529.7 396.4,529.7 396.4,529.7 396.4,529.7 396.4,529.7 395.8,529.5 395.6,529.5ZM443.7,554.7 443.7,554.7 444.2,555.3 444.2,555.3 444.2,555.3 455.5,555.2 473.8,555.0 473.8,555.0 473.8,555.0 473.8,555.0 473.8,555.0 473.8,555.0 473.8,555.0 473.8,555.0 473.8,555.0 473.8,555.0 473.8,555.0 473.8,555.0 473.8,555.0 473.8,555.0 473.8,555.0 473.8,555.0 473.8,555.0 474.1,560.2 474.1,560.2 474.1,560.2 474.3,560.2 474.3,560.2 474.3,560.2 474.3,530.8 474.3,530.8 474.3,530.8 474.3,530.8 474.3,530.8 474.3,530.8 474.3,530.8 474.3,530.8 474.3,530.8 474.3,530.8 474.3,530.8 474.3,530.8 474.3,530.8 474.3,530.8 474.3,530.8 474.3,530.8 474.3,530.8 476.4,530.7 476.4,530.7 476.4,530.7 475.7,529.6 475.7,529.6 475.7,529.6 469.4,529.6 469.4,529.6 469.4,529.6 469.4,530.1 469.4,530.1 469.4,530.1 469.4,530.1 469.4,530.1 469.4,530.1 469.4,530.1 469.4,530.1 469.4,530.1 469.4,530.1 469.4,530.1 469.4,530.1 469.4,530.1 469.4,530.1 469.4,530.1 469.4,530.1 469.4,530.1 459.6,530.1 459.5,530.1 459.5,530.1 459.5,530.1 459.5,530.1 459.5,530.1 459.5,530.1 459.5,530.1 459.5,530.1 459.5,530.1 459.5,530.1 459.5,530.1 459.5,530.1 459.5,530.1 459.5,530.1 459.5,530.1 459.5,530.1 459.5,530.1 459.5,530.1 459.5,530.1 445.7,530.1 445.7,530.1 445.7,530.1 447.4,540.3 447.5,540.3 447.5,540.3 450.7,543.3 450.7,543.3 450.7,543.3 450.7,543.3 450.7,543.3 450.7,543.3 450.7,543.3 450.7,543.3 450.7,543.3 450.7,554.6 450.7,554.6 450.7,554.6 450.7,554.6 450.7,554.6 450.7,554.6 450.7,554.6 450.7,554.6 450.7,554.6 450.7,554.6 450.7,554.6 450.7,554.6 450.7,554.6 450.7,554.6 450.7,554.6 450.7,554.6 450.7,554.6 443.7,554.7Z"/>
<path class="c4" d="M336.7,81.4 336.6,81.4 336.6,104.5 336.7,104.5 336.7,104.5 365.3,104.5 365.3,104.5 365.3,104.5 365.4,81.4 365.4,81.4 365.4,81.4 336.7,81.4ZM278.5,104.5 278.5,104.5 278.5,128.0 278.5,128.0 278.5,128.0 307.3,128.0 307.3,128.0 307.3,128.0 307.3,104.5 307.3,104.5 307.3,104.5 278.5,104.5ZM336.7,104.5 336.6,104.5 336.6,128.0 336.7,128.0 336.7,128.0 365.2,128.0 365.2,128.0 365.2,128.0 365.3,104.5 365.3,104.5 365.3,104.5 336.7,104.5ZM230.4,128.0 230.4,128.0 230.4,151.1 230.4,151.1 230.4,151.1 258.4,151.1 258.4,151.1 258.4,151.1 258.4,128.0 258.4,128.0 258.4,128.0 230.4,128.0ZM343.4,128.0 343.4,128.0 343.4,151.1 343.4,151.1 343.4,151.1 365.5,151.1 365.5,151.1 365.5,151.1 365.5,137.5 365.5,137.5 365.5,137.5 365.2,137.5 365.2,137.5 365.2,137.5 365.2,137.5 365.2,137.5 365.2,137.5 365.2,137.5 365.2,137.5 365.2,137.5 365.2,137.5 365.2,137.5 365.2,137.5 365.2,137.5 365.2,137.5 365.2,137.5 365.2,128.0 365.2,128.0 365.2,128.0 343.4,128.0ZM202.2,176.6 202.2,176.6 202.2,176.6 202.5,176.6 202.5,176.6 202.5,176.6 202.5,176.6 202.5,176.6 202.5,176.6 202.5,176.6 202.5,176.6 202.5,176.6 202.5,176.6 202.5,176.6 202.5,176.6 202.5,176.6 202.5,176.6 202.5,176.6 202.5,176.6 202.5,176.6 202.5,177.1 202.5,177.1 202.5,177.1 225.1,177.1 225.1,177.1 225.1,177.1 225.1,151.1 225.1,151.1 225.1,151.1 202.5,151.1 202.5,151.1 202.5,151.1 202.5,151.1 202.5,151.1 202.5,151.1 202.5,151.1 202.5,151.1 202.5,151.1 202.5,151.1 202.5,151.1 202.5,151.1 202.5,151.1 202.5,151.1 202.5,151.1 202.5,151.1 202.5,151.1 202.5,150.5 202.5,150.5 202.5,150.5 202.3,150.4 202.3,150.4 202.3,150.4ZM253.2,151.1 253.2,151.1 253.2,177.1 253.2,177.1 253.2,177.1 281.5,177.1 281.5,177.1 281.5,177.1 281.5,151.1 281.5,151.1 281.5,151.1 253.2,151.1ZM282.0,177.1 282.0,177.1 282.0,200.7 282.0,200.7 282.0,200.7 309.8,200.7 309.8,200.7 309.8,200.7 309.8,177.1 309.8,177.1 309.8,177.1 282.0,177.1ZM226.9,200.7 226.8,200.7 226.8,224.0 226.9,224.0 226.9,224.0 254.7,224.0 254.7,224.0 254.7,224.0 254.7,200.7 254.7,200.7 254.7,200.7 226.9,200.7ZM309.8,200.7 309.8,200.7 309.8,224.0 309.8,224.0 309.8,224.0 337.9,224.0 337.9,224.0 337.9,224.0 337.9,200.7 337.9,200.7 337.9,200.7 309.8,200.7ZM337.9,200.7 337.9,200.7 337.9,224.0 337.9,224.0 337.9,224.0 357.4,224.0 357.5,224.0 357.5,224.0 357.5,224.0 357.5,224.0 357.5,224.0 357.5,224.0 357.5,224.0 357.5,224.0 357.5,224.0 357.5,224.0 357.5,224.0 357.5,224.0 357.5,224.0 357.5,224.0 357.5,224.0 357.5,224.0 357.5,227.3 357.5,227.3 357.5,227.3 357.5,227.3 357.5,227.3 357.5,227.3 357.5,224.0 357.5,224.0 357.5,224.0 357.5,224.0 357.5,224.0 357.5,224.0 357.5,224.0 357.5,224.0 357.5,224.0 357.5,224.0 357.5,224.0 357.5,224.0 357.5,224.0 357.5,224.0 357.5,224.0 357.5,224.0 357.5,224.0 362.0,224.0 362.0,224.0 362.0,224.0 362.0,224.0 362.0,224.0 362.0,224.0 362.0,224.0 362.0,224.0 362.0,224.0 362.0,224.0 362.0,224.0 366.2,224.0 366.2,224.0 366.2,224.0 366.2,200.7 366.2,200.7 366.2,200.7 365.5,200.7 365.5,200.7 365.5,200.7 365.5,200.7 365.5,200.7 365.5,200.7 365.5,200.7 365.5,200.7 365.5,200.7 365.5,200.7 365.5,200.7 365.5,200.7 365.5,200.7 365.5,200.7 365.5,200.7 365.5,200.7 365.5,200.7 365.5,200.5 365.5,200.5 365.5,200.5 365.5,200.4 365.5,200.4 365.5,200.4 365.5,200.7 365.5,200.7 365.5,200.7 365.5,200.7 365.5,200.7 365.5,200.7 365.5,200.7 365.5,200.7 365.5,200.7 365.5,200.7 365.5,200.7 365.5,200.7 365.5,200.7 365.5,200.7 365.5,200.7 365.5,200.7 365.5,200.7 337.9,200.7ZM247.2,224.0 247.2,224.0 247.2,247.3 247.2,247.3 247.2,247.3 274.7,247.3 274.7,247.3 274.7,247.3 274.7,224.0 274.7,224.0 274.7,224.0 247.2,224.0ZM297.3,297.8 297.3,297.8 297.8,298.3 297.8,298.3 297.8,298.3 297.8,298.3 297.8,298.3 297.8,298.3 297.8,298.3 297.8,298.3 297.8,298.3 297.8,298.9 297.8,298.9 297.8,298.9 320.9,298.9 320.9,298.9 320.9,298.9 320.9,270.9 320.9,270.9 320.9,270.9 297.8,270.9 297.8,270.9 297.8,270.9 297.8,294.4 297.8,294.4 297.8,294.4 297.8,294.4 297.8,294.4 297.8,294.4 297.8,294.4 297.8,294.4 297.8,294.4 297.8,294.4 297.8,294.4 297.8,294.4 297.8,294.4 297.8,294.4 297.8,294.4 297.8,294.4 297.8,294.4 297.3,294.4 297.3,294.4 297.3,294.4 297.3,297.8ZM241.4,324.4 241.4,324.4 247.7,326.4 247.7,326.5 260.2,331.5 260.2,331.5 260.2,331.5 260.2,331.5 260.2,331.5 260.2,331.5 260.2,331.5 267.7,342.7 267.7,342.7 267.7,342.7 276.5,350.2 276.5,350.2 276.5,350.2 276.5,350.2 276.5,350.2 276.5,350.2 276.5,350.2 276.5,350.2 276.5,350.2 276.5,350.2 276.5,350.2 276.5,350.2 276.5,350.2 276.5,350.2 276.5,350.2 276.5,350.2 276.5,350.2 276.5,350.2 276.5,350.2 276.5,350.2 276.5,350.2 276.4,350.2 276.4,350.2 276.4,350.2 276.4,350.2 276.4,350.2 276.4,350.2 276.4,350.2 276.4,350.2 273.0,349.2 273.0,349.2 273.0,349.2 276.1,352.3 276.1,352.3 276.2,352.3 276.2,352.3 276.2,352.3 276.2,352.3 276.2,352.3 276.2,352.3 276.2,352.3 276.2,352.3 276.2,352.3 276.0,353.0 276.0,353.0 276.0,353.0 276.0,353.0 276.0,353.0 276.0,353.0 272.6,357.5 272.6,357.6 272.6,357.6 273.9,360.8 273.9,360.8 273.9,360.8 273.9,360.8 273.9,360.8 273.9,360.8 273.9,360.8 273.9,360.8 273.9,360.8 271.5,366.6 271.5,366.6 271.5,366.6 277.4,366.6 277.4,366.6 277.4,366.6 277.4,366.6 277.4,366.6 277.4,366.6 277.4,366.6 277.4,366.6 277.4,366.6 277.4,366.6 277.4,366.6 278.0,367.6 278.0,367.6 278.0,367.6 290.8,367.6 290.8,367.6 290.8,367.6 294.9,366.6 294.9,366.6 294.9,366.6 314.1,366.6 314.1,366.6 314.1,366.6 314.1,325.2 314.1,325.2 314.1,325.2 241.4,324.4ZM218.0,373.4 218.0,373.4 237.8,387.1 237.8,387.1 240.3,388.9 240.3,388.9 240.3,388.9 240.3,388.9 240.3,388.9 240.3,388.9 240.3,388.9 240.3,388.9 240.3,388.9 240.3,389.0 240.3,389.0 240.3,389.0 240.4,388.9 240.4,388.9 240.4,388.9 240.4,388.9 240.4,388.9 240.4,388.9 240.4,388.9 240.4,388.9 240.4,388.9 240.4,388.9 240.4,388.9 240.4,388.9 240.4,388.9 240.4,388.9 240.4,388.9 240.4,388.9 246.7,391.4 246.7,391.4 255.5,393.9 255.5,393.9 255.5,393.9 265.5,393.1 265.5,393.1 265.5,393.1 270.1,393.9 270.1,393.9 270.1,393.9 271.9,393.9 271.9,393.9 271.9,393.9 271.9,367.6 271.9,367.6 271.9,367.6 271.9,367.6 271.9,367.6 271.9,367.6 271.9,367.6 271.9,367.6 271.9,367.6 271.9,367.6 271.9,367.6 271.9,367.6 271.9,367.6 271.9,367.6 271.9,367.6 271.9,367.6 271.9,367.6 278.0,367.6 278.0,367.6 278.0,367.6 277.4,366.6 277.4,366.6 277.4,366.6 271.5,366.6 271.5,366.6 271.5,366.6 271.5,366.6 271.5,366.6 271.5,366.6 271.5,366.6 271.5,366.6 271.5,366.6 271.5,366.6 271.5,366.6 271.5,366.6 271.5,366.6 271.5,366.6 271.5,366.6 271.5,366.6 271.5,366.5 271.5,366.5 271.5,366.5 271.5,366.5 271.5,366.5 273.9,360.8 273.9,360.8 273.9,360.8 272.6,357.6 272.6,357.6 272.6,357.6 272.6,357.6 272.6,357.6 272.6,357.6 272.6,357.5 272.6,357.5 272.6,357.5 272.6,357.5 272.6,357.5 276.0,353.0 276.0,353.0 276.0,353.0 276.2,352.3 276.2,352.3 276.2,352.3 273.0,349.2 273.0,349.2 273.0,349.2 271.6,348.7 271.6,348.7 271.6,348.7 265.6,348.4 265.6,348.4 265.6,348.4 265.6,348.4 265.6,348.4 265.6,348.4 265.6,348.4 265.6,348.4 265.6,348.4 265.6,348.4 265.6,348.4 265.5,348.1 265.5,348.1 265.5,348.1 258.8,348.0 251.4,347.8 251.4,347.8 251.4,347.8 251.4,351.5 251.4,351.5 251.4,351.5 251.4,351.5 251.4,351.5 251.4,351.5 251.4,351.5 251.4,351.5 251.4,351.5 251.4,351.5 251.4,351.5 251.4,351.5 251.4,351.5 251.4,351.5 251.4,351.5 251.4,351.5 251.4,351.5 238.9,351.5 238.9,351.5 238.9,351.5 238.9,367.8 238.9,367.8 238.9,367.8 238.9,367.8 238.9,367.8 238.9,367.8 238.9,367.8 238.9,367.8 238.9,367.8 238.9,367.8 238.9,367.8 238.9,367.8 238.9,367.8 238.9,367.8 238.9,367.8 238.9,367.8 238.9,367.8 227.6,367.8 227.6,367.8 227.6,367.8 227.6,379.6 227.6,379.6 227.6,379.6 227.6,379.6 227.6,379.6 227.6,379.6 227.6,379.6 227.6,379.6 227.6,379.6 227.6,379.6 227.6,379.6 227.6,379.6 227.6,379.6 227.6,379.6 227.6,379.6 227.6,379.6 227.6,379.6 227.6,379.6 227.6,379.6 227.6,379.6 227.6,379.6 227.6,379.6 227.6,379.6 227.5,379.5 218.0,373.4ZM271.9,367.6 271.9,367.6 271.9,393.9 271.9,393.9 271.9,393.9 281.4,393.9 281.4,393.9 281.4,393.9 281.4,393.9 281.4,393.9 287.7,396.4 287.7,396.4 287.7,396.4 287.7,396.4 293.9,401.4 293.9,401.4 294.0,401.4 294.0,401.4 297.7,406.4 297.7,406.4 297.7,406.4 304.0,410.2 304.0,410.2 310.2,415.2 310.3,415.2 316.5,419.7 316.5,419.7 321.5,424.0 321.5,424.0 323.5,426.0 323.5,426.0 323.5,426.0 328.3,415.2 328.3,415.2 328.3,415.2 328.3,367.6 328.3,367.6 328.3,367.6 317.2,367.6 317.2,367.6 317.2,367.6 317.2,367.6 317.2,367.6 317.2,367.6 317.2,367.6 317.2,367.6 317.2,367.6 317.2,367.6 316.3,366.6 316.3,366.6 316.3,366.6 294.9,366.6 294.9,366.6 294.9,366.6 290.8,367.6 290.8,367.6 290.8,367.6 271.9,367.6ZM328.3,377.7 328.3,377.7 328.3,403.8 328.3,403.8 328.3,403.8 329.0,403.9 329.0,403.9 329.0,403.9 329.0,403.2 329.0,403.2 329.0,403.2 329.1,403.2 329.1,403.2 329.1,403.2 329.1,403.2 329.1,403.2 329.1,403.2 329.1,403.2 329.1,403.2 329.1,403.2 329.1,403.2 329.1,403.2 329.1,403.2 329.1,403.2 359.1,403.2 359.1,403.2 359.1,403.2 359.1,403.2 359.1,403.2 359.1,403.2 359.1,403.2 359.1,403.2 359.1,403.2 359.1,403.2 359.1,403.2 359.1,403.2 359.1,403.2 359.1,403.2 359.1,403.2 359.1,403.2 359.1,403.2 359.1,408.8 359.1,408.8 359.1,408.8 359.6,408.2 359.6,408.2 359.6,408.2 359.6,403.2 359.6,403.2 359.6,403.2 359.6,403.2 359.6,403.2 359.6,403.2 359.6,403.2 359.6,403.2 359.6,403.2 359.6,403.2 359.6,403.2 359.6,403.2 359.6,403.2 359.6,403.2 359.6,403.2 359.6,403.2 359.6,403.2 361.4,403.2 361.4,403.2 361.4,403.2 361.4,402.7 361.4,402.7 361.4,402.7 361.4,402.7 361.4,402.7 361.4,402.7 361.4,402.7 361.4,402.7 361.4,402.7 361.4,402.7 361.4,402.7 361.4,402.7 361.4,402.7 361.4,402.7 361.4,402.7 361.4,402.7 361.4,402.7 364.1,402.7 364.1,402.7 364.2,402.7 366.6,380.1 366.6,380.1 366.6,380.1 366.6,380.1 366.7,380.1 366.7,380.1 366.7,380.1 366.7,380.1 366.7,380.1 366.7,380.1 366.7,380.1 366.7,380.1 366.7,380.1 366.7,380.1 366.7,380.1 366.7,380.1 379.9,380.1 379.9,380.1 379.9,380.1 379.9,367.6 379.9,367.6 379.9,367.6 329.1,367.6 329.1,367.6 329.1,367.6 329.1,377.5 329.0,377.5 329.0,377.5 329.0,377.5 329.0,377.5 329.0,377.5 329.0,377.5 329.0,377.5 329.0,377.5 329.0,377.5 329.0,377.5 329.0,377.5 329.0,377.5 329.0,377.5 328.3,377.7ZM359.1,408.8 359.1,408.8 359.1,408.8 359.1,408.8 359.6,413.3 359.6,413.3 359.6,431.7 359.6,431.7 359.6,431.8 397.0,431.8 397.0,431.7 397.0,431.7 397.0,403.2 397.0,403.2 397.0,403.2 389.9,403.2 389.9,403.2 389.9,403.2 389.9,403.2 389.9,403.2 389.9,403.2 389.9,403.2 389.9,403.2 389.9,403.2 389.9,403.2 389.9,403.2 389.9,403.1 389.9,403.1 389.9,403.1 389.6,403.1 389.6,403.1 388.8,403.2 388.8,403.2 359.6,403.2 359.6,403.2 359.6,403.2 359.6,408.2 359.6,408.2 359.6,408.2 359.6,408.2 359.6,408.2 359.6,408.2 359.6,408.2 359.6,408.2 359.1,408.8ZM364.2,156.1 364.2,156.1 364.5,156.7 364.5,156.7 364.5,156.7 364.5,156.4 364.5,156.4 364.5,156.4 364.5,156.4 364.5,156.4 364.5,156.4 364.5,156.4 364.5,156.4 364.5,156.4 364.5,156.4 364.5,156.4 364.5,156.4 364.5,156.4 364.5,156.4 364.5,156.4 364.5,156.4 364.5,156.4 364.5,156.4 364.5,156.4 364.5,156.4 392.6,165.1 392.6,165.1 392.6,165.1 392.6,146.4 392.6,146.4 392.6,146.4 390.1,145.1 390.1,145.1 390.1,145.1 386.3,147.1 386.3,147.1 386.3,147.1 386.3,147.1 386.3,147.1 386.3,147.1 386.3,147.1 386.3,147.1 386.3,147.1 380.1,145.1 380.1,145.1 380.1,145.1 373.8,141.3 373.8,141.3 368.8,138.1 368.8,138.1 368.8,138.0 365.2,137.5 365.2,137.5 365.2,137.5 365.5,137.5 365.5,137.5 365.5,137.5 365.5,137.5 365.5,137.5 365.5,137.5 365.5,137.5 365.5,137.5 365.5,137.5 365.5,137.5 365.5,137.5 365.5,137.5 365.5,137.5 365.5,137.6 365.5,137.6 365.5,151.1 365.5,151.1 365.5,151.1 365.5,151.1 365.5,151.1 365.5,151.1 365.5,151.1 365.5,151.1 365.5,151.1 365.5,151.1 365.5,151.1 365.5,151.1 365.5,151.1 365.5,151.1 365.5,151.1 365.5,151.1 365.5,151.1 364.2,151.1 364.2,151.1 364.2,151.1 364.2,156.1ZM392.6,146.4 392.6,146.4 392.6,177.2 392.6,177.2 392.6,177.2 421.4,177.2 421.4,177.2 421.4,177.2 421.4,157.6 421.4,157.6 421.4,157.6 415.2,157.6 415.2,157.6 415.2,157.6 415.2,157.6 415.2,157.6 408.9,155.1 408.9,155.1 408.9,155.1 408.9,155.1 408.9,155.1 408.9,155.1 408.9,155.1 408.9,155.1 406.4,150.1 406.4,150.1 406.4,150.1 401.4,146.3 401.4,146.3 398.9,144.6 398.9,144.6 398.9,144.6 393.9,147.1 393.9,147.1 393.9,147.1 393.9,147.1 393.9,147.1 393.9,147.1 393.9,147.1 393.9,147.1 393.9,147.1 393.9,147.1 393.9,147.1 392.6,146.4ZM365.5,200.4 365.5,200.4 365.5,200.5 365.5,200.5 365.5,200.5 365.5,200.5 365.5,200.5 365.5,200.5 365.5,200.5 365.5,200.5 365.5,200.7 365.5,200.7 365.5,200.7 366.2,200.7 366.2,200.7 366.2,200.7 366.2,200.7 366.2,200.7 366.2,200.7 366.2,200.7 366.2,200.7 366.2,200.7 366.2,200.7 366.2,200.7 366.2,200.7 366.2,200.7 366.2,200.7 366.2,200.7 366.2,200.7 366.2,200.7 366.2,201.1 366.2,201.1 366.2,201.1 366.3,201.1 366.3,201.1 366.3,201.1 366.3,200.7 366.3,200.7 366.3,200.7 366.3,200.7 366.3,200.7 366.3,200.7 366.3,200.7 366.3,200.7 366.3,200.7 366.3,200.7 366.3,200.7 366.3,200.7 366.3,200.7 366.3,200.7 366.3,200.7 366.3,200.7 366.3,200.7 393.9,200.7 393.9,200.7 393.9,200.7 393.9,178.2 393.9,178.2 393.9,178.2 392.6,178.2 392.6,178.2 392.6,178.2 392.6,179.6 392.6,179.6 392.6,179.7 392.6,179.7 392.6,179.7 392.6,179.7 392.6,179.7 392.6,179.7 392.6,179.7 392.6,179.7 392.6,179.7 392.6,179.7 392.6,179.7 392.6,179.7 392.6,179.7 392.6,179.7 392.6,179.7 392.6,179.7 379.6,178.2 379.6,178.2 365.5,178.2 365.5,178.2 365.5,178.2 365.5,191.2 365.5,191.2 365.5,193.7 365.5,193.7 365.5,200.4ZM393.9,177.2 393.9,177.2 393.9,200.2 393.9,200.2 393.9,200.2 421.4,200.2 421.4,200.2 421.4,200.2 421.4,177.2 421.4,177.2 421.4,177.2 393.9,177.2ZM421.4,177.2 421.4,177.2 421.4,199.7 421.4,199.7 421.4,199.7 450.8,199.7 450.8,199.7 450.8,199.7 450.8,197.9 450.8,197.9 450.8,197.9 450.8,197.9 450.8,197.9 450.8,197.9 450.8,197.9 450.8,197.9 451.3,197.2 451.3,197.2 451.3,197.2 450.8,197.2 450.8,197.2 450.8,197.2 450.8,197.2 450.8,197.2 450.8,197.2 450.8,197.2 450.8,197.2 450.8,197.2 450.8,197.2 450.8,197.2 450.8,197.2 450.8,197.2 450.8,197.2 450.8,197.2 450.8,197.2 450.8,197.2 450.8,177.2 450.8,177.2 450.8,177.2 421.4,177.2ZM450.3,177.2 450.3,177.2 450.3,177.2 450.8,177.2 450.8,177.2 450.8,177.2 450.8,177.2 450.8,177.2 450.8,177.2 450.8,177.2 450.8,177.2 450.8,177.2 450.8,177.2 450.8,177.2 450.8,177.2 450.8,177.2 450.8,177.2 450.8,177.2 450.8,177.2 450.8,177.2 450.8,197.2 450.8,197.2 450.8,197.2 474.8,197.2 474.8,197.2 474.8,197.2 474.8,171.4 474.8,171.4 474.8,171.4 474.1,167.6 474.1,167.6 474.1,167.6 469.1,166.4 469.1,166.4 469.1,166.4 469.1,166.4 469.1,166.4 469.1,166.4 469.1,166.4 469.1,166.4 469.1,166.4 465.3,160.1 465.3,160.1 465.3,160.1 460.3,161.4 460.3,161.4 460.3,161.4 460.3,161.4 460.3,161.4 452.8,160.1 452.8,160.1 452.8,160.1 450.8,162.1 450.8,162.1 450.8,162.1 450.8,169.8 450.8,169.8 450.8,169.8 450.8,169.8 450.8,169.8 450.3,171.2 450.3,171.2 450.3,171.2ZM474.8,171.4 474.8,171.4 474.8,198.0 474.8,198.0 474.8,198.0 476.6,198.0 476.6,198.0 476.6,198.0 476.6,198.0 476.6,198.0 476.6,198.0 476.6,198.0 476.6,198.0 476.6,198.0 476.6,198.0 476.6,198.0 476.6,198.0 476.6,198.0 476.6,198.0 476.6,198.0 476.6,198.0 476.6,198.0 476.6,199.0 476.6,199.0 476.6,199.0 500.4,199.0 500.4,199.0 500.4,199.0 500.4,174.3 500.4,174.3 500.4,174.3 499.2,172.6 499.1,172.6 499.1,172.6 491.6,168.9 491.6,168.9 491.6,168.9 485.4,171.4 485.4,171.4 485.4,171.4 480.3,175.1 480.3,175.1 480.3,175.1 480.3,175.1 480.3,175.1 480.3,175.1 480.3,175.1 480.3,175.1 480.3,175.1 480.3,175.1 475.3,173.9 475.3,173.9 475.3,173.9 475.3,173.9 475.3,173.9 475.3,173.9 475.3,173.9 475.3,173.9 475.3,173.9 475.3,173.9 475.3,173.9 475.3,173.9 475.3,173.9 474.8,171.4ZM366.2,220.6 366.2,220.6 366.3,220.6 366.3,220.6 366.3,220.6 366.3,220.6 366.3,220.6 366.3,220.6 366.3,220.6 366.3,220.6 366.3,220.6 366.3,220.6 366.3,220.6 366.3,220.6 366.3,220.6 366.3,220.6 366.3,224.0 366.3,224.0 366.3,224.0 393.9,224.0 393.9,224.0 393.9,224.0 393.9,200.7 393.9,200.7 393.9,200.7 366.3,200.7 366.3,200.7 366.3,200.7 366.3,201.1 366.3,201.1 366.3,201.1 366.3,201.1 366.3,201.1 366.3,201.1 366.3,201.1 366.3,201.1 366.3,201.1 366.3,201.1 366.3,201.1 366.3,201.1 366.3,201.1 366.3,201.1 366.3,201.1 366.3,201.1 366.3,201.1 366.2,201.1 366.2,201.1 366.2,201.1 366.2,220.6ZM357.5,224.0 357.5,224.0 357.5,247.3 357.5,247.3 357.5,247.3 358.5,247.3 358.5,247.4 369.1,247.5 369.1,247.5 385.7,247.5 385.7,247.5 385.7,247.5 385.8,247.4 385.8,247.4 385.8,247.4 385.8,247.4 385.8,247.4 385.8,247.4 385.8,247.4 385.8,247.4 385.8,247.4 385.8,247.3 386.3,247.3 386.3,247.3 386.3,247.3 386.3,224.0 386.3,224.0 386.3,224.0 366.3,224.0 366.3,224.0 366.3,224.0 366.3,224.0 366.3,224.0 366.3,224.0 366.3,224.0 366.3,224.0 366.3,224.0 366.3,224.0 366.3,224.0 366.3,224.0 366.3,224.0 366.3,224.0 366.3,224.0 366.3,224.0 366.3,224.0 366.3,220.6 366.3,220.6 366.3,220.6 366.2,220.6 366.2,220.6 366.2,220.6 366.2,224.0 366.2,224.0 366.2,224.0 366.2,224.0 366.2,224.0 366.2,224.0 366.2,224.0 366.2,224.0 366.2,224.0 366.2,224.0 366.2,224.0 366.2,224.0 366.2,224.0 366.2,224.0 366.2,224.0 366.2,224.0 366.2,224.0 362.0,224.0 362.0,224.0 362.0,224.0 362.0,224.0 362.0,224.0 362.0,224.0 362.0,224.0 362.0,224.0 362.0,224.0 362.0,224.0 362.0,224.0 357.5,224.0ZM414.7,223.5 414.7,223.5 414.7,248.8 414.7,248.8 414.7,248.8 442.7,248.8 442.7,248.8 442.7,248.8 442.7,223.3 442.7,223.3 442.7,223.3 421.4,223.3 421.4,223.3 421.4,223.3 421.4,223.5 421.4,223.5 421.4,223.5 421.4,223.5 421.4,223.5 421.4,223.5 421.4,223.5 421.4,223.5 421.4,223.5 421.4,223.5 421.4,223.5 421.4,223.5 421.4,223.5 421.4,223.5 421.4,223.5 421.4,223.5 421.4,223.5 414.7,223.5ZM353.0,274.0 352.9,274.0 352.9,295.2 353.0,295.2 353.0,295.2 353.0,295.3 353.0,295.3 353.0,295.3 353.0,295.3 353.0,295.3 353.0,295.3 353.0,295.3 353.0,295.3 353.0,295.3 353.0,298.1 353.0,298.1 353.0,298.1 359.2,298.1 359.2,298.1 359.2,298.1 359.2,298.1 359.2,298.1 359.2,298.1 359.2,298.1 359.2,298.1 359.2,298.1 359.2,298.1 359.2,298.1 359.2,298.1 359.2,298.1 359.2,298.1 359.2,298.1 359.2,298.1 359.2,298.1 359.2,300.8 359.2,300.8 359.2,300.8 359.3,300.8 359.3,300.8 359.3,300.8 359.3,298.9 359.3,298.9 359.3,298.9 359.3,298.9 359.3,298.9 359.3,298.9 359.3,298.9 359.3,298.9 359.3,298.9 359.3,298.9 359.3,298.9 359.3,298.9 359.3,298.9 359.3,298.9 359.3,298.9 359.3,298.9 359.3,298.9 380.1,298.9 380.1,298.9 380.1,298.9 380.1,271.3 380.1,271.3 380.1,271.3 357.5,271.3 357.5,271.3 357.5,271.3 357.5,271.3 357.5,271.3 357.5,271.3 357.5,271.3 357.5,271.3 357.5,271.3 357.5,271.3 357.5,271.3 357.5,271.3 357.5,271.3 357.5,271.3 357.5,271.3 357.5,271.3 357.5,271.3 357.5,270.0 357.5,270.0 357.5,270.0 357.5,270.0 357.5,270.0 357.5,270.0 357.5,270.0 357.5,270.0 357.5,270.0 357.5,270.9 357.5,270.9 357.5,270.9 357.5,270.9 357.5,270.9 357.5,270.9 357.5,270.9 357.5,270.9 357.5,270.9 357.5,270.9 357.5,270.9 357.5,270.9 357.5,270.9 357.5,270.9 357.5,270.9 357.5,270.9 357.4,270.9 356.5,270.9 356.5,270.9 356.5,270.9 356.0,271.3 356.0,271.3 356.0,271.3 356.0,271.3 356.0,271.3 356.0,271.3 356.0,271.3 356.0,271.3 353.0,271.3 353.0,271.3 353.0,271.3 353.0,273.9 353.0,274.0 353.0,274.0 353.0,274.0 353.0,274.0 353.0,274.0 353.0,274.0 353.0,274.0 353.0,274.0 353.0,274.0 353.0,274.0ZM386.3,303.9 386.3,303.9 386.3,332.2 386.3,332.2 386.3,332.2 414.7,332.2 414.7,332.2 414.7,332.2 414.7,303.9 414.7,303.9 414.7,303.9 408.2,303.9 408.2,303.9 408.1,303.9 402.6,306.4 402.6,306.4 402.6,306.4 402.6,306.4 402.6,306.4 402.6,306.4 402.6,306.4 402.6,306.4 395.1,304.7 391.8,303.9 389.4,303.4 389.4,303.4 389.4,303.4 389.3,303.9 389.3,303.9 389.3,303.9 389.3,303.9 389.3,303.9 389.2,303.9 389.2,303.9 389.2,303.9 389.2,303.9 389.2,303.9 389.2,303.9 389.2,303.9 389.2,303.9 389.2,303.9 389.2,303.9 386.3,303.9ZM421.4,332.8 421.4,332.8 421.4,355.8 421.4,355.8 421.4,355.8 441.5,355.8 441.5,355.8 441.5,355.8 441.5,355.8 441.5,355.8 441.5,355.8 441.5,355.8 441.5,355.8 441.5,355.8 441.5,355.8 441.5,355.8 441.5,355.8 441.5,355.8 441.5,355.8 441.5,355.8 441.5,355.8 441.5,355.8 441.5,358.8 441.5,358.8 441.5,358.8 441.6,358.7 441.6,358.7 441.6,358.7 441.6,356.5 441.6,356.5 441.6,356.5 441.6,356.5 441.6,356.5 441.6,356.5 441.6,356.5 441.6,356.5 441.6,356.5 441.6,356.5 441.6,356.5 441.6,356.5 441.6,356.5 441.6,356.5 441.6,356.5 441.6,356.5 441.6,356.5 445.7,356.3 445.7,356.3 445.7,356.3 446.5,355.8 446.5,355.8 446.5,355.8 446.5,355.8 446.5,355.8 446.5,355.8 450.3,355.8 450.3,355.8 450.3,355.8 450.3,353.6 450.3,353.6 450.3,353.6 450.3,353.6 450.3,353.6 450.3,353.6 450.3,353.6 450.3,353.6 450.3,353.6 450.3,353.6 450.3,353.6 450.3,353.6 450.5,353.5 450.5,353.5 450.5,353.5 450.3,349.4 450.3,349.4 450.3,332.8 450.3,332.8 450.3,332.8 421.4,332.8ZM397.0,430.5 397.0,430.5 397.3,430.5 397.3,430.5 397.3,430.5 397.3,430.5 397.3,430.5 397.3,430.5 397.3,430.5 397.3,430.5 397.3,430.5 397.3,430.5 397.3,430.5 397.3,430.5 397.3,430.5 397.3,430.5 397.3,430.5 397.3,430.5 397.3,430.5 397.3,431.6 397.3,431.6 397.3,431.6 429.5,431.6 429.5,431.6 429.5,431.6 429.5,423.1 429.5,423.1 429.5,423.1 429.5,423.1 429.5,423.1 429.5,423.1 429.5,423.1 429.5,423.1 429.5,423.1 429.5,423.1 429.5,423.1 429.5,423.1 429.5,423.1 429.5,423.1 429.5,423.1 429.5,423.1 429.6,423.1 429.6,423.1 429.6,423.1 429.6,423.1 430.1,423.3 430.1,423.3 430.1,423.3 430.4,422.8 430.4,422.8 430.4,422.8 430.2,422.8 430.2,422.8 430.2,422.8 430.2,422.8 430.2,422.8 430.2,422.7 430.2,422.7 430.2,422.7 430.2,422.7 430.2,422.7 430.1,422.7 430.1,422.7 430.1,422.7 429.7,416.1 429.7,416.1 429.7,416.1 429.5,415.4 429.5,415.4 429.5,415.4 429.5,403.0 429.5,403.0 429.5,403.0 397.3,403.0 397.3,403.0 397.3,403.0 397.3,412.3 397.3,412.3 397.3,412.3 397.3,412.3 397.3,412.3 397.3,412.3 397.3,412.3 397.3,412.3 397.3,412.3 397.3,412.3 397.3,412.3 397.3,412.3 397.3,412.3 397.3,412.3 397.0,412.4 397.0,412.4 397.0,412.4 397.0,430.5ZM613.8,336.6 613.8,336.6 615.6,343.7 615.6,343.7 615.6,343.7 615.6,353.6 615.6,353.6 615.7,354.8 615.7,354.8 615.6,356.0 615.6,356.0 615.6,356.0 615.8,356.1 615.8,356.1 615.8,356.1 615.8,356.1 615.8,356.1 615.8,356.1 615.8,356.1 615.8,356.1 615.8,356.1 615.9,358.9 615.9,358.9 615.9,358.9 622.8,362.0 622.8,362.0 622.8,362.0 622.8,362.0 626.0,364.7 626.0,364.7 626.0,364.7 626.8,364.3 626.8,364.3 626.8,364.3 626.8,364.3 626.8,364.3 626.8,364.3 626.8,364.3 626.8,364.3 626.8,364.3 626.8,364.3 626.8,364.3 626.8,364.3 626.8,364.3 626.8,364.3 626.8,364.3 626.8,364.3 626.8,364.3 626.8,364.3 626.8,364.3 626.8,364.3 626.8,364.3 626.8,364.4 626.8,364.4 626.8,364.4 629.8,363.4 629.8,363.4 629.8,363.4 636.3,358.4 636.3,358.4 637.3,357.8 637.3,357.8 642.8,354.9 642.8,354.9 642.8,354.9 641.7,353.5 641.7,353.5 641.7,353.5 641.7,353.5 641.7,353.5 637.9,352.5 637.9,352.5 637.9,352.5 637.9,352.5 637.9,352.5 633.7,349.6 633.7,349.6 633.7,349.6 633.7,349.6 633.7,349.6 633.7,349.6 633.7,349.6 632.8,347.2 631.8,344.5 631.8,344.5 631.8,344.5 627.0,342.9 626.7,342.8 626.7,342.8 626.7,342.8 626.7,342.8 626.7,342.8 626.7,342.8 626.1,342.2 626.1,342.2 626.1,342.2 626.0,342.0 626.0,342.0 622.6,335.2 622.6,335.2 622.6,335.2 620.5,335.2 620.5,335.2 620.5,335.2 620.5,335.2 620.5,335.2 620.5,335.2 620.5,335.2 620.5,335.2 620.5,335.2 620.1,334.8 620.1,334.8 620.1,334.8 616.5,334.8 616.5,334.8 616.5,334.8 613.8,336.5ZM357.9,479.9 357.9,479.9 361.3,482.6 361.3,482.6 361.3,482.6 367.6,490.1 367.6,490.1 367.6,490.1 372.6,498.9 372.6,498.9 372.6,498.9 380.1,505.2 380.1,505.2 387.6,510.2 387.6,510.2 387.6,510.2 392.6,515.2 392.6,515.2 392.6,515.2 392.6,515.2 392.6,515.2 392.6,515.2 392.6,515.2 392.6,515.2 392.6,515.2 392.6,526.5 392.6,526.5 392.6,526.5 395.6,529.5 395.6,529.5 395.6,529.5 396.4,529.7 396.4,529.7 396.4,529.7 429.7,529.0 429.7,529.0 429.8,529.0 429.8,487.6 429.7,487.6 429.7,487.6 398.2,487.6 398.2,487.6 398.2,487.6 398.2,487.6 398.2,487.6 398.2,487.6 398.2,487.6 398.2,487.6 398.2,487.6 398.2,487.6 398.2,487.6 398.2,487.6 398.2,487.6 398.2,487.6 398.2,487.6 398.2,487.6 398.2,487.6 398.2,478.9 398.2,478.9 398.2,478.9 398.0,478.9 398.0,478.9 398.0,478.9 398.0,479.1 398.0,479.1 398.0,479.1 398.0,479.1 398.0,479.1 398.0,479.1 398.0,479.1 398.0,479.1 398.0,479.1 398.0,479.1 398.0,479.1 398.0,479.1 398.0,479.1 398.0,479.1 398.0,479.1 398.0,479.1 398.0,479.1 359.6,479.1 359.6,479.1 359.6,479.1 359.6,479.1 359.6,479.1 359.6,479.1 359.6,479.1 359.6,479.1 359.6,479.1 359.6,479.1 359.6,479.1 359.6,479.1 359.6,479.1 359.6,479.1 359.6,479.1 359.6,479.1 359.6,479.1 359.6,478.9 359.6,478.9 359.6,478.9 359.1,478.9 359.1,478.9 359.1,478.9 359.1,479.9 359.1,479.9 359.1,479.9 359.1,479.9 359.1,479.9 359.1,479.9 359.1,479.9 359.1,479.9 359.1,479.9 359.1,479.9 359.1,479.9 359.1,479.9 359.1,479.9 359.1,479.9 359.1,479.9 359.1,479.9 359.1,479.9 357.9,479.9ZM444.0,262.2 444.0,262.2 457.4,278.0 457.5,278.0 457.5,278.0 462.8,278.9 462.8,278.9 462.8,278.9 478.9,271.7 478.9,271.7 478.9,271.7 477.1,262.8 477.1,262.8 477.1,262.7 470.0,248.4 470.0,248.4 470.0,248.4 470.0,248.4 470.0,248.4 470.0,248.4 470.0,245.7 470.0,245.7 470.0,245.7 469.8,245.7 469.8,245.7 469.8,245.7 469.8,248.8 469.8,248.8 469.8,248.8 469.8,248.8 469.8,248.8 469.8,248.8 469.8,248.8 469.8,248.8 469.8,248.8 469.8,248.8 469.8,248.8 469.8,248.8 469.8,248.8 469.8,248.8 469.8,248.8 469.8,248.8 469.8,248.8 447.5,248.8 447.5,248.9 447.5,248.9 447.1,258.3 447.1,258.3 447.1,258.3 447.1,258.3 447.1,258.3 447.1,258.3 447.1,258.3 444.0,262.2ZM424.3,271.4 424.3,271.4 433.3,292.3 433.3,292.3 433.3,292.3 436.9,291.4 436.9,291.4 436.9,291.4 436.9,291.4 450.3,291.4 450.3,291.4 450.3,291.4 463.7,284.2 463.7,284.2 463.7,284.2 462.8,278.9 462.8,278.9 462.8,278.9 457.5,278.0 457.5,278.0 457.5,278.0 457.5,278.0 457.4,278.0 457.4,278.0 457.4,278.0 457.4,278.0 444.0,262.2 444.0,262.2 444.0,262.2 424.3,271.3ZM408.2,271.3 408.1,271.3 408.1,303.9 408.2,303.9 408.2,303.9 414.7,303.9 414.7,303.9 414.7,303.9 416.3,304.3 420.9,305.3 420.9,305.3 420.9,305.3 421.6,305.1 421.6,305.1 421.6,305.1 422.2,304.5 422.2,304.5 422.2,304.5 419.9,303.9 419.9,303.9 419.9,303.9 419.9,303.9 419.9,303.9 419.9,303.9 419.9,303.9 419.9,303.9 419.9,303.9 419.9,303.9 419.9,303.9 419.9,303.9 419.9,303.9 419.9,303.9 419.9,303.9 419.9,303.9 419.9,303.9 419.9,303.9 419.9,303.9 419.9,303.9 419.9,303.9 419.9,303.9 419.9,303.9 433.3,292.3 433.3,292.3 433.3,292.3 424.3,271.4 424.3,271.4 424.3,271.4 410.0,271.4 410.0,271.3 410.0,271.3 410.0,271.3 410.0,271.3 410.0,271.3 410.0,271.3 410.0,271.3 410.0,271.3 410.0,271.3 410.0,271.3 410.0,271.3 410.0,271.3 410.0,271.3 410.0,271.3 410.0,271.3 410.0,271.3 410.0,271.3 410.0,271.3 408.2,271.3ZM450.3,291.4 450.3,291.4 458.0,306.6 458.0,306.6 458.0,306.6 463.7,305.2 463.7,305.2 463.7,305.2 489.7,292.3 489.7,292.3 489.7,292.3 473.6,274.8 473.6,274.8 473.6,274.8 472.6,275.1 472.6,275.1 472.6,275.1 472.6,275.1 472.6,275.1 472.6,275.1 472.6,275.1 472.6,275.1 472.6,275.1 472.6,275.1 472.0,274.8 472.0,274.8 472.0,274.8 469.4,275.9 462.8,278.9 462.8,278.9 462.8,278.9 463.7,284.2 463.7,284.2 463.7,284.2 463.7,284.2 463.7,284.2 463.7,284.2 463.7,284.2 463.7,284.2 463.7,284.2 463.7,284.2 463.7,284.2 463.7,284.2 463.7,284.2 463.7,284.2 450.3,291.4ZM419.9,303.9 419.9,303.9 422.2,304.4 422.2,304.4 422.2,304.4 422.2,304.4 422.2,304.4 422.2,304.5 422.2,304.5 422.2,304.5 422.2,304.5 422.2,304.5 422.2,304.5 422.2,304.5 422.2,304.5 422.2,304.5 422.2,304.5 422.2,304.5 422.2,304.5 422.2,304.5 422.2,304.5 422.2,304.5 422.2,304.5 422.2,304.5 421.6,305.1 421.6,305.1 421.6,305.1 422.7,305.7 422.7,305.7 422.7,305.7 432.7,307.7 432.7,307.7 432.7,307.7 432.7,307.7 433.4,308.1 437.8,310.7 439.0,311.4 439.0,311.4 439.0,311.4 439.0,311.5 439.0,311.5 439.0,311.5 439.4,312.1 439.4,312.1 442.7,317.7 442.7,317.7 442.7,317.7 443.1,318.5 443.1,318.5 443.1,318.5 444.0,319.2 444.0,319.2 444.0,319.2 445.0,317.9 445.0,317.9 445.0,317.9 444.0,316.5 444.0,316.5 444.0,316.5 444.0,316.5 444.0,316.5 444.0,316.5 444.0,316.5 444.0,316.5 444.0,316.5 444.0,316.5 444.0,316.5 444.0,316.5 444.0,316.5 444.0,316.5 444.0,316.5 444.0,316.5 444.0,316.5 458.0,306.6 458.0,306.6 458.0,306.6 450.3,291.4 450.3,291.4 450.3,291.4 436.9,291.4 436.9,291.4 436.9,291.4 433.3,292.3 433.3,292.3 433.3,292.3 419.9,303.9ZM444.0,316.5 444.0,316.5 445.0,317.8 445.0,317.8 445.0,317.8 445.0,317.9 445.0,317.9 445.0,317.9 445.0,317.9 445.0,317.9 445.0,317.9 445.0,317.9 445.0,317.9 445.0,317.9 445.0,317.9 445.0,317.9 444.0,319.2 444.0,319.2 444.0,319.2 444.3,321.6 444.3,321.6 444.3,321.6 445.2,324.0 445.3,324.0 445.3,324.0 449.0,326.5 449.0,326.5 449.0,326.5 449.0,326.5 449.0,326.5 449.0,326.5 449.0,326.5 449.0,326.5 449.0,326.5 449.0,326.5 449.0,326.5 449.0,332.4 449.0,332.4 449.0,332.4 449.3,332.4 449.3,332.4 449.3,332.4 449.3,325.1 449.3,325.1 449.3,325.1 449.3,325.1 449.3,325.1 449.3,325.1 449.3,325.1 449.3,325.1 449.3,325.1 449.3,325.1 449.3,325.1 449.3,325.1 449.3,325.1 449.3,325.1 449.3,325.1 449.3,325.1 449.3,325.1 449.3,325.1 449.3,325.1 449.3,325.1 449.3,325.1 449.3,325.1 449.3,325.1 449.3,325.1 449.3,325.1 449.3,325.1 449.3,325.1 449.3,325.1 449.3,325.1 449.3,325.1 450.3,327.7 450.3,327.7 450.3,327.7 477.1,327.2 477.1,327.2 477.1,327.2 478.0,325.4 478.0,325.4 478.0,325.4 473.6,319.2 473.6,319.1 463.7,305.2 463.7,305.2 463.7,305.2 458.0,306.6 458.0,306.6 458.0,306.6 444.0,316.5ZM533.3,272.1 533.3,272.1 541.2,284.9 541.2,284.9 541.2,284.9 554.7,286.6 554.7,286.6 554.7,286.6 577.5,275.6 577.5,275.5 577.5,275.5 575.4,270.7 575.4,270.7 575.4,270.7 572.7,268.0 572.7,268.0 572.7,268.0 572.7,268.0 572.7,268.0 571.3,264.5 571.3,264.5 571.3,264.5 567.2,263.1 567.2,263.1 567.1,263.1 567.1,263.1 563.0,260.4 563.0,260.4 558.2,257.6 558.2,257.6 558.2,257.6 533.3,272.1ZM512.6,314.2 512.6,314.2 515.3,318.1 515.3,318.1 515.3,318.1 516.7,321.2 519.6,327.8 519.6,327.8 519.6,327.8 520.0,327.8 520.0,327.8 522.2,328.0 522.2,328.0 522.2,328.0 522.2,328.0 522.2,328.0 522.2,328.0 522.2,328.0 522.2,328.0 522.2,328.0 522.2,328.0 523.0,329.0 523.0,329.0 523.0,329.0 525.0,328.1 525.0,328.1 525.0,328.1 525.0,328.1 525.0,328.1 525.0,328.1 529.3,328.4 529.3,328.4 529.3,328.4 536.7,324.9 536.7,324.9 536.7,324.9 536.7,324.9 536.7,324.9 536.7,324.9 536.7,324.9 536.7,324.9 536.7,324.9 536.7,324.9 536.7,324.9 536.7,324.9 536.7,324.9 536.7,324.9 536.7,324.9 536.7,324.9 536.7,324.9 538.4,328.6 538.4,328.6 538.4,328.6 538.5,328.4 538.5,328.4 538.5,328.4 537.1,324.3 537.1,324.3 537.1,324.3 537.1,324.3 537.1,324.3 537.1,324.3 537.1,324.3 537.1,324.3 537.1,324.3 537.1,324.3 537.1,324.3 537.1,324.3 537.1,324.3 537.1,324.3 537.1,324.3 541.8,321.9 541.8,321.9 541.8,321.9 542.6,320.3 542.6,320.3 542.6,320.3 542.6,320.3 542.6,320.3 542.6,320.3 542.6,320.3 542.6,320.3 547.8,318.0 547.8,318.0 547.8,318.0 546.4,316.0 546.4,316.0 538.2,303.2 538.1,303.2 538.1,303.2 512.6,314.2ZM617.7,174.2 617.7,174.2 617.7,201.5 617.7,201.5 617.7,201.5 644.6,202.1 644.6,202.1 644.6,202.1 644.6,202.1 647.8,203.0 647.8,203.0 647.8,203.0 647.8,197.2 647.8,197.2 647.8,197.2 647.8,197.2 647.9,196.9 647.9,196.9 647.9,196.9 647.9,183.9 647.9,183.9 647.9,183.9 647.8,183.9 645.3,182.6 637.8,178.8 637.8,178.8 630.3,173.8 630.3,173.8 630.3,173.8 622.7,170.6 622.7,170.6 622.7,170.6 617.7,174.2ZM617.7,224.1 617.7,224.1 625.8,224.5 625.8,224.5 625.8,224.5 627.6,222.7 627.6,222.7 627.6,222.7 627.6,202.1 627.6,202.1 627.6,202.1 627.6,202.1 627.6,202.1 627.6,202.1 627.6,202.1 627.6,202.1 627.6,202.1 627.6,202.1 627.6,202.1 627.6,202.1 627.6,202.1 627.6,202.1 627.6,202.1 627.6,202.1 627.6,202.1 627.7,202.1 627.7,202.1 627.7,202.1 627.6,201.7 627.6,201.7 627.6,201.7 617.7,201.5 617.7,201.5 617.7,201.5 617.7,224.1ZM598.9,224.5 598.9,224.5 598.9,235.2 598.9,235.2 598.9,235.2 603.4,237.9 603.4,237.9 603.4,237.9 603.4,237.9 603.4,237.9 603.4,237.9 603.4,237.9 603.4,237.9 603.4,237.9 603.4,237.9 603.4,237.9 603.4,242.8 603.4,242.8 603.4,242.8 606.2,246.8 606.2,246.8 606.2,246.8 604.1,238.9 604.1,238.9 604.1,238.9 604.1,238.9 604.1,238.9 604.1,238.9 604.1,238.9 604.1,238.9 604.1,238.9 604.1,238.9 604.1,238.9 604.1,238.9 604.1,238.9 604.1,238.9 604.1,238.9 604.1,238.9 604.1,238.9 604.1,238.9 604.1,238.9 604.1,238.9 604.1,238.9 604.1,238.9 604.1,238.9 604.1,238.9 610.3,241.6 610.3,241.6 610.3,241.6 612.6,242.1 612.6,242.1 619.5,244.1 619.5,244.1 619.5,244.2 625.8,245.0 625.8,245.0 625.8,245.0 625.8,224.5 625.8,224.5 625.8,224.5 617.7,224.1 617.7,224.1 598.9,224.5ZM625.8,227.7 625.8,227.7 625.8,245.0 625.8,245.0 625.8,245.1 629.7,245.1 629.7,245.1 629.7,245.1 629.7,245.1 629.7,245.1 629.7,245.1 629.7,245.1 629.7,245.1 629.7,245.1 630.6,245.9 630.6,245.9 630.6,245.9 631.4,246.0 631.4,246.0 631.4,246.0 633.5,245.1 633.5,245.1 633.5,245.1 633.5,245.1 633.5,245.1 637.4,245.1 637.4,245.0 637.4,245.0 644.6,242.4 644.6,242.4 644.6,242.4 650.0,238.8 650.0,238.8 650.0,238.8 649.9,236.8 649.9,236.8 649.9,236.8 649.9,236.8 649.9,236.8 649.9,236.8 649.9,236.8 649.9,236.8 649.9,236.8 649.9,236.8 649.9,236.8 649.9,236.8 649.9,236.8 650.6,236.5 650.6,236.5 650.6,236.5 650.6,234.5 650.6,234.5 649.8,228.5 649.8,228.5 649.8,228.5 649.6,228.4 649.6,228.4 649.6,228.4 649.6,228.4 649.6,228.4 649.6,228.4 649.6,228.4 649.6,228.4 649.6,228.4 649.6,228.4 649.6,228.4 649.6,227.7 649.6,227.7 649.6,227.7 647.3,227.1 647.3,227.1 647.3,227.1 625.8,227.7ZM576.6,229.7 576.5,229.7 576.5,255.8 576.6,255.8 576.6,255.8 607.9,256.7 607.9,256.7 607.9,256.7 605.7,251.4 605.7,251.4 605.7,251.4 605.7,251.4 605.7,251.4 605.7,251.4 605.7,251.4 605.7,251.4 606.5,248.0 606.5,248.0 606.5,248.0 606.2,246.8 606.2,246.8 606.2,246.8 603.4,242.8 603.4,242.8 603.4,242.8 603.4,242.8 603.4,242.8 603.4,242.8 603.4,242.8 603.4,237.9 603.4,237.9 603.4,237.9 598.9,235.2 598.9,235.2 598.9,235.2 594.5,233.4 594.5,233.4 594.5,233.4 589.1,232.5 589.1,232.5 584.6,231.6 584.6,231.6 584.6,231.6 584.6,231.6 584.6,231.6 584.6,231.6 581.9,229.5 581.9,229.5 581.9,229.5 576.6,229.7ZM557.7,257.1 557.7,257.1 558.2,257.6 558.2,257.6 558.2,257.6 562.8,260.3 563.0,260.4 563.0,260.4 567.1,263.1 567.2,263.1 567.2,263.1 571.3,264.5 571.3,264.5 571.3,264.5 571.3,264.5 571.3,264.5 571.3,264.5 571.3,264.5 571.3,264.5 571.3,264.5 571.3,264.5 572.7,268.0 572.7,268.0 572.7,268.0 575.4,270.6 575.4,270.7 575.4,270.7 575.4,270.7 575.4,270.7 575.4,270.7 577.5,275.5 577.5,275.6 577.6,275.6 579.0,279.0 579.0,279.0 579.0,279.0 580.2,279.4 580.2,279.4 580.2,279.4 578.9,275.8 578.9,275.8 578.9,275.8 578.9,275.8 578.9,275.8 578.9,275.8 578.9,275.8 578.9,275.8 578.9,275.8 578.9,275.8 578.9,275.8 578.9,275.8 578.9,275.8 578.9,275.8 578.9,275.8 578.9,275.8 578.9,275.8 578.9,275.8 609.4,269.0 609.4,269.0 609.4,269.0 609.4,269.0 609.4,269.0 609.4,269.0 609.4,269.0 609.4,269.0 609.4,269.0 609.4,269.0 609.4,269.0 609.4,269.0 609.4,269.0 609.4,269.0 609.4,269.0 609.4,269.0 609.4,269.0 610.8,274.9 610.8,274.9 610.8,274.9 612.0,273.3 612.0,273.3 612.0,273.3 611.8,268.1 611.8,268.1 611.8,268.1 609.4,268.1 609.4,268.1 609.4,268.1 609.4,268.1 609.4,268.1 609.4,268.1 609.4,268.1 609.4,268.1 609.4,268.1 609.4,268.1 609.4,268.1 609.4,268.1 609.4,268.1 609.4,268.1 609.4,268.1 609.4,268.1 609.4,268.1 609.4,259.4 609.4,259.4 609.4,259.4 608.6,257.9 608.6,257.9 608.6,257.9 608.6,257.9 608.6,257.9 608.5,256.1 608.5,256.1 608.5,256.1 607.7,256.1 607.7,256.1 607.7,256.1 607.7,256.1 607.7,256.1 607.7,256.1 607.7,256.1 607.7,256.1 607.7,256.1 607.7,256.1 607.7,256.1 607.7,256.1 607.6,256.1 607.6,256.1 607.6,256.1 607.7,256.1 607.9,256.7 607.9,256.7 607.9,256.7 607.9,256.7 607.9,256.7 607.9,256.7 607.9,256.7 607.9,256.7 607.9,256.7 607.9,256.7 607.9,256.7 607.9,256.7 607.9,256.7 607.9,256.7 607.9,256.7 607.9,256.7 607.9,256.7 607.9,256.7 607.9,256.7 607.9,256.7 607.9,256.7 576.6,255.8 576.5,255.8 559.8,257.0 559.8,257.0 559.8,257.0 559.8,257.1 559.8,257.1 559.8,257.1 559.8,257.1 559.8,257.1 559.8,257.1 559.8,257.1 559.8,257.1 559.8,257.1 559.8,257.1 559.8,257.1 559.8,257.1 559.8,257.1 559.8,257.1 559.8,257.1 559.8,257.1 559.8,257.1 559.8,257.1 559.8,257.1 559.8,257.1 559.8,257.1 559.8,257.1 559.8,257.1 559.8,257.1 557.7,257.1ZM653.6,228.2 653.6,228.2 685.4,228.2 685.4,228.2 685.4,228.2 685.4,206.2 685.4,205.8 685.4,205.8 685.4,205.8 685.0,205.8 685.0,205.8 685.0,205.8 680.2,206.7 680.1,206.7 674.8,208.5 674.8,208.5 674.8,208.5 674.8,208.5 674.8,208.5 674.8,208.5 674.8,208.5 667.6,206.7 667.6,206.7 667.6,206.7 660.5,207.2 660.5,207.2 653.6,208.5 653.6,208.5 653.5,208.5 653.5,228.2ZM610.8,274.9 610.8,274.9 611.2,276.2 611.2,276.2 613.8,283.3 613.9,283.3 617.4,290.5 617.5,290.7 620.1,295.9 620.1,295.9 620.1,295.9 621.9,298.0 621.9,298.0 621.9,298.0 621.9,298.0 621.9,298.0 621.9,298.0 621.9,298.0 621.9,298.0 621.9,298.0 621.9,298.0 621.9,298.0 621.9,298.0 621.9,298.0 621.9,298.0 621.9,298.0 621.9,298.0 621.9,298.0 621.9,298.0 621.9,298.0 621.9,298.0 621.9,298.0 621.9,298.0 621.9,298.0 614.9,298.8 614.9,298.8 614.9,298.8 615.1,298.9 615.1,298.9 617.2,299.9 617.2,299.9 617.2,299.9 626.7,298.6 626.7,298.6 626.7,298.6 626.7,298.6 626.7,298.6 626.7,298.6 626.7,298.6 626.7,298.6 626.7,298.6 626.7,298.6 626.7,298.6 632.8,305.7 632.8,305.7 632.8,305.7 634.2,305.7 634.2,305.7 634.2,305.7 634.8,303.8 634.8,303.8 634.8,303.8 634.8,303.8 634.8,303.8 634.8,303.8 634.8,303.8 634.8,303.8 634.8,303.8 634.8,303.8 634.8,303.8 634.8,303.8 634.8,303.8 634.8,303.8 634.8,303.8 634.8,303.8 634.8,303.8 634.8,303.8 634.8,303.8 634.8,303.8 635.4,304.2 635.4,304.2 635.4,304.2 640.8,302.5 640.8,302.4 640.8,302.4 639.0,298.9 639.0,298.9 636.3,290.8 636.3,290.8 636.3,290.8 636.3,290.8 636.3,290.8 636.8,285.8 636.8,285.8 636.8,285.8 634.5,283.7 634.5,283.7 634.5,283.7 634.5,283.7 634.5,283.7 634.5,283.7 634.5,283.7 634.5,283.7 634.5,283.7 634.5,283.7 634.5,283.7 634.5,283.7 634.5,283.7 634.5,283.7 634.5,283.7 634.5,283.7 634.5,283.7 634.5,283.7 634.5,283.7 634.5,283.7 634.5,283.7 634.5,283.7 634.5,283.7 634.5,283.7 634.5,283.6 640.5,283.6 640.5,283.6 640.5,283.6 640.5,283.6 640.5,283.6 640.5,283.6 636.5,279.2 636.5,279.2 636.5,279.2 634.5,279.2 634.5,279.2 634.5,279.2 634.5,279.2 634.5,279.2 634.5,279.2 634.5,279.2 634.5,279.2 634.5,279.2 634.5,279.2 634.5,279.2 634.5,279.2 634.5,279.2 634.5,279.2 634.5,279.2 634.5,279.2 634.5,279.2 634.5,267.6 634.5,267.6 634.5,267.6 611.8,268.1 611.8,268.1 611.8,268.1 612.0,273.3 612.0,273.3 612.0,273.3 612.0,273.3 612.0,273.3 612.0,273.3 612.0,273.3 612.0,273.3 610.8,274.9ZM634.5,283.7 634.5,283.7 636.8,285.8 636.8,285.8 636.8,285.8 636.8,285.8 636.8,285.8 636.8,285.8 636.8,285.8 636.8,285.8 636.8,285.8 636.8,285.8 636.3,290.8 636.3,290.8 636.3,290.8 639.0,298.9 639.0,298.9 640.8,302.4 640.8,302.4 640.8,302.5 649.7,305.1 649.7,305.1 656.9,306.9 656.9,306.9 664.0,309.6 664.0,309.6 664.0,309.6 664.0,309.6 670.3,314.1 670.3,314.1 670.3,314.1 671.2,306.9 671.2,306.9 671.2,306.9 670.3,299.8 670.3,299.8 670.3,299.8 667.6,293.5 667.6,293.5 663.1,283.7 663.1,283.7 663.1,283.6 663.1,283.6 663.1,283.6 663.1,283.6 663.1,283.6 663.1,283.6 663.1,283.6 663.1,283.6 663.1,283.6 663.1,283.6 663.1,283.6 663.1,283.6 663.1,283.6 663.1,283.6 663.1,283.6 662.6,281.8 662.6,281.8 662.6,281.8 659.8,279.7 659.8,279.7 659.8,279.7 640.5,283.6 640.5,283.6 640.5,283.6 640.5,283.6 640.5,283.6 640.5,283.6 640.5,283.6 640.5,283.6 640.5,283.6 640.5,283.6 640.5,283.6 640.5,283.6 640.5,283.6 640.5,283.6 640.5,283.6 640.5,283.6 640.5,283.6 634.5,283.6ZM684.6,322.1 684.6,322.1 693.6,321.3 693.6,321.2 710.0,320.0 710.0,320.0 710.0,320.0 706.3,315.4 706.3,315.4 706.3,315.4 706.3,315.4 706.3,315.4 706.3,315.4 706.3,315.4 706.3,315.4 706.3,315.4 706.3,315.4 707.7,309.8 707.7,309.8 707.7,309.8 702.1,302.8 702.1,302.8 696.5,297.2 696.5,297.2 696.5,297.2 696.5,297.2 696.5,297.2 696.5,297.2 696.5,297.2 696.5,297.2 696.5,297.2 696.5,297.2 696.5,297.2 696.5,297.2 697.7,293.5 697.7,293.5 697.7,293.5 697.2,293.5 697.2,293.5 697.2,293.5 692.7,297.1 692.7,297.1 692.7,297.1 692.7,297.1 692.7,297.1 692.7,297.1 692.7,297.1 692.6,297.1 692.6,297.1 692.6,297.1 692.6,297.1 692.5,297.1 692.5,297.1 692.5,297.1 692.5,297.1 692.5,297.1 688.2,298.9 688.2,298.9 688.2,298.9 685.5,308.7 685.5,308.7 685.5,308.7 684.6,322.1ZM653.3,328.4 653.3,328.4 657.8,355.3 657.8,355.3 657.8,355.3 674.4,354.7 674.4,354.7 674.4,354.7 674.4,354.7 674.4,354.7 674.4,354.7 674.4,354.7 674.4,354.7 674.4,354.7 674.4,354.7 674.4,354.7 674.4,354.7 674.4,354.7 674.4,354.7 674.5,354.7 674.5,354.9 674.5,354.9 674.5,354.9 679.7,354.5 682.4,354.3 682.4,354.3 682.4,354.3 682.4,354.3 682.4,354.3 682.4,354.3 682.4,354.3 682.4,354.3 682.4,354.3 682.4,354.3 682.4,354.3 682.4,354.3 682.4,354.3 682.4,354.3 682.4,354.3 682.4,354.3 682.4,354.3 682.4,354.4 682.4,354.4 682.4,354.4 683.7,354.4 683.7,354.4 683.7,354.4 684.6,348.1 684.6,348.1 684.6,348.1 678.4,340.9 678.4,340.9 678.4,340.9 678.4,340.9 678.4,340.9 675.7,333.8 675.7,333.8 675.7,333.8 671.2,325.7 671.2,325.7 671.2,325.7 664.0,327.5 664.0,327.5 664.0,327.5 664.0,327.5 664.0,327.5 664.0,327.5 655.1,325.7 655.1,325.7 655.1,325.7 653.3,328.4ZM671.2,325.7 671.2,325.7 675.7,333.8 675.7,333.8 675.7,333.8 678.4,340.9 678.4,340.9 678.4,340.9 684.6,348.1 684.6,348.1 684.6,348.1 684.6,348.1 684.6,348.1 684.6,348.1 684.6,348.1 684.6,348.1 684.6,348.1 684.6,348.1 683.7,354.4 683.7,354.4 683.7,354.4 683.7,354.4 683.7,354.4 683.7,354.4 683.7,354.4 683.7,354.4 683.7,354.4 683.7,354.4 683.7,354.4 683.7,354.4 683.7,354.4 683.7,354.4 683.7,354.4 682.4,354.4 682.4,354.4 682.4,354.4 682.8,362.0 683.2,369.6 683.3,370.8 683.3,370.8 683.3,370.8 685.2,370.7 685.2,370.7 685.2,370.7 687.4,369.6 687.4,369.6 687.4,369.6 687.4,369.6 687.4,369.6 687.4,369.6 693.6,369.6 693.6,369.6 693.6,369.6 694.5,333.8 694.5,333.8 693.6,321.3 693.6,321.3 693.6,321.3 684.6,322.1 684.6,322.1 680.2,323.0 680.1,323.0 671.2,325.7ZM693.6,369.6 693.6,369.6 700.1,369.6 700.1,369.6 700.1,369.6 700.1,369.6 700.1,369.6 700.1,369.6 701.2,370.2 701.2,370.2 701.2,370.2 703.3,370.1 703.3,370.1 703.3,370.1 703.3,369.9 703.3,369.9 703.3,369.9 703.2,369.6 701.5,364.7 701.5,364.7 701.5,364.7 701.5,364.7 701.5,364.7 701.5,364.7 701.5,364.7 701.5,364.7 701.5,364.7 704.1,359.5 704.1,359.5 704.1,359.5 703.3,354.3 703.3,354.3 703.3,354.3 703.3,354.3 703.3,354.3 703.3,354.3 703.3,354.3 705.9,349.1 705.9,349.1 709.3,343.9 709.3,343.9 709.3,343.9 711.1,338.7 711.1,338.7 713.3,332.2 713.3,332.2 713.3,332.2 711.9,322.4 711.9,322.4 711.9,322.4 710.0,320.0 710.0,320.0 710.0,320.0 693.6,321.2 693.6,321.3 693.6,321.3 694.5,333.8 694.5,333.8 693.6,369.6ZM568.8,332.1 568.8,332.1 569.4,333.7 569.4,333.7 569.4,333.7 571.7,336.8 571.7,336.8 571.7,336.8 571.7,336.8 571.7,336.8 572.1,338.0 572.1,338.0 572.1,338.0 572.6,337.9 572.6,337.9 572.6,337.9 572.6,337.9 572.6,337.9 572.6,337.9 572.6,337.9 572.6,337.9 572.6,337.9 572.6,337.9 572.6,337.9 572.7,338.0 572.7,338.0 572.7,338.0 580.8,337.1 580.8,337.1 588.9,336.3 588.9,336.3 588.9,336.3 588.9,336.3 588.9,336.3 588.9,336.3 588.9,336.3 588.9,336.3 588.9,336.3 588.9,336.3 588.9,336.3 588.9,336.3 588.9,336.3 588.9,336.3 588.9,336.3 588.9,336.3 588.9,336.3 589.5,343.9 589.5,343.9 589.5,343.9 589.6,343.9 589.6,343.9 589.6,343.9 590.4,342.4 590.4,342.4 590.4,342.4 590.0,336.2 590.0,336.2 590.0,336.2 590.0,336.2 590.0,336.2 590.0,336.2 590.0,336.2 590.0,336.2 590.0,336.2 590.0,336.2 590.0,336.2 590.0,336.2 590.0,336.2 590.0,336.2 601.6,332.1 601.6,332.1 601.6,332.1 598.9,328.5 598.9,328.5 598.9,328.5 598.9,328.5 598.9,328.5 598.9,328.5 598.9,328.5 598.9,328.5 598.9,324.9 598.9,324.9 598.9,324.9 593.6,324.0 593.6,324.0 593.6,324.0 583.7,324.9 583.7,324.9 583.7,324.9 569.4,328.5 569.4,328.5 569.4,328.5 569.4,328.5 569.4,328.5 569.4,328.5 569.4,328.5 569.4,328.5 569.4,328.5 569.4,328.5 569.4,328.5 569.4,328.5 569.4,328.5 569.4,328.5 569.4,328.5 569.1,327.7 569.1,327.7 569.1,327.7 568.8,332.1ZM511.6,341.0 511.6,341.0 518.8,357.1 518.8,357.1 518.8,357.1 531.1,353.6 531.1,353.6 531.1,353.6 531.1,353.5 531.1,353.5 531.1,353.5 531.1,353.5 531.1,353.5 531.1,353.5 531.1,353.5 531.1,353.5 531.1,353.5 531.1,353.5 531.1,353.5 531.1,353.5 531.1,353.5 531.1,353.5 531.1,353.5 531.1,353.5 531.1,353.5 531.1,353.5 531.1,353.5 531.1,353.5 548.7,345.3 548.7,345.3 548.7,345.3 547.1,342.0 547.1,342.0 545.4,338.7 545.4,338.7 545.4,338.6 539.3,330.9 539.3,330.9 539.3,330.9 539.3,330.9 539.1,330.1 539.1,330.1 536.7,324.9 536.7,324.9 536.7,324.9 529.3,328.4 529.3,328.4 529.3,328.4 529.3,328.4 529.3,328.4 529.3,328.4 525.0,328.1 525.0,328.1 525.0,328.1 523.0,329.0 523.0,329.0 523.0,329.0 523.0,329.0 523.0,329.0 523.0,329.0 523.0,329.0 523.0,329.0 523.0,329.0 523.0,329.0 523.0,329.0 523.0,329.0 523.0,329.0 523.0,329.0 523.0,329.0 522.2,328.0 522.2,328.0 522.2,328.0 520.0,327.8 520.0,327.8 519.6,327.8 519.6,327.8 519.6,327.8 521.5,332.1 521.5,332.1 521.5,332.1 521.5,332.1 521.5,332.1 521.5,332.1 521.5,332.1 521.5,332.1 521.5,332.1 521.5,332.1 521.5,332.1 521.5,332.1 521.5,332.1 521.5,332.1 511.6,341.0ZM478.7,389.2 478.7,389.2 483.1,393.7 483.1,393.7 493.0,402.7 493.0,402.7 493.0,402.7 510.0,394.6 510.0,394.6 510.0,394.6 492.1,380.3 492.1,380.3 492.1,380.3 488.5,379.8 488.5,379.8 488.5,379.8 478.7,389.2ZM514.1,415.4 514.1,415.4 516.8,418.1 516.8,418.1 516.8,418.1 520.8,423.8 526.0,431.0 526.0,431.0 526.0,431.0 530.2,431.6 530.2,431.6 530.2,431.6 530.2,431.6 530.2,431.6 530.2,431.6 530.2,431.6 530.2,431.6 531.1,432.4 531.1,432.4 531.1,432.4 548.3,419.5 548.3,419.5 548.3,419.5 548.5,418.8 548.5,418.8 548.5,418.8 546.2,415.9 546.2,415.9 541.8,411.0 541.8,411.0 541.8,411.0 541.8,411.0 541.2,409.5 541.2,409.5 541.2,409.5 536.3,403.4 536.3,403.4 536.3,403.4 535.1,403.5 535.1,403.5 535.1,403.5 535.1,403.5 535.1,403.5 535.1,403.5 535.1,403.5 535.1,403.5 535.1,403.5 535.1,403.5 533.8,402.0 533.8,402.0 533.8,402.0 526.1,402.3 526.1,402.3 519.8,402.7 519.8,402.7 519.8,402.7 519.8,402.7 519.8,402.7 519.8,402.7 519.8,402.7 519.8,402.7 519.8,402.7 519.7,402.5 519.7,402.5 519.7,402.5 519.5,402.5 519.5,402.6 519.5,402.6 515.9,404.7 515.9,404.7 515.9,404.7 514.1,415.4ZM452.7,429.5 452.7,429.5 463.4,442.9 463.4,442.9 463.4,442.9 467.9,442.1 467.9,442.1 467.9,442.1 488.5,424.2 488.5,424.1 488.5,424.1 482.2,416.1 482.2,416.1 482.2,416.1 467.0,416.1 467.0,416.1 467.0,416.1 467.0,416.1 467.0,416.1 467.0,416.1 467.0,416.1 467.0,416.1 467.0,416.1 467.0,416.1 465.6,414.2 465.6,414.2 465.6,414.2 465.1,414.2 465.1,414.2 465.1,414.2 459.7,420.4 454.1,426.9 454.1,426.9 454.1,426.9 454.3,427.6 454.3,427.6 454.3,427.6 454.5,427.9 454.5,427.9 454.5,427.9 454.5,427.9 454.5,427.9 454.5,427.9 454.5,427.9 454.5,427.9 454.5,427.9 454.5,427.9 454.5,427.9 454.5,427.9 454.5,427.9 454.5,427.9 452.7,429.5ZM386.6,403.0 386.6,403.1 389.9,403.1 389.9,403.1 389.9,403.1 389.9,403.1 389.9,403.1 389.9,403.1 389.9,403.1 389.9,403.1 389.9,403.1 389.9,403.1 389.9,403.1 389.9,403.2 389.9,403.2 389.9,403.2 397.0,403.2 397.0,403.2 397.0,403.2 397.0,403.2 397.0,403.2 397.0,403.2 397.0,403.2 397.0,403.2 397.0,403.2 397.0,403.2 397.0,403.2 397.0,403.2 397.0,403.2 397.0,403.2 397.0,403.2 397.0,403.2 397.0,403.2 397.0,412.4 397.0,412.4 397.0,412.4 397.3,412.3 397.3,412.3 397.3,412.3 397.3,403.0 397.3,403.0 397.3,403.0 397.3,403.0 397.3,403.0 397.3,403.0 397.3,403.0 397.3,403.0 397.3,403.0 397.3,403.0 397.3,403.0 397.3,403.0 397.3,403.0 397.3,403.0 397.3,403.0 397.3,403.0 397.3,403.0 428.9,403.0 428.9,403.0 428.9,403.0 428.7,400.7 428.7,400.7 428.7,400.7 428.7,400.7 428.7,400.7 429.6,397.7 429.6,397.7 429.6,397.7 423.7,394.1 423.7,394.1 423.7,394.1 410.8,388.7 410.8,388.7 410.8,388.7 386.6,388.7 386.6,388.7 386.6,388.7 386.6,403.0ZM483.7,454.0 483.7,454.0 491.8,458.9 491.8,458.9 491.8,458.9 491.8,458.9 497.1,465.1 497.1,465.1 497.1,465.1 506.1,468.7 506.1,468.7 506.1,468.7 517.7,461.6 517.7,461.5 517.7,461.5 516.8,447.2 516.8,447.2 516.8,447.2 512.7,442.2 512.7,442.2 512.7,442.2 504.3,441.0 504.3,441.0 504.3,441.0 495.4,447.2 495.3,447.2 483.7,454.0ZM468.5,455.3 468.5,455.3 474.8,466.9 474.8,466.9 481.9,481.6 481.9,481.6 481.9,481.6 483.7,482.1 483.7,482.1 483.7,482.1 497.1,481.3 497.1,481.2 497.1,481.2 506.1,468.7 506.1,468.7 506.1,468.7 497.1,465.1 497.1,465.1 497.1,465.1 497.1,465.1 497.1,465.1 497.1,465.1 491.8,458.9 491.8,458.9 491.8,458.9 483.7,454.0 483.7,454.0 483.7,454.0 476.9,453.0 476.9,453.0 476.9,453.0 468.5,455.3ZM497.1,481.2 497.1,481.2 501.6,481.2 501.6,481.3 501.6,481.3 508.8,483.0 508.8,483.0 508.8,483.0 508.8,483.0 508.8,483.0 508.8,483.0 514.1,487.5 514.2,487.5 514.2,487.5 517.7,485.7 517.7,485.7 517.7,485.7 524.9,480.4 524.9,480.3 524.9,480.3 519.6,475.9 519.6,475.9 519.6,475.9 519.6,475.9 519.6,475.9 519.6,475.9 519.6,475.9 519.6,475.9 519.6,475.9 519.6,475.9 519.6,475.9 519.6,475.9 519.6,475.9 519.6,475.9 519.6,475.9 519.6,475.9 519.6,475.9 519.6,475.9 519.6,475.9 519.6,475.9 519.6,475.9 519.6,475.9 519.6,475.9 519.6,475.9 519.6,475.9 519.6,475.9 519.6,475.9 519.6,475.9 527.6,477.7 527.6,477.7 527.6,477.7 535.6,475.0 535.6,475.0 535.6,475.0 537.4,468.7 537.4,468.7 537.4,468.7 532.1,458.0 532.1,458.0 532.1,458.0 517.7,461.5 517.7,461.6 517.7,461.6 506.1,468.7 506.1,468.7 506.1,468.7 497.1,481.2ZM514.2,487.5 514.2,487.5 517.7,497.4 517.7,497.4 517.7,497.4 519.5,492.0 519.5,492.0 519.5,492.0 519.5,492.0 519.5,492.0 519.5,492.0 519.5,492.0 519.5,492.0 519.5,492.0 519.5,492.0 519.5,492.0 519.5,492.0 519.5,492.0 519.5,492.0 519.5,492.0 519.5,492.0 519.5,492.0 519.5,492.0 519.5,492.0 519.5,492.0 522.2,493.8 522.2,493.8 528.9,499.7 528.9,499.7 528.9,499.7 530.1,497.9 530.1,497.9 535.7,490.2 536.0,489.7 536.4,489.1 536.4,489.1 536.4,489.1 536.4,489.1 537.2,488.5 537.2,488.5 537.2,488.5 537.1,487.3 537.1,487.3 537.1,487.3 537.1,487.3 537.1,487.3 537.1,487.3 537.1,487.3 537.4,486.6 537.4,486.6 537.4,486.6 535.6,475.0 535.6,475.0 535.6,475.0 527.6,477.7 527.6,477.7 527.6,477.7 527.6,477.7 527.6,477.7 527.6,477.7 527.6,477.7 519.5,475.9 519.5,475.9 519.5,475.9 524.9,480.3 524.9,480.3 524.9,480.3 524.9,480.3 524.9,480.3 524.9,480.3 524.9,480.3 524.9,480.3 524.9,480.3 524.9,480.3 524.9,480.4 524.9,480.4 524.9,480.4 524.9,480.4 524.9,480.4 524.9,480.4 524.9,480.4 524.9,480.4 524.9,480.4 517.7,485.7 517.7,485.7 517.7,485.7 514.2,487.5ZM459.5,486.6 459.5,486.6 459.5,530.1 459.5,530.1 459.5,530.1 469.4,530.1 469.4,530.1 469.4,530.1 469.4,512.6 469.4,512.6 469.4,512.6 469.4,512.6 469.4,512.6 469.4,512.6 469.4,512.6 469.4,512.6 469.4,512.6 469.4,512.6 469.4,512.6 469.4,512.6 469.4,512.6 469.4,512.6 469.4,512.6 469.4,512.6 478.3,511.7 478.3,511.7 478.3,511.7 477.5,494.7 477.5,494.7 477.5,494.7 477.5,494.7 477.5,494.7 477.5,494.7 477.5,494.7 477.5,494.7 477.5,494.7 477.5,494.7 477.5,494.7 477.5,494.7 477.5,494.7 483.7,492.0 483.7,492.0 483.7,492.0 482.8,488.4 482.8,488.4 482.8,488.4 480.1,483.9 480.1,483.9 480.1,483.9 479.2,486.3 479.2,486.3 479.2,486.3 479.2,486.3 479.2,486.3 479.2,486.3 479.2,486.3 479.2,486.3 479.2,486.3 479.2,486.3 479.2,486.3 479.2,486.3 479.2,486.3 459.5,486.6ZM469.4,529.6 469.4,529.6 475.7,529.6 475.7,529.6 475.7,529.6 475.7,529.6 475.7,529.6 475.7,529.6 475.7,529.6 475.7,529.6 475.7,529.6 475.7,529.6 475.7,529.6 476.4,530.7 476.4,530.7 476.4,530.7 512.5,529.9 512.5,529.9 512.5,529.9 512.6,529.6 512.8,528.7 512.8,528.7 516.6,518.7 516.6,518.7 516.6,518.7 516.6,518.7 519.1,515.2 519.1,515.2 519.1,515.2 508.8,512.6 508.8,512.6 508.8,512.6 483.7,514.4 483.7,514.4 483.7,514.4 483.7,514.4 483.7,514.4 483.7,514.4 478.3,511.7 478.3,511.7 478.3,511.7 469.4,512.6 469.4,512.6 469.4,512.6 469.4,529.6ZM418.3,529.3 418.3,529.3 418.4,529.5 418.4,529.5 418.4,529.5 420.6,529.5 420.6,529.5 420.6,529.5 420.6,529.5 420.6,529.5 420.6,529.5 420.6,529.5 420.6,529.5 420.6,529.5 420.6,529.5 420.6,529.5 420.6,529.5 420.6,529.5 420.6,529.5 420.6,529.5 420.6,529.5 420.6,529.5 420.6,555.1 420.6,555.1 420.6,555.1 450.7,554.6 450.7,554.6 450.7,554.6 450.7,543.3 450.7,543.3 450.7,543.3 447.5,540.3 447.5,540.3 447.5,540.3 447.5,540.3 447.5,540.3 447.4,540.3 447.4,540.3 447.4,540.3 445.7,530.1 445.7,530.1 445.7,530.1 442.1,525.1 442.1,525.1 442.1,525.1 430.4,525.1 430.4,525.1 430.4,525.1 430.4,525.1 430.4,525.1 430.4,525.1 430.4,525.1 430.4,525.1 430.4,525.1 430.4,525.1 430.4,525.1 430.4,525.1 430.4,525.1 430.4,525.1 430.4,525.1 430.4,525.1 430.4,525.1 430.4,517.1 430.4,517.1 430.4,517.1 429.8,516.8 429.8,516.8 429.8,516.8 429.8,529.0 429.7,529.0 429.7,529.0 429.7,529.0 429.7,529.0 429.7,529.0 429.7,529.0 429.7,529.0 429.7,529.0 429.7,529.0 429.7,529.0 429.7,529.0 429.7,529.0 429.7,529.0 429.7,529.0 429.7,529.0 429.7,529.0 418.3,529.3ZM442.1,584.9 442.1,584.9 442.6,585.1 450.1,587.6 450.1,587.6 450.1,587.6 450.1,587.6 457.7,592.6 457.7,592.6 457.7,592.6 467.7,595.1 467.7,595.1 467.7,595.1 480.2,595.1 480.2,595.1 480.2,595.1 480.5,595.2 480.6,595.2 480.6,595.2 480.6,595.2 480.6,578.8 480.6,578.8 480.2,574.3 480.2,574.3 480.2,574.3 474.3,572.5 474.3,572.5 474.3,572.5 474.3,572.5 474.3,572.5 474.3,572.5 474.3,572.5 474.3,572.5 474.3,572.5 474.3,572.5 474.3,572.5 474.3,572.5 474.3,572.5 474.3,572.5 474.3,564.8 474.3,564.8 474.3,564.8 474.3,564.8 474.3,564.8 474.3,564.8 474.3,564.8 474.3,564.8 474.3,564.8 474.3,564.8 474.3,564.8 474.3,564.8 474.3,564.8 474.3,564.8 474.3,564.8 474.3,564.8 474.3,564.8 478.5,564.8 478.5,564.8 478.5,564.8 478.4,564.4 478.4,564.4 478.4,564.4 474.3,564.5 474.3,564.5 474.3,564.5 474.3,564.5 474.3,564.5 474.3,564.5 474.3,564.5 474.3,564.5 474.3,564.5 474.3,564.5 474.3,564.5 474.3,564.5 474.3,564.5 474.3,564.5 474.3,564.5 474.3,564.5 474.3,564.4 474.3,560.2 474.3,560.2 474.3,560.2 474.1,560.2 474.1,560.2 474.1,560.2 474.1,560.2 474.1,560.2 474.1,560.2 474.1,560.2 474.1,560.2 474.1,560.2 474.1,560.2 474.1,560.2 474.1,560.2 474.1,560.2 474.1,560.2 474.1,560.2 474.1,560.2 474.1,560.2 473.8,555.0 473.8,555.0 473.8,555.0 455.5,555.1 455.5,555.2 455.5,555.2 442.1,584.1 442.1,584.2 442.1,584.2 442.1,584.9ZM474.3,564.8 474.3,564.8 474.3,572.5 474.3,572.5 474.3,572.5 480.2,574.3 480.2,574.3 480.2,574.3 480.2,574.3 480.2,574.3 480.2,574.3 480.2,574.3 480.2,574.3 480.2,574.3 480.2,574.3 480.2,574.3 480.2,574.3 480.2,574.3 480.6,578.8 480.6,578.8 480.6,578.8 489.5,579.7 489.5,579.7 496.7,580.6 496.7,580.6 496.7,580.6 503.8,578.8 503.9,578.8 511.0,576.1 511.0,576.1 511.0,576.1 517.3,575.2 517.3,575.2 517.5,575.2 517.5,575.2 517.5,575.2 516.6,571.3 516.6,571.3 513.9,564.3 513.9,564.2 513.9,564.2 513.9,564.2 478.4,564.4 478.4,564.4 478.4,564.4 478.5,564.7 478.5,564.7 478.5,564.8 478.5,564.8 478.5,564.8 478.5,564.8 478.5,564.8 478.5,564.8 478.5,564.8 478.5,564.8 478.5,564.8 478.5,564.8 478.5,564.8 478.5,564.8 478.5,564.8 478.5,564.8 478.5,564.8 478.5,564.8 478.5,564.8 478.5,564.8 474.3,564.8ZM480.6,595.2 480.6,595.2 490.2,597.6 490.2,597.6 490.3,597.6 497.8,601.4 497.8,601.4 505.3,605.7 505.3,605.7 505.3,605.7 510.3,601.4 510.3,601.4 510.3,601.4 510.3,601.4 510.3,601.4 510.3,601.4 521.6,598.4 521.6,598.4 521.6,598.4 521.6,591.4 521.6,591.4 521.6,591.4 519.1,581.3 517.5,575.2 517.5,575.2 517.5,575.2 517.3,575.2 517.3,575.2 511.0,576.1 511.0,576.1 511.0,576.1 503.9,578.8 503.8,578.8 496.7,580.6 496.7,580.6 496.7,580.6 496.7,580.6 496.7,580.6 489.5,579.7 489.5,579.7 480.6,578.8 480.6,578.8 480.6,578.8 480.6,595.2Z"/>
<path class="c5" d="M307.3,104.5 307.3,104.5 307.3,128.0 307.3,128.0 307.3,128.0 336.6,128.0 336.6,128.0 336.6,128.0 336.6,104.5 336.6,104.5 336.6,104.5 307.3,104.5ZM258.4,128.0 258.4,128.0 258.4,151.1 258.4,151.1 258.4,151.1 286.5,151.1 286.5,151.1 286.5,151.1 286.5,128.0 286.5,128.0 286.5,128.0 258.4,128.0ZM286.5,128.0 286.5,128.0 286.5,151.1 286.5,151.1 286.5,151.1 314.6,151.1 314.6,151.1 314.6,151.1 314.6,128.0 314.6,128.0 314.6,128.0 286.5,128.0ZM314.6,128.0 314.6,128.0 314.6,151.1 314.6,151.1 314.6,151.1 343.4,151.1 343.4,151.1 343.4,151.1 343.4,128.0 343.4,128.0 343.4,128.0 314.6,128.0ZM281.5,151.1 281.5,151.1 281.5,177.1 281.5,177.1 281.5,177.1 309.3,177.1 309.3,177.1 309.3,177.1 309.3,151.1 309.3,151.1 309.3,151.1 281.5,151.1ZM309.3,151.1 309.3,151.1 309.3,177.1 309.3,177.1 309.3,177.1 337.4,177.1 337.4,177.1 337.4,177.1 337.4,151.1 337.4,151.1 337.4,151.1 309.3,151.1ZM309.8,177.1 309.8,177.1 309.8,200.7 309.8,200.7 309.8,200.7 337.4,200.7 337.4,200.7 337.4,200.7 337.4,177.1 337.4,177.1 337.4,177.1 309.8,177.1ZM101.5,348.5 101.5,348.5 101.5,349.7 101.5,349.7 101.5,349.7 153.2,359.4 153.2,359.4 155.0,359.8 155.0,359.8 156.4,360.0 156.4,360.0 161.7,361.0 161.7,361.0 161.7,361.0 162.0,360.8 162.0,360.8 162.0,360.8 162.0,360.8 162.0,360.8 162.0,360.8 162.0,360.8 162.0,360.8 162.0,360.8 162.3,360.9 162.3,360.9 162.3,360.9 182.6,350.7 182.6,350.7 182.6,350.7 180.0,349.0 180.0,349.0 180.0,349.0 180.0,349.0 180.0,349.0 180.0,349.0 179.6,348.3 179.6,348.3 179.6,348.3 179.6,348.2 179.6,348.2 179.6,348.2 179.6,348.2 179.6,348.2 179.6,348.2 179.6,348.2 179.6,348.2 179.6,348.2 179.6,348.2 179.6,348.2 179.6,348.2 179.6,348.2 181.0,347.2 181.0,347.2 181.0,347.2 177.9,345.2 177.9,345.2 177.9,345.2 177.9,345.2 177.9,345.2 177.9,345.2 175.0,340.0 175.0,340.0 175.0,340.0 148.9,326.2 148.9,326.2 145.4,323.9 145.4,323.9 145.4,323.9 101.5,348.5ZM361.4,402.7 361.4,402.7 361.4,403.2 361.4,403.2 361.4,403.2 388.8,403.2 388.8,403.2 389.6,403.1 389.6,403.1 389.6,403.1 386.6,403.1 386.6,403.1 386.6,403.0 386.6,403.0 386.6,403.0 386.6,403.0 386.6,403.0 386.6,403.0 386.6,403.0 386.6,403.0 386.6,403.0 386.6,403.0 386.6,403.0 386.6,403.0 386.6,403.0 386.6,403.0 386.6,403.0 386.6,388.7 386.6,388.7 386.6,388.7 385.7,388.4 385.7,388.4 385.6,388.4 385.6,388.4 385.6,388.4 385.6,388.4 385.6,388.4 385.6,388.4 385.6,388.4 385.6,388.4 385.6,388.4 385.6,388.4 385.6,388.4 385.6,388.4 385.5,380.1 385.5,380.1 385.5,380.1 383.1,380.1 383.1,380.1 383.1,380.1 383.1,380.1 383.1,380.1 383.1,380.1 383.1,380.1 383.1,380.1 383.1,380.1 383.1,380.1 383.1,380.1 383.1,380.1 383.1,380.1 383.1,380.1 383.1,380.1 383.1,380.1 383.1,380.1 383.1,378.7 383.1,378.7 383.1,378.7 380.0,378.3 380.0,378.3 380.0,378.3 380.0,378.3 380.0,378.3 380.0,378.3 380.0,378.3 380.0,378.3 380.0,378.3 380.0,378.3 380.0,378.3 380.0,378.3 380.0,378.3 380.0,378.3 380.0,378.3 380.0,378.3 380.0,373.9 380.0,373.9 380.0,373.9 379.9,373.9 379.9,373.9 379.9,373.9 379.9,380.1 379.9,380.1 379.9,380.1 379.9,380.1 379.9,380.1 379.9,380.1 379.9,380.1 379.9,380.1 379.9,380.1 379.9,380.1 379.9,380.1 379.9,380.1 379.9,380.1 379.9,380.1 379.9,380.1 379.9,380.1 379.9,380.1 366.7,380.1 366.7,380.1 366.6,380.1 364.2,402.7 364.2,402.7 364.2,402.7 364.2,402.7 364.1,402.7 364.1,402.7 364.1,402.7 364.1,402.7 364.1,402.7 364.1,402.7 364.1,402.7 364.1,402.7 364.1,402.7 364.1,402.7 364.1,402.7 364.1,402.7 361.4,402.7ZM329.5,433.1 329.5,433.1 330.3,434.0 330.3,434.0 330.3,434.0 330.3,434.0 332.8,440.3 332.8,440.3 332.8,440.3 336.6,446.5 336.6,446.5 340.3,454.1 340.3,454.1 345.0,461.3 345.0,461.3 345.0,461.3 348.8,470.1 348.8,470.1 348.8,470.1 355.0,477.6 355.0,477.6 355.0,477.6 357.9,479.9 357.9,479.9 357.9,479.9 359.1,479.9 359.1,479.9 359.1,479.9 359.1,466.5 359.1,466.5 359.1,466.5 359.1,466.5 359.1,466.5 359.1,466.5 359.6,465.6 359.6,465.6 359.6,465.6 359.6,433.1 359.6,433.1 359.6,433.1 359.1,433.2 359.1,433.2 359.1,433.2 359.1,433.2 359.1,433.2 359.1,433.2 359.1,433.2 359.1,433.2 359.1,433.2 359.1,433.2 359.1,433.2 359.1,433.2 359.1,433.2 359.1,433.2 359.1,433.2 359.1,433.2 359.1,433.2 359.1,433.2 359.1,433.2 359.1,432.3 359.1,432.3 359.1,432.2 330.3,432.2 330.3,432.3 330.3,432.3 329.5,433.1ZM364.2,177.1 364.2,177.1 365.5,177.1 365.5,177.1 365.5,177.1 365.5,177.1 365.5,177.1 365.5,177.1 365.5,177.1 365.5,177.1 365.5,177.1 365.5,177.1 365.5,177.1 365.5,177.1 365.5,177.1 365.5,177.1 365.5,177.1 365.5,177.1 365.5,177.1 365.5,180.5 365.5,180.5 365.5,180.5 365.5,180.6 365.5,180.6 365.5,180.6 365.5,178.2 365.5,178.2 365.5,178.2 365.5,178.2 365.5,178.2 365.5,178.2 365.5,178.2 365.5,178.2 365.5,178.2 365.5,178.2 365.5,178.2 365.5,178.2 365.5,178.2 365.5,178.2 365.5,178.2 365.5,178.2 365.5,178.2 379.6,178.2 379.6,178.2 392.6,179.7 392.6,179.7 392.6,179.7 392.6,178.2 392.6,178.2 392.6,178.2 392.6,178.2 392.6,178.2 392.6,178.2 392.6,178.2 392.6,178.2 392.6,178.2 392.6,178.2 392.6,178.2 392.6,178.2 392.6,178.2 392.6,178.2 392.6,178.2 392.6,178.2 392.6,178.2 393.9,178.2 393.9,178.2 393.9,178.2 393.9,177.2 393.9,177.2 393.9,177.2 392.6,177.2 392.6,177.2 392.6,177.2 392.6,177.2 392.6,177.2 392.6,177.2 392.6,177.2 392.6,177.2 392.6,177.2 392.6,177.2 392.6,177.2 392.6,177.2 392.6,177.2 392.6,177.2 392.6,177.2 392.6,177.2 392.6,177.2 392.6,165.1 392.6,165.1 392.6,165.1 364.5,156.4 364.5,156.4 364.5,156.4 364.5,168.1 364.5,168.1 364.5,168.1 364.2,169.3 364.2,169.3 364.2,169.3 364.2,177.1ZM380.1,271.3 380.1,271.3 380.1,298.9 380.1,298.9 380.1,298.9 386.3,302.7 386.3,302.7 386.3,302.7 395.1,304.7 395.1,304.7 402.6,306.4 402.6,306.4 402.6,306.4 408.1,303.9 408.1,303.9 408.1,303.9 408.1,271.3 408.1,271.3 408.1,271.3 380.1,271.3ZM414.7,332.8 414.7,332.8 449.0,332.8 449.0,332.8 449.0,332.8 449.0,326.5 449.0,326.5 449.0,326.5 445.3,324.0 445.3,324.0 445.3,324.0 445.3,324.0 445.2,324.0 445.2,324.0 445.2,324.0 444.3,321.6 444.3,321.6 444.3,321.6 444.3,321.6 444.0,319.2 444.0,319.2 444.0,319.2 443.1,318.5 443.1,318.5 443.1,318.5 443.1,318.5 443.1,318.5 443.1,318.5 443.1,318.5 442.7,317.7 442.7,317.7 442.7,317.7 439.0,311.5 439.0,311.5 439.0,311.4 432.7,307.7 432.7,307.7 432.7,307.7 422.7,305.7 422.7,305.7 422.7,305.7 422.7,305.7 421.6,305.1 421.6,305.1 421.6,305.1 420.9,305.3 420.9,305.3 420.9,305.3 420.9,305.3 420.9,305.3 420.9,305.3 414.7,303.9 414.7,303.9 414.7,303.9 414.7,332.8ZM359.2,349.3 359.2,349.3 359.3,349.3 359.3,349.3 359.3,349.3 359.3,345.3 359.3,345.3 359.3,345.3 359.3,345.3 359.3,345.3 359.3,345.3 359.3,345.3 359.3,345.3 359.3,345.3 359.3,345.3 359.3,345.3 359.3,345.3 359.3,345.3 359.3,345.3 359.3,345.3 359.3,345.3 359.3,345.3 393.9,345.3 393.9,345.3 393.9,345.3 393.9,332.3 393.9,332.3 393.9,332.2 386.3,332.2 386.3,332.2 386.3,332.2 386.3,332.2 386.3,332.2 386.3,332.2 386.3,332.2 386.3,332.2 386.3,332.2 386.3,332.2 386.3,332.2 386.3,332.2 386.3,332.2 386.3,332.2 386.3,332.2 386.3,332.2 386.3,332.2 386.3,324.0 386.3,324.0 386.3,324.0 359.3,324.0 359.3,324.0 359.3,324.0 359.3,325.5 359.3,325.5 359.3,325.5 359.3,325.5 359.3,325.5 359.3,325.5 359.3,325.5 359.3,325.5 359.3,325.5 359.3,325.5 359.3,325.5 359.3,325.5 359.3,325.5 359.3,325.5 359.3,325.5 359.2,325.5 359.2,325.5 359.2,325.5 359.2,349.3ZM393.9,332.3 393.9,332.3 393.9,355.8 393.9,355.8 393.9,355.8 421.4,355.8 421.4,355.8 421.4,355.8 421.4,332.8 421.4,332.8 421.4,332.8 414.7,332.8 414.7,332.8 414.7,332.8 414.7,332.8 414.7,332.8 414.7,332.8 414.7,332.8 414.7,332.8 414.7,332.8 414.7,332.8 414.7,332.8 414.7,332.8 414.7,332.8 414.7,332.8 414.7,332.8 414.7,332.8 414.7,332.8 414.7,332.3 414.7,332.3 414.7,332.2 393.9,332.2ZM358.8,367.6 358.8,367.6 379.9,367.6 379.9,367.6 379.9,367.6 379.9,367.6 379.9,367.6 379.9,367.6 379.9,367.6 379.9,367.6 379.9,367.6 379.9,367.6 379.9,367.6 379.9,367.6 379.9,367.6 379.9,367.6 379.9,367.6 379.9,367.6 379.9,367.6 379.9,373.9 379.9,373.9 379.9,373.9 380.0,373.9 380.0,373.9 380.0,373.9 380.0,368.0 380.0,368.0 380.0,368.0 380.0,368.0 380.0,368.0 380.0,368.0 380.0,368.0 380.0,368.0 380.0,368.0 380.0,368.0 380.0,368.0 380.0,368.0 380.0,368.0 380.0,368.0 380.0,368.0 380.0,368.0 380.0,368.0 394.1,368.0 394.1,368.0 394.1,368.0 395.8,366.6 395.8,366.6 395.8,366.6 395.8,366.6 395.8,366.6 395.8,366.6 395.8,366.6 395.8,366.6 402.6,366.6 402.6,366.6 402.6,366.6 402.6,355.8 402.6,355.8 402.6,355.8 393.9,355.8 393.9,355.8 393.9,355.8 393.9,355.8 393.9,355.8 393.9,355.8 393.9,355.8 393.9,355.8 393.9,355.8 393.9,355.8 393.9,355.8 393.9,355.8 393.9,355.8 393.9,355.8 393.9,355.8 393.9,355.8 393.9,355.8 393.9,345.3 393.9,345.3 393.9,345.3 359.3,345.3 359.3,345.3 359.3,345.3 359.3,349.3 359.3,349.3 359.3,349.3 359.3,349.3 359.3,349.3 359.3,349.3 359.3,349.3 359.3,349.3 359.3,349.3 359.3,349.3 359.3,349.3 359.3,349.3 359.3,349.3 359.3,349.3 359.3,349.3 359.2,349.3 359.2,349.3 359.2,349.3 359.2,366.6 359.2,366.6 359.2,366.6 359.2,366.6 359.2,366.6 359.2,366.6 359.2,366.6 359.2,366.6 359.2,366.6 359.2,366.6 359.2,366.6 359.2,366.6 359.2,366.6 359.2,366.6 359.2,366.6 359.2,366.6 359.2,366.6 358.8,366.6 358.8,366.6 358.8,366.6 358.8,367.6ZM584.3,200.2 584.3,200.2 587.6,199.8 587.6,199.8 587.6,199.8 587.6,199.8 587.6,199.8 587.6,199.8 587.6,199.8 587.6,199.8 587.6,199.8 587.6,199.8 587.6,199.8 587.6,199.8 587.6,199.8 587.6,199.8 587.6,199.8 587.6,199.8 587.6,199.8 587.6,199.8 587.6,206.5 587.7,206.5 587.7,206.6 587.7,206.6 587.7,206.6 587.7,206.6 587.7,206.6 587.7,206.6 587.7,206.6 587.7,206.6 587.7,206.6 587.7,206.6 587.7,208.0 587.7,208.0 587.7,208.0 590.0,209.2 590.0,209.2 590.0,209.2 591.8,208.0 591.8,208.0 596.2,204.4 596.2,204.4 596.2,204.4 596.3,204.4 596.3,204.4 596.3,204.4 605.2,202.6 614.1,200.8 614.1,200.8 614.1,200.8 607.0,197.6 607.0,197.6 607.0,197.6 599.8,195.8 599.8,195.8 599.8,195.8 591.8,196.3 591.8,196.4 591.8,196.4 588.2,198.5 588.2,198.5 588.2,198.5 588.2,198.5 588.2,198.5 584.8,199.2 584.8,199.2 584.8,199.2 584.3,200.2ZM581.9,229.5 581.9,229.5 584.6,231.6 584.6,231.6 584.6,231.6 589.1,232.5 589.1,232.5 594.5,233.4 594.5,233.4 594.5,233.4 598.9,235.2 598.9,235.2 598.9,235.2 598.9,224.5 598.9,224.5 598.9,224.5 587.7,223.6 587.7,223.6 587.6,223.6 583.7,224.5 583.7,224.5 583.7,224.5 581.9,229.5ZM649.7,228.2 649.7,228.2 650.6,234.5 650.6,234.5 650.6,234.5 653.3,235.7 653.3,235.7 660.5,238.0 660.5,238.0 660.5,238.0 667.6,238.4 667.6,238.4 667.6,238.4 674.8,235.7 674.8,235.7 674.8,235.7 674.8,235.7 674.8,235.7 674.8,235.7 674.8,235.7 674.8,235.7 674.8,235.7 680.1,238.0 680.2,238.0 680.2,238.0 685.3,237.5 685.3,237.5 685.3,237.5 685.4,228.2 685.4,228.2 685.4,228.2 653.6,228.2 653.6,228.2 653.5,228.2 653.5,228.9 653.5,228.9 653.5,228.9 653.5,228.9 653.5,228.9 653.5,228.9 653.5,228.9 653.5,228.9 653.5,228.9 653.5,228.9 653.5,228.9 653.5,228.9 653.5,228.9 653.5,228.9 653.5,228.9 653.5,228.9 653.5,228.9 653.5,228.9 653.5,228.9 653.5,228.9 651.2,228.2 651.2,228.2 651.2,228.2 649.7,228.2ZM610.1,328.5 610.1,328.5 610.3,328.6 610.3,328.6 610.3,328.6 610.6,328.5 610.6,328.5 610.6,328.5 610.6,328.5 610.6,328.5 610.6,328.5 610.6,328.5 610.6,328.5 610.6,328.5 610.6,328.5 610.6,328.5 610.6,328.5 610.6,328.5 610.6,328.5 610.6,328.5 610.6,328.5 610.6,328.5 610.7,328.8 610.7,328.8 610.7,328.8 610.9,328.9 610.9,328.9 610.9,328.9 610.9,328.9 610.9,328.9 610.9,328.9 610.9,328.9 610.9,328.9 610.9,328.9 610.9,328.9 611.2,330.2 611.2,330.2 611.2,330.2 613.9,336.5 613.9,336.5 613.9,336.5 616.2,335.0 616.2,335.0 616.2,335.0 616.2,335.0 616.2,335.0 616.2,335.0 616.2,335.0 616.2,335.0 616.2,335.0 616.2,335.0 616.2,335.0 616.2,335.0 616.2,335.0 616.2,335.0 616.5,334.8 616.5,334.8 616.5,334.8 616.5,334.8 616.5,334.8 616.5,334.8 616.5,334.8 620.1,334.8 620.1,334.8 620.1,334.8 620.1,334.8 620.1,334.8 620.1,334.8 620.1,334.8 620.1,334.8 620.1,334.8 620.5,335.2 620.5,335.2 620.5,335.2 622.6,335.2 622.6,335.2 622.6,335.2 622.6,335.2 622.6,335.2 622.6,335.2 622.6,335.2 622.6,335.2 622.6,335.2 622.6,335.2 622.6,335.2 622.6,335.2 623.4,337.0 623.4,337.0 623.4,337.0 639.0,326.6 639.0,326.6 639.0,326.6 642.5,323.0 642.5,323.0 642.5,323.0 641.7,315.9 641.7,315.9 641.7,315.9 634.5,308.7 634.5,308.7 634.5,308.7 634.5,308.7 634.5,308.7 634.5,308.7 634.5,308.7 634.5,308.7 634.5,308.7 634.5,308.7 634.5,308.7 634.6,308.0 634.6,308.0 634.6,308.0 622.2,317.1 622.2,317.1 622.2,317.1 621.1,318.7 621.1,318.7 621.1,318.7 621.1,318.7 610.3,326.6 610.3,326.6 610.3,326.6 610.4,326.9 610.4,326.9 610.4,326.9 610.4,326.9 610.4,326.9 610.1,328.5ZM411.0,565.1 411.0,565.1 411.4,567.8 411.5,567.8 411.5,567.9 416.3,575.1 416.3,575.1 416.3,575.1 425.1,578.8 425.1,578.8 435.1,582.6 435.1,582.6 441.4,584.7 442.1,584.9 442.1,584.9 442.1,584.9 442.1,584.2 442.1,584.2 442.1,584.2 442.1,584.1 442.1,584.1 455.5,555.2 455.5,555.2 455.5,555.2 444.2,555.3 444.2,555.3 444.2,555.3 444.2,555.3 444.2,555.3 444.2,555.3 444.2,555.3 444.2,555.3 444.2,555.3 444.2,555.3 443.7,554.7 443.7,554.7 443.7,554.7 420.6,555.1 420.6,555.2 420.6,555.2 420.6,555.5 420.6,555.5 420.6,555.5 420.6,555.5 420.6,555.5 420.6,555.5 420.6,555.5 420.6,555.5 420.6,555.5 411.0,565.1Z"/>
<path class="ln" d="M43.9,308.3 43.9,275.3M101.5,348.5 101.5,275.3M101.5,349.7 101.5,348.5M101.5,351.8 101.5,349.7M101.5,348.5 145.4,323.9M101.5,349.7 153.2,359.4M145.4,323.9 149.6,276.2M148.9,326.2 145.4,323.9M175.0,340.0 148.9,326.2M149.6,276.2 149.7,275.3M149.6,276.2 151.7,278.3M151.7,278.3 160.0,288.3M153.2,359.4 155.0,359.8M155.0,359.8 156.4,360.0M156.4,360.0 161.7,361.0M160.0,288.3 173.3,296.7M161.4,422.1 161.4,361.3M161.5,361.3 162.3,360.9M161.7,361.0 162.0,360.8M162.0,360.8 162.3,360.9M162.3,360.9 182.6,350.7M173.3,296.7 175.0,296.5M175.0,296.5 176.3,296.8M175.0,297.6 182.5,303.9M176.3,296.8 175.0,297.6M177.9,345.2 175.0,340.0M175.0,340.0 201.3,311.4M180.0,294.4 176.3,296.8M181.0,347.2 177.9,345.2M180.0,349.0 179.6,348.3M179.6,348.2 181.0,347.2M186.2,294.4 180.0,294.4M182.6,350.7 180.0,349.0M182.5,303.9 183.7,304.3M182.6,350.7 218.0,373.4M183.7,304.3 183.8,306.3M183.8,306.3 190.0,308.3M185.8,275.3 185.8,276.0M185.8,276.0 186.2,276.0M186.2,276.0 186.2,294.4M186.2,294.4 215.1,294.4M190.0,308.3 198.4,310.2M198.4,310.2 201.3,311.4M201.3,311.4 205.0,313.9M202.1,270.9 215.1,270.9M202.1,247.3 247.2,247.3M202.2,224.0 226.8,224.0M202.2,200.7 226.3,200.7M202.5,120.4 202.5,128.0M202.5,150.5 202.5,151.1M202.5,176.6 202.5,177.1M202.5,81.4 249.2,81.4M202.5,58.3 249.2,58.3M202.5,104.5 249.2,104.5M202.5,128.0 230.4,128.0M202.5,151.1 225.1,151.1M202.5,177.1 225.1,177.1M205.0,313.9 215.1,315.2M215.1,294.4 215.1,270.9M215.1,270.9 242.6,270.9M215.1,294.4 217.1,294.4M215.1,315.2 217.1,314.7M217.1,294.4 217.1,314.7M217.1,294.4 241.4,294.4M217.1,314.7 221.3,312.7M218.0,373.4 237.8,387.1M218.0,373.4 227.6,379.6M221.3,312.7 227.6,315.2M225.1,177.1 225.1,151.1M225.1,151.1 230.4,151.1M225.1,177.1 226.3,177.1M226.3,200.7 226.3,177.1M226.4,177.1 253.2,177.1M226.4,200.7 226.8,200.7M226.8,224.0 226.8,200.7M226.9,200.7 253.9,200.7M226.9,224.0 247.2,224.0M227.6,379.6 227.6,367.8M227.6,315.2 233.9,320.7M227.6,367.8 238.9,367.8M230.4,151.1 230.4,128.0M230.4,128.0 249.2,128.0M230.4,151.1 253.2,151.1M233.9,320.7 241.4,324.4M237.8,387.1 240.3,388.9M238.9,367.8 238.9,351.5M238.9,351.5 251.4,351.5M241.4,294.4 241.4,324.4M241.4,294.4 242.6,294.4M241.4,324.4 243.7,324.4M241.5,324.5 247.7,326.4M243.7,324.5 241.5,324.4M242.6,294.4 242.6,270.9M242.6,270.9 247.2,270.9M242.6,294.4 270.7,294.4M243.7,324.5 270.0,324.7M247.2,247.3 247.2,224.0M247.2,270.9 247.2,247.3M247.2,224.0 254.7,224.0M247.2,247.3 274.0,247.3M247.2,270.9 270.7,270.9M247.7,326.5 260.2,331.5M249.2,58.3 249.2,34.6M249.2,81.4 249.2,58.3M249.2,104.5 249.2,81.4M249.2,128.0 249.2,104.5M249.2,81.4 278.5,81.4M249.2,104.5 278.5,104.5M249.2,58.3 278.5,58.3M249.2,128.0 258.4,128.0M251.4,351.5 251.4,347.8M251.4,347.8 265.5,348.1M253.2,177.1 253.2,151.1M253.2,151.1 258.4,151.1M253.2,177.1 253.9,177.1M253.9,200.7 253.9,177.1M253.9,177.1 281.5,177.1M253.9,200.7 254.7,200.7M254.7,224.0 254.7,200.7M254.7,200.7 282.0,200.7M254.7,224.0 274.7,224.0M258.4,151.1 258.4,128.0M258.4,128.0 278.5,128.0M258.4,151.1 281.5,151.1M260.2,331.5 267.7,342.7M265.6,348.4 271.6,348.7M267.7,342.7 276.5,350.2M270.0,324.7 296.7,325.0M270.0,324.4 270.7,324.4M270.7,294.4 270.7,270.9M270.7,324.4 270.7,294.4M270.7,270.9 274.0,270.9M270.7,294.4 297.3,294.4M273.9,360.8 271.5,366.5M271.5,366.6 277.4,366.6M271.6,348.7 273.0,349.2M271.9,393.8 271.9,367.6M271.9,367.6 278.0,367.6M272.6,357.6 273.9,360.8M276.0,353.0 272.6,357.5M273.0,349.2 276.1,352.3M276.4,350.2 273.0,349.2M274.0,270.9 274.0,247.3M274.0,247.3 274.7,247.3M274.0,270.9 297.8,270.9M274.7,247.3 274.7,224.0M274.7,224.0 282.2,224.0M274.7,247.3 302.8,247.3M276.2,352.3 276.0,353.0M277.4,366.6 278.0,367.6M278.0,367.6 290.8,367.6M278.5,58.3 278.5,34.6M278.5,81.4 278.5,58.3M278.5,104.5 278.5,81.4M278.5,128.0 278.5,104.5M278.5,58.3 307.3,58.3M278.5,81.4 307.3,81.4M278.5,104.5 307.3,104.5M278.5,128.0 286.5,128.0M281.5,177.1 281.5,151.1M281.5,151.1 286.5,151.1M281.5,177.1 282.0,177.1M282.0,200.7 282.0,177.1M282.0,177.1 309.3,177.1M282.2,224.0 282.2,200.7M282.3,200.7 309.8,200.7M282.3,224.0 302.8,224.0M286.5,151.1 286.5,128.0M286.5,128.0 307.3,128.0M286.5,151.1 309.3,151.1M290.8,367.6 294.9,366.6M294.9,366.6 314.1,366.6M296.7,325.0 296.8,324.4M296.7,325.0 314.1,325.2M296.8,324.4 297.3,324.4M297.3,294.4 297.3,297.8M297.3,301.4 297.3,298.9M297.3,324.4 297.3,301.4M297.3,294.4 297.8,294.4M328.4,301.4 297.3,301.4M297.3,297.8 297.8,298.3M297.3,298.9 297.8,298.9M297.8,294.4 297.8,270.9M297.8,298.3 297.8,298.9M297.8,270.9 302.8,270.9M297.8,298.9 320.9,298.9M302.8,247.3 302.8,224.0M302.8,270.9 302.8,247.3M302.8,224.0 309.8,224.0M302.8,247.3 329.9,247.3M302.8,270.9 320.9,270.9M307.3,58.3 307.3,34.6M307.3,81.4 307.3,58.3M307.3,104.5 307.3,81.4M307.3,128.0 307.3,104.5M307.3,58.3 336.6,58.3M307.3,81.4 336.6,81.4M307.3,104.5 336.6,104.5M307.3,128.0 314.6,128.0M309.3,177.1 309.3,151.1M309.3,151.1 314.6,151.1M309.3,177.1 309.8,177.1M309.8,200.7 309.8,177.1M309.8,224.0 309.8,200.7M309.8,177.1 337.4,177.1M309.8,200.7 337.4,200.7M309.8,224.0 330.4,224.0M314.1,345.2 314.1,325.2M314.1,366.6 314.1,345.3M314.1,325.2 323.7,325.2M314.1,345.2 359.2,345.2M314.1,366.6 316.3,366.6M314.6,151.1 314.6,128.0M314.6,128.0 336.6,128.0M314.6,151.1 337.4,151.1M316.3,366.6 317.2,367.6M317.2,367.6 328.3,367.6M320.9,292.6 320.9,270.9M320.9,298.9 320.9,292.6M320.9,270.9 329.9,270.9M320.9,292.6 352.9,292.6M323.6,425.9 328.3,415.2M323.7,325.2 324.4,324.4M324.4,324.4 328.4,324.4M328.3,367.6 328.3,377.7M328.3,403.8 328.3,377.7M328.3,415.2 328.3,403.8M328.3,377.7 329.0,377.5M328.3,403.8 329.0,403.9M328.4,324.4 328.4,301.4M328.4,324.4 349.8,324.4M329.0,403.9 329.0,403.2M329.1,377.5 329.1,367.6M329.1,403.2 359.1,403.2M329.1,367.6 358.8,367.6M329.6,433.0 330.3,432.3M329.9,270.9 329.9,247.3M329.9,247.3 330.4,247.3M329.9,270.9 352.9,270.9M330.3,432.2 359.1,432.2M330.4,247.3 330.4,224.0M330.4,224.0 337.9,224.0M330.4,247.3 357.4,247.3M336.6,58.3 336.6,34.6M336.6,81.4 336.6,58.3M336.6,104.5 336.6,81.4M336.6,128.0 336.6,104.5M336.7,58.3 365.4,58.3M336.7,81.4 365.3,81.4M336.7,104.5 365.2,104.5M336.7,128.0 343.4,128.0M337.4,177.1 337.4,151.1M337.4,200.7 337.4,177.1M337.4,151.1 343.4,151.1M337.4,177.1 364.2,177.1M337.4,200.7 337.9,200.7M337.9,224.0 337.9,200.7M337.9,200.7 365.5,200.7M337.9,224.0 357.4,224.0M343.4,151.1 343.4,128.0M343.4,128.0 365.2,128.0M343.4,151.1 364.2,151.1M349.8,324.4 352.9,325.2M352.9,325.2 356.6,325.2M352.9,270.9 352.9,274.0M352.9,292.6 352.9,274.0M352.9,295.2 352.9,292.6M353.0,273.9 353.0,271.3M353.0,298.1 353.0,295.3M353.0,271.3 356.0,271.3M359.2,298.1 353.0,298.1M356.0,271.3 356.5,270.9M356.5,270.9 357.4,270.9M356.6,325.2 356.6,324.4M359.2,325.2 356.6,325.2M356.7,324.4 359.2,324.4M357.5,224.0 357.5,227.3M357.5,270.9 357.5,270.0M357.5,270.0 357.5,267.0M357.5,227.3 357.5,224.0M357.5,247.3 357.5,227.3M357.5,267.0 357.5,247.5M357.5,270.0 357.5,271.3M357.5,224.0 362.0,224.0M357.9,247.3 357.5,247.3M357.5,271.3 380.1,271.3M357.9,247.3 358.5,247.3M358.0,479.9 359.1,479.9M358.5,247.4 369.1,247.5M358.8,367.6 358.8,366.6M379.9,367.6 358.8,367.6M358.8,366.6 359.2,366.6M359.1,403.2 359.1,408.8M359.1,432.3 359.1,433.2M359.1,478.9 359.1,466.5M359.1,479.9 359.1,478.9M359.6,413.3 359.1,408.8M359.1,408.8 359.6,408.2M359.1,478.9 359.6,478.9M359.1,466.5 359.6,465.6M359.1,433.2 359.6,433.1M359.2,300.8 359.2,298.1M359.2,324.4 359.2,300.8M359.2,325.5 359.2,325.2M359.2,345.2 359.2,325.5M359.2,349.3 359.2,345.3M359.2,366.6 359.2,349.3M359.3,300.8 359.3,298.9M359.3,325.5 359.3,324.0M359.3,349.3 359.3,345.3M359.3,298.9 380.1,298.9M359.3,324.0 386.3,324.0M359.3,345.3 393.9,345.3M359.6,408.2 359.6,403.2M359.6,431.7 359.6,413.3M359.6,433.1 359.6,431.8M359.6,455.8 359.6,433.1M359.6,465.6 359.6,455.8M359.6,431.8 397.0,431.8M359.6,455.8 397.5,455.8M359.6,403.2 361.4,403.2M359.6,479.1 398.0,479.1M361.4,403.2 361.4,402.7M361.4,403.2 388.8,403.2M361.4,402.7 364.1,402.7M362.0,224.0 366.2,224.0M364.2,402.7 366.6,380.1M364.2,156.1 364.2,151.1M364.2,177.1 364.2,169.3M364.2,151.1 365.5,151.1M365.5,177.1 364.2,177.1M364.2,169.3 364.5,168.1M364.5,156.7 364.2,156.1M364.5,156.7 364.5,156.4M364.5,168.1 364.5,156.7M364.5,156.4 392.6,165.1M365.5,151.1 365.5,137.6M365.5,180.5 365.5,177.1M365.5,200.4 365.5,193.7M365.5,193.7 365.5,191.2M365.5,180.6 365.5,178.2M365.5,191.2 365.5,180.6M365.5,178.2 379.6,178.2M366.2,200.7 365.5,200.7M366.2,201.1 366.2,200.7M366.2,220.6 366.2,201.1M366.2,224.0 366.2,220.6M366.3,201.1 366.3,200.7M366.3,220.6 366.3,224.0M366.3,200.7 393.9,200.7M366.3,224.0 386.3,224.0M366.7,380.1 379.9,380.1M369.1,247.5 385.6,247.5M379.6,178.2 392.6,179.7M379.9,373.9 379.9,367.6M379.9,380.1 379.9,373.9M380.0,373.9 380.0,368.0M380.0,378.3 380.0,373.9M383.1,378.7 380.0,378.3M380.0,368.0 394.1,368.0M380.1,298.9 380.1,271.3M380.1,298.9 386.3,302.7M380.1,271.3 385.6,271.3M383.1,380.1 383.1,378.7M385.5,380.1 383.1,380.1M385.6,388.4 385.5,380.1M385.6,271.3 385.6,247.5M385.6,271.3 408.1,271.3M386.6,388.7 385.7,388.4M385.8,247.3 386.3,247.3M386.3,247.3 386.3,224.0M386.3,247.4 386.3,247.8M386.3,324.0 386.3,303.9M386.3,324.0 386.3,332.2M386.3,224.0 393.9,224.0M386.3,302.7 389.4,303.4M386.3,247.8 413.2,247.8M386.3,303.9 389.2,303.9M386.3,332.2 393.9,332.2M386.6,403.0 386.6,388.7M386.6,388.7 410.8,388.7M389.6,403.1 386.6,403.1M388.8,403.2 389.6,403.1M389.3,303.9 389.4,303.4M389.4,303.4 391.8,303.9M397.0,403.2 389.9,403.2M391.8,303.9 395.1,304.7 395.1,304.7M395.1,304.7 391.8,303.9M392.6,165.1 392.6,146.5M392.6,177.2 392.6,165.1M392.6,179.6 392.6,178.2M393.9,177.2 392.6,177.2M392.6,178.2 393.9,178.2M393.9,178.2 393.9,177.2M393.9,200.2 393.9,178.2M393.9,200.7 393.9,200.2M393.9,223.5 393.9,200.7M393.9,224.0 393.9,223.5M393.9,345.3 393.9,332.3M393.9,345.3 393.9,355.8M393.9,177.2 421.4,177.2M393.9,200.2 421.4,200.2M393.9,223.5 414.7,223.5M393.9,332.2 414.7,332.2M393.9,355.8 402.6,355.8M394.1,368.0 395.8,366.6M395.1,304.7 402.6,306.4M395.7,529.5 396.4,529.7M395.8,366.6 402.6,366.6M396.4,529.7 418.3,529.3M397.0,412.4 397.0,403.2M397.0,430.5 397.0,412.4M397.0,431.7 397.0,430.5M397.3,412.3 397.0,412.4M397.0,430.5 397.3,430.5M397.5,431.8 397.0,431.8M397.3,403.0 397.3,412.3M397.3,430.5 397.3,431.6M428.9,403.0 397.3,403.0M397.3,431.6 429.5,431.6M397.5,455.8 397.5,431.8M398.0,455.8 397.5,455.8M398.0,457.9 398.0,455.8M398.0,478.9 398.0,457.9M398.2,457.9 398.2,455.8M398.2,478.9 398.2,487.6M398.2,455.8 429.5,455.8M398.2,487.6 429.7,487.6M402.6,366.6 402.6,355.8M402.6,366.6 402.6,375.4M402.6,355.8 421.4,355.8M402.6,306.4 408.1,303.9M402.6,375.4 417.3,375.4M408.1,303.9 408.1,271.3M408.2,271.3 410.0,271.3M414.7,303.9 408.2,303.9M410.0,271.3 413.2,271.3M410.0,271.4 424.3,271.4M410.8,388.7 423.7,394.1M411.0,565.1 420.6,555.5M413.2,271.3 413.2,247.9M413.2,247.8 414.7,247.8M414.7,247.8 414.7,223.5M414.7,247.9 414.7,248.8M414.7,332.2 414.7,303.9M414.7,332.3 414.7,332.8M414.7,223.5 421.4,223.5M420.9,305.3 414.7,303.9M414.7,248.8 442.7,248.8M414.7,332.8 421.4,332.8M417.3,375.4 423.7,375.7M418.3,529.3 429.7,529.0M420.6,529.5 418.4,529.5M419.9,303.9 433.3,292.3M422.2,304.4 419.9,303.9M420.6,555.1 420.6,529.5M420.6,555.5 420.6,555.2M420.6,555.1 443.7,554.7M421.6,305.1 420.9,305.3M421.4,177.2 421.4,157.7M421.4,199.7 421.4,177.2M421.4,200.2 421.4,199.7M421.4,223.3 421.4,200.2M421.4,355.8 421.4,332.8M421.4,177.2 450.3,177.2M421.4,199.7 450.8,199.7M421.4,223.3 442.7,223.3M421.4,332.8 449.0,332.8M421.4,355.8 441.5,355.8M421.6,305.1 422.2,304.5M422.7,305.7 421.6,305.1M432.7,307.7 422.7,305.7M423.7,375.7 423.7,394.1M423.7,394.1 429.6,397.7M423.7,375.7 429.8,375.7M424.3,271.4 433.3,292.3M424.3,271.3 444.0,262.2M428.9,403.0 428.7,400.7M428.7,400.7 429.6,397.7M429.5,403.0 428.9,403.0M429.5,415.4 429.5,403.0M429.5,431.6 429.5,423.1M429.5,455.5 429.5,431.6M429.7,416.1 429.5,415.4M429.6,423.1 430.1,423.3M429.6,397.7 435.0,397.1M430.1,422.7 429.7,416.1M429.8,487.6 429.8,455.5M429.8,487.6 429.8,490.0M429.8,516.8 429.8,490.0M429.8,529.0 429.8,516.8M429.8,516.8 430.4,517.1M454.8,455.5 429.8,455.5M429.8,490.0 430.4,489.9M429.8,375.7 430.3,375.4M430.1,423.3 430.4,422.8M430.3,375.4 440.1,375.4M430.4,422.8 452.0,429.4M430.4,489.9 430.4,487.5M430.4,517.1 430.4,525.1M430.4,487.5 452.7,487.5M430.4,525.1 442.1,525.1M439.0,311.4 432.7,307.7M433.3,292.3 436.9,291.4M435.0,397.1 449.8,384.6M449.8,384.6 435.0,397.1M435.0,397.1 450.2,397.7M436.9,291.4 450.3,291.4M442.7,317.7 439.0,311.5M440.1,375.4 440.4,375.7M440.1,375.4 441.5,375.4M440.4,375.7 441.6,375.7M441.5,355.8 441.5,358.8M441.5,375.4 441.5,358.8M441.6,358.7 441.6,356.5M441.6,375.7 449.8,384.6M441.6,356.5 445.7,356.3M442.1,584.9 442.1,584.2M442.1,584.1 455.5,555.2M442.1,525.1 445.7,530.1M442.7,248.8 442.7,223.3M442.7,223.3 450.8,223.3M442.7,248.8 447.5,248.8M443.1,318.5 442.7,317.7M444.0,319.2 443.1,318.5M443.7,554.7 444.2,555.3M443.7,554.7 450.7,554.6M444.0,262.2 447.1,258.3M444.0,262.2 457.4,278.0M445.0,317.8 444.0,316.5M444.0,316.5 458.0,306.6M444.3,321.6 444.0,319.2M444.0,319.2 445.0,317.9M444.2,555.3 455.5,555.2M445.2,324.0 444.3,321.6M449.0,326.5 445.3,324.0M447.4,540.3 445.7,530.1M445.7,530.1 459.5,530.1M445.7,356.3 446.5,355.8M446.5,355.8 450.2,355.8M447.1,258.3 447.5,248.9M450.7,543.3 447.5,540.3M447.5,248.8 469.8,248.8M449.0,332.4 449.0,326.5M449.0,332.8 449.0,332.4M450.2,332.8 449.0,332.8M449.3,332.4 449.3,325.1M449.3,325.1 450.3,327.7M449.8,384.6 456.0,379.4M450.2,397.7 453.8,400.7M450.3,177.2 450.3,171.2M450.3,349.4 450.3,332.8M450.3,355.8 450.3,353.6M450.5,353.5 450.3,349.4M450.8,177.2 450.3,177.2M450.3,171.2 450.8,169.8M450.3,291.4 458.0,306.6M450.3,291.4 463.7,284.2M450.3,327.7 477.1,327.2M450.5,353.5 452.2,354.2M450.7,554.6 450.7,543.3M450.8,169.8 450.8,162.2M450.8,197.2 450.8,177.2M450.8,199.7 450.8,197.9M450.8,221.3 450.8,199.7M450.8,223.3 450.8,221.3M450.8,221.3 456.1,221.3M450.8,197.9 451.3,197.2M451.3,197.2 450.8,197.2M451.3,197.2 474.8,197.2M452.0,429.4 454.1,426.9M452.2,354.2 453.4,354.7M452.7,429.5 463.4,442.9M454.5,427.9 452.7,429.5M452.7,487.5 452.8,487.1M452.7,487.5 459.5,487.5M452.8,487.1 454.8,487.1M453.4,354.7 453.8,356.0M453.8,400.7 454.4,404.0M453.8,356.0 466.3,358.6M454.1,426.9 454.3,427.6M465.1,414.2 454.1,426.9M454.5,404.1 459.5,406.5M454.8,487.1 454.8,455.8M454.8,455.8 456.0,455.8M473.8,555.0 455.5,555.1 455.5,555.1M455.5,555.1 473.8,555.0M456.0,455.8 465.8,448.7M456.0,379.4 459.2,378.9M456.1,221.3 456.9,221.5M456.9,221.5 469.8,221.5M457.2,403.6 459.5,406.5M466.4,397.9 457.2,403.6M457.5,278.0 462.8,278.9M458.0,306.6 463.7,305.2M465.2,363.3 458.1,377.6M458.1,377.6 459.2,378.9M459.2,378.9 463.1,383.1M459.5,406.5 461.4,408.9M459.5,487.5 459.5,486.6M459.5,487.5 459.5,530.1M459.5,486.6 479.2,486.3M459.6,530.1 469.4,530.1M461.4,408.9 462.0,411.0M462.0,411.0 464.8,413.3M463.7,284.2 462.8,278.9M462.8,278.9 472.0,274.8M463.1,383.1 465.8,387.8M463.4,442.9 464.8,442.7M473.6,319.1 463.7,305.2M463.7,305.2 489.7,292.3M464.8,442.7 469.4,447.2M464.8,442.7 467.9,442.1M464.8,413.3 465.3,413.9M465.1,414.2 465.5,414.2M466.2,359.9 465.2,363.3M465.2,363.3 488.5,379.7M465.6,414.2 467.0,416.1M465.8,387.8 466.6,388.7M465.8,448.7 469.4,447.2M466.3,358.7 465.9,359.8M465.9,359.8 466.2,359.9M467.9,354.3 466.2,359.9M467.0,396.9 466.4,397.9M466.6,388.7 471.2,391.8M472.4,392.8 467.0,396.9M467.0,416.1 482.2,416.1M471.5,350.0 467.9,354.3M467.9,442.1 485.6,426.7M474.8,466.9 468.5,455.3M468.5,455.3 476.9,453.0M469.4,529.6 469.4,512.6M469.4,530.1 469.4,529.6M469.4,529.6 475.7,529.6M469.4,447.2 476.9,453.0M469.4,512.6 478.3,511.7M469.8,221.5 469.8,222.3M469.8,244.8 469.8,222.3M469.8,245.7 469.8,244.8M469.8,248.8 469.8,245.7M469.8,222.3 473.1,222.3M469.8,244.8 492.7,244.8M470.0,245.8 470.0,248.4M470.0,248.4 477.1,262.7M471.3,391.7 472.4,392.8M471.4,350.0 472.6,347.9M472.4,349.0 471.5,350.0M478.9,271.7 472.0,274.8M472.0,274.8 472.6,275.1M472.4,392.8 473.3,393.7M476.9,351.6 472.4,349.0M472.6,347.9 481.5,336.3M472.6,275.1 473.6,274.8M473.1,222.3 474.2,221.3M473.3,393.7 478.6,389.2M473.6,319.1 478.0,325.4M478.0,325.4 473.6,319.2 473.6,319.1M489.7,292.3 473.6,274.8M473.6,274.7 478.9,271.7M473.8,555.0 474.1,560.2M474.3,221.3 476.6,221.3M474.3,530.8 474.3,560.2M474.3,560.2 474.3,564.4M474.3,572.5 474.3,564.8M480.2,574.3 474.3,572.5M476.4,530.7 474.3,530.8M474.3,564.8 478.5,564.8M474.3,564.5 478.4,564.4M481.9,481.6 474.8,466.9M474.8,197.2 474.8,171.6M474.8,197.2 474.8,198.0M474.8,198.0 476.6,198.0M475.7,529.6 476.4,530.7M476.4,530.7 512.5,529.9M476.6,198.0 476.6,199.0M476.6,221.3 476.6,199.0M476.6,221.3 476.6,221.8M476.6,199.0 500.4,199.0M476.6,221.8 487.1,221.8M476.9,453.0 483.7,454.0M483.1,358.8 477.0,351.7M477.1,262.8 478.9,271.7M477.1,262.7 485.2,258.3M477.1,327.2 478.0,325.4M477.5,494.7 478.3,511.7M483.7,492.0 477.5,494.7M478.0,325.4 482.1,324.0M478.3,511.7 483.7,514.4M478.5,564.7 478.4,564.4M478.4,564.4 513.8,564.2M478.7,389.2 483.1,393.7M478.7,389.2 488.5,379.8M478.9,271.7 481.6,269.9M479.2,486.3 480.1,483.9M480.1,483.9 482.8,488.4M480.1,483.9 481.9,481.6M480.6,578.8 480.2,574.3M480.6,595.2 480.6,578.8M480.6,578.8 489.5,579.7M481.5,336.3 481.7,333.3M481.6,269.9 492.7,264.5M481.7,333.3 482.1,324.1M481.7,333.3 482.1,334.8M481.9,481.6 483.7,482.1M482.1,324.1 485.1,323.0M482.1,334.8 493.7,337.4M482.2,416.1 488.5,424.1M493.0,402.7 482.2,416.1M482.8,488.4 483.7,492.0M483.1,393.7 493.0,402.7M491.7,356.1 483.2,358.8M483.7,454.0 491.8,458.9M483.7,454.0 495.3,447.2M483.7,492.0 490.9,494.7M483.7,482.1 497.1,481.3M483.7,514.4 508.8,512.6M485.1,323.0 485.4,322.7M485.2,258.3 492.7,259.2M485.4,322.7 507.6,314.7M485.6,426.7 488.2,424.5M488.2,427.5 485.6,426.7M486.9,437.4 488.2,427.5M495.3,447.2 486.9,437.4M487.1,221.8 488.7,222.3M488.5,424.2 488.2,424.4M488.2,424.5 488.9,425.0M488.5,379.7 509.1,360.1M488.5,379.8 492.1,380.3M488.7,222.3 498.4,222.3M488.9,425.0 489.3,424.8M489.3,424.8 494.8,429.5M489.5,579.7 496.7,580.6M489.7,292.3 495.6,297.1M490.9,494.7 498.0,498.3M493.0,355.8 491.8,356.1M491.8,458.9 497.1,465.1M492.1,380.3 510.0,394.6M492.7,259.2 492.7,244.8M492.7,264.5 492.7,259.2M499.5,268.1 492.7,264.5M492.7,244.8 498.4,244.8M493.0,402.7 510.0,394.6M503.7,357.0 493.0,355.8M493.7,337.5 510.7,342.8M494.8,429.5 514.5,416.1M495.4,447.2 504.3,441.0M495.6,297.1 496.1,298.1M496.6,298.3 495.9,297.1M495.9,297.1 502.1,294.0M496.1,298.1 496.6,298.3M499.2,302.6 496.6,298.3M496.7,580.6 503.8,578.8M497.1,481.2 506.1,468.7M497.1,481.2 501.6,481.2M497.1,465.1 506.1,468.7M498.0,498.3 507.0,496.5M498.4,222.3 498.4,222.8M498.4,244.8 498.4,222.8M498.4,244.8 498.4,245.8M498.4,222.8 501.0,222.8M498.4,245.8 522.8,245.8M500.6,307.0 499.2,302.6M500.9,270.7 499.6,268.1M499.6,268.1 503.4,267.0M500.4,199.0 500.4,174.4M500.4,199.0 505.9,199.0M501.8,309.5 500.6,307.0M505.0,275.5 500.9,270.7M501.0,222.8 502.1,221.8M501.6,481.3 508.8,483.0M503.1,312.0 501.8,309.5M501.8,309.5 505.4,311.6M502.1,294.0 502.6,293.4M502.1,221.8 505.9,221.8M502.6,293.4 510.3,289.2M507.6,314.7 503.1,312.0M503.4,267.0 515.8,263.8M505.6,358.1 503.7,357.0M503.9,578.8 511.0,576.1M504.3,441.0 512.7,442.2M505.7,277.7 505.0,275.6M505.4,311.6 507.6,314.6M509.1,360.0 505.6,358.1M509.1,360.0 505.6,358.0M506.7,278.9 505.7,277.7M505.9,199.0 505.9,200.0M505.9,221.8 505.9,200.0M505.9,200.0 529.2,200.0M505.9,221.8 513.9,221.8M506.1,468.7 517.7,461.6M510.3,285.1 506.7,278.9M507.0,496.5 514.1,499.1M507.6,314.6 512.6,314.2M508.8,512.6 519.0,515.1M508.8,483.0 514.1,487.5M513.2,358.8 509.1,360.0M510.3,289.2 509.8,290.0M509.9,290.0 525.7,283.6M510.0,394.6 527.0,379.8M510.0,394.6 519.7,402.5M510.3,289.2 511.2,288.7M511.2,288.7 510.3,285.1M510.7,342.8 511.6,341.0M511.0,576.1 517.3,575.2M511.6,341.0 518.8,357.1M521.5,332.1 511.6,341.0M511.8,360.1 520.7,365.1M513.4,359.4 511.8,360.0M512.6,314.2 515.3,318.1M512.6,314.2 538.1,303.2M512.7,442.2 516.8,447.2M512.7,442.2 526.7,432.0M513.2,358.8 513.4,359.3M518.3,357.3 513.2,358.8M513.9,221.8 516.6,222.8M515.9,404.7 514.1,415.4M514.1,415.4 514.5,415.8M514.2,487.5 517.7,497.4M514.2,487.5 517.7,485.7M514.2,499.1 517.7,497.4M514.5,415.8 516.8,418.1M515.3,318.1 519.6,327.8M515.8,263.8 517.8,262.7M519.5,402.6 515.9,404.7M516.6,222.8 525.0,222.8M516.8,418.1 526.0,431.0M516.8,447.2 517.7,461.5M517.7,461.5 532.1,458.0M517.7,485.7 524.9,480.4M517.7,497.4 519.5,492.0M517.8,262.7 522.3,261.9M518.8,357.1 518.3,357.3M518.8,357.1 531.1,353.6M519.5,492.0 522.2,493.8M524.9,480.3 519.6,475.9M519.6,327.8 521.5,332.1M519.6,327.8 520.0,327.8M519.6,475.9 527.6,477.7M519.8,402.7 526.1,402.3M520.0,327.8 522.2,328.0M520.7,365.1 523.8,372.2M522.2,493.8 528.9,499.7M522.2,328.0 523.0,329.0M522.3,261.9 522.8,261.9M529.9,271.8 522.3,262.2M522.8,261.9 522.8,245.9M522.8,245.8 525.0,245.8M523.0,329.0 525.0,328.1M523.8,372.2 527.0,379.7M527.0,379.7 523.8,372.2 523.8,372.2M525.0,245.8 525.0,222.8M525.0,328.1 529.3,328.4M525.0,222.8 529.5,222.8M525.0,245.8 553.0,245.8M525.7,283.6 531.5,290.1M526.7,432.0 526.0,431.0M526.0,431.0 530.2,431.6M526.1,402.3 533.8,402.0M527.0,379.7 539.5,369.5M527.6,477.7 535.6,475.0M529.2,200.0 529.2,171.5M535.0,200.0 529.2,200.0M529.3,328.4 536.7,324.9M529.5,222.8 530.8,221.8M533.3,272.1 529.9,271.8M530.2,431.6 531.1,432.4M530.8,221.8 535.0,221.8M548.6,345.3 531.1,353.5M531.1,353.6 538.2,361.8M531.1,432.4 548.3,419.5M535.6,433.7 531.1,432.5M538.1,303.2 531.5,290.1M531.5,290.1 541.2,284.9M537.4,468.7 532.1,458.0M532.1,458.0 543.7,453.5M541.2,284.9 533.3,272.1M533.3,272.1 558.2,257.6M533.8,402.0 535.1,403.5M535.0,200.9 535.0,200.0M535.0,218.5 535.0,215.6M535.0,221.8 535.0,218.5M535.0,215.6 535.0,215.2M535.0,215.2 535.0,201.0M535.0,222.7 535.0,218.6M559.5,200.9 535.0,200.9M543.7,222.7 535.0,222.7M536.3,403.4 535.1,401.8M535.1,401.8 549.4,385.7M535.1,403.5 536.3,403.4M537.4,486.6 535.6,475.0M535.6,475.0 537.4,468.7M541.0,443.6 535.6,433.8M536.3,403.4 541.2,409.5M536.7,324.9 538.4,328.6M537.2,488.5 537.1,487.3M537.1,487.3 537.4,486.6M538.5,328.4 537.1,324.3M537.1,324.3 541.8,321.9M538.2,303.2 546.4,316.0M538.2,361.8 540.2,363.5M538.4,328.6 539.1,330.1M539.1,330.1 539.3,330.9M539.3,330.9 545.4,338.6M539.5,369.5 540.4,374.9M539.5,369.5 544.0,366.9M540.2,363.5 544.0,366.9M540.4,374.9 548.5,379.7M543.7,453.5 541.0,443.7M541.2,409.5 541.8,411.0M541.2,284.9 554.7,286.6M541.8,321.9 542.6,320.3M541.8,411.0 546.2,415.9M542.6,320.3 547.8,318.0M543.7,453.5 551.4,452.2M548.6,222.8 543.8,222.8M544.3,366.8 544.8,367.3M544.8,367.3 564.7,362.3M545.4,338.7 547.1,342.0M546.2,415.9 548.5,418.8M546.4,316.0 547.8,318.0M547.0,422.7 564.0,437.9M547.7,422.2 547.0,422.7M547.1,342.0 548.6,345.3M547.1,342.0 548.7,345.3M548.3,419.5 547.7,422.2M563.1,411.9 547.7,422.2M547.8,318.0 561.9,311.5M548.5,418.8 548.3,419.5M548.5,379.8 549.4,385.7M548.5,379.7 573.2,378.0M553.0,222.8 548.6,222.8M548.7,345.3 554.7,344.2M548.7,345.3 553.6,349.1M548.8,222.7 564.6,222.7M549.4,385.7 557.4,389.2M551.4,452.2 563.1,455.2M553.0,228.0 553.0,222.8M553.0,243.1 553.0,228.0M553.0,245.8 553.0,243.1M558.2,243.1 553.0,243.1M553.0,228.0 553.0,231.5M553.1,231.5 564.6,231.5M553.7,349.1 558.1,353.0M567.4,305.5 554.7,286.6M554.7,286.6 577.5,275.6M554.8,344.2 561.4,335.9M556.8,256.2 558.2,243.1M557.7,257.1 556.8,256.2M557.4,389.2 570.3,403.9M558.2,257.6 557.7,257.1M557.7,257.1 557.7,257.1 559.8,257.1M558.1,353.0 561.9,357.4M563.0,260.4 558.2,257.6M559.5,200.9 559.5,182.4M564.6,200.9 559.5,200.9M559.8,257.0 576.5,255.8M561.4,335.9 568.5,331.5M561.9,357.4 564.7,362.3M562.0,311.5 562.1,312.0M562.1,312.0 562.3,312.8M562.1,312.0 562.4,311.3M562.3,312.8 563.7,315.5M562.4,311.3 564.1,310.5M567.1,263.1 563.0,260.4M570.3,403.9 563.1,411.9M563.2,455.2 563.6,455.3M563.6,455.3 563.2,470.8M564.0,437.9 563.6,455.3M563.7,315.5 566.0,320.4M564.0,437.9 587.3,423.6M564.1,310.5 567.2,305.9M564.6,203.0 564.6,200.9M564.6,216.0 564.6,203.0M564.6,222.7 564.6,216.0M564.6,231.5 564.6,228.0M564.6,216.0 565.8,217.6M565.5,202.9 564.6,203.0M564.6,228.0 565.8,228.0M564.7,362.3 569.1,362.9M565.8,203.0 565.5,202.9M565.8,217.6 565.8,228.0M565.8,228.0 565.8,230.2M567.2,202.7 565.8,203.0M565.8,230.2 576.5,229.7M566.0,320.4 566.5,321.5M566.5,321.5 566.7,322.2M566.7,322.2 569.1,327.7M571.3,264.5 567.2,263.1M567.2,305.9 567.4,305.5M567.2,305.9 575.7,303.0M570.4,202.3 567.2,202.7M568.5,331.5 568.8,332.1M569.1,327.7 568.8,332.1M568.8,332.1 569.4,333.7M569.1,327.7 569.4,328.5M569.1,362.9 570.9,362.5M569.4,333.7 571.7,336.8M569.4,328.5 583.7,324.9M578.3,402.6 570.3,403.9M584.3,200.2 570.4,202.3M570.7,344.2 570.4,336.5M570.4,336.5 571.8,338.1M572.4,353.0 570.7,344.2M570.9,362.5 574.5,368.3M570.9,362.5 574.0,361.8M572.7,268.0 571.3,264.5M571.7,336.8 572.1,338.0M571.8,338.1 572.7,338.0M580.8,337.1 571.8,338.1M572.1,371.1 574.2,377.9M572.1,338.0 572.6,337.9M574.7,370.1 572.1,371.1M572.4,353.0 574.0,361.8M574.0,361.8 572.4,353.0 572.4,353.0M572.7,338.0 580.8,337.1M575.4,270.7 572.7,268.0M573.2,378.0 574.2,383.8M574.2,378.0 573.2,378.0M574.2,383.8 573.9,386.9M573.9,386.9 577.4,393.1M574.5,368.3 574.6,370.1M574.7,370.1 589.6,370.1M577.5,275.5 575.4,270.7M575.7,303.0 587.7,299.4M576.5,255.8 576.5,229.7M576.6,229.7 581.9,229.5M576.6,255.8 576.6,255.8 607.9,256.7M577.5,393.1 579.2,398.0M579.0,279.0 577.5,275.6M579.2,398.0 578.3,402.6M578.3,402.6 580.1,410.1M580.2,279.4 578.9,275.8M578.9,275.8 609.4,269.0M580.2,279.4 579.0,279.0M579.2,398.0 589.1,395.8M580.1,410.1 583.7,417.3M581.6,283.3 580.2,279.4M580.8,337.1 588.9,336.3M583.0,284.5 581.6,283.3M581.9,229.5 583.7,224.5M581.9,229.5 584.6,231.6M583.9,287.8 583.0,284.5M583.7,417.3 587.3,423.6M583.7,324.9 593.6,324.0M583.7,224.5 587.6,223.6M587.3,386.9 583.7,376.0M589.6,370.1 583.7,375.9M585.8,290.1 583.9,287.8M584.0,376.0 590.9,378.1M584.3,200.2 584.8,199.2M587.6,199.8 584.3,200.2M584.6,231.6 589.1,232.5M584.8,199.2 588.2,198.5M589.9,294.2 585.8,290.1M589.1,395.8 587.3,386.9M587.3,423.6 591.8,431.6M587.3,423.6 589.1,421.8M587.6,206.5 587.6,199.8M587.6,223.6 587.6,206.6M587.7,223.6 598.9,224.5M587.7,206.6 587.7,208.0M587.7,208.0 590.0,209.2M587.7,299.4 588.5,299.8M587.7,299.4 593.4,297.7M588.2,198.5 588.2,176.2M588.2,198.5 591.8,196.4M588.5,299.8 592.7,298.1M588.9,336.3 589.5,343.9M589.1,232.5 594.5,233.4M589.1,395.8 601.6,400.3M589.1,421.8 598.0,420.9M589.6,343.9 590.4,342.4M589.6,343.9 590.5,345.4M589.6,370.1 590.0,370.1M589.9,294.2 593.4,297.6M593.4,297.6 589.9,294.2 589.9,294.2M590.4,342.4 590.0,336.2M590.0,209.2 591.8,208.0M590.0,336.2 601.6,332.1M590.0,370.1 590.0,369.7M590.0,369.6 590.9,368.8M590.5,345.4 590.9,350.9M590.9,368.8 590.9,350.9M590.9,350.9 601.6,355.9M590.9,378.1 596.3,376.7M591.8,431.6 596.2,438.8M591.8,208.0 596.2,204.4M591.8,196.3 599.8,195.8M592.7,298.1 595.3,302.5M593.6,324.0 593.6,319.5M593.6,324.0 598.9,324.9M593.6,319.5 598.0,309.7M594.5,233.4 598.9,235.2M595.4,302.5 595.5,302.9M598.0,309.7 595.5,302.9M595.5,302.9 601.4,302.1M596.3,438.8 601.6,443.3M596.3,204.4 614.1,200.8M596.4,376.9 600.7,375.8M598.0,420.9 603.4,414.6M598.9,235.2 598.9,224.5M598.9,324.9 598.9,328.5M598.9,235.2 603.4,237.9M598.9,224.5 617.7,224.1M598.9,328.5 601.6,332.1M599.8,195.8 607.0,197.6M600.7,375.8 608.8,374.3M601.4,302.1 608.2,299.5M601.6,443.3 607.6,447.8M601.6,400.3 610.2,405.1M601.6,332.1 607.6,327.7M601.6,355.9 615.6,353.6M603.4,237.9 603.4,242.8M603.4,242.8 606.2,246.8M603.4,414.6 609.7,411.9M606.2,246.8 604.1,238.9M604.1,238.9 610.3,241.6M605.7,251.4 606.5,248.0M607.6,256.0 605.7,251.4M606.5,248.0 606.2,246.8M607.0,197.6 614.1,200.8M607.6,327.7 610.1,328.5M607.9,256.7 607.6,256.1M608.5,256.1 607.7,256.1M608.2,299.5 614.9,298.8M608.6,257.9 608.5,256.1M609.4,259.4 608.6,257.9M608.8,374.3 613.5,377.5M609.4,269.0 610.8,274.9M609.4,268.1 609.4,259.4M611.8,268.1 609.4,268.1 609.4,268.1M609.7,411.9 610.2,405.1M610.4,326.9 610.1,328.5M610.2,405.1 617.7,404.8M610.3,241.6 612.6,242.1M621.1,318.7 610.3,326.6M610.8,274.9 611.2,276.2M610.8,274.9 612.0,273.3M610.9,328.9 611.2,330.2M611.2,276.2 613.8,283.3M611.2,330.2 613.9,336.5M612.0,273.3 611.8,268.1M611.8,268.1 634.5,267.6M612.6,242.1 619.5,244.1M613.7,377.5 614.1,377.7M613.8,336.6 615.6,343.7M616.2,335.0 613.8,336.5M613.9,283.3 617.4,290.5M613.9,336.5 616.2,335.0M614.2,200.8 617.7,201.5M614.2,377.7 619.5,380.4M621.9,298.0 614.9,298.8M615.1,298.9 617.2,299.9M615.6,343.7 615.6,353.6M615.6,353.6 615.7,354.8M615.7,354.8 615.6,356.0M615.8,356.1 615.9,358.9M615.9,358.9 622.8,362.0M616.5,334.8 616.2,335.0M620.1,334.8 616.5,334.8M617.2,299.9 626.7,298.6M617.5,290.7 620.1,295.9M617.7,201.5 617.7,174.2M617.7,224.1 617.7,201.5M617.7,224.1 625.8,224.5M617.7,201.5 627.6,201.7M617.7,404.8 621.3,408.0M619.5,244.2 625.8,245.0M619.5,380.4 624.3,377.1M620.5,335.2 620.1,334.8M620.1,295.9 621.9,298.0M622.6,335.2 620.5,335.2M622.2,317.1 621.1,318.7M621.3,408.0 622.9,411.3M627.3,408.7 621.3,408.0M634.6,308.0 622.2,317.1M622.6,411.6 627.1,436.2M623.4,337.0 622.6,335.2M622.9,411.3 622.6,411.6M622.8,362.0 626.0,364.7M626.0,342.0 623.4,337.0M623.4,337.0 639.0,326.6M627.9,374.5 624.3,377.1M624.4,377.2 628.0,374.7M625.8,224.5 625.8,227.7M625.8,245.0 625.8,227.7M625.8,224.5 627.6,222.7M625.8,227.7 647.3,227.1M625.8,245.1 629.7,245.1M626.0,364.7 627.8,374.3M626.0,364.7 626.8,364.3M626.8,364.4 626.0,364.7M626.7,342.8 626.1,342.2M626.7,298.6 632.8,305.7M631.8,344.5 626.7,342.8M629.8,363.4 626.8,364.4M633.8,404.6 627.3,408.7M627.6,222.7 627.6,202.1M627.6,222.7 633.8,218.2M627.7,202.1 627.6,201.7M627.6,201.7 644.6,202.1M627.8,374.3 627.9,374.5M628.0,374.7 635.6,387.3M629.7,245.1 630.6,245.9M636.3,358.4 629.8,363.4M630.6,245.9 631.4,246.0M631.4,246.0 633.5,245.1M631.4,246.0 631.8,246.1M633.7,349.6 631.8,344.5M631.8,246.1 634.5,248.8M632.8,305.7 634.2,305.7M633.5,245.1 637.4,245.1M637.9,352.5 633.7,349.6M636.1,400.8 633.8,404.6M633.8,404.6 643.4,408.1M633.9,218.2 639.2,218.2M634.2,305.7 634.8,303.8M634.2,305.7 635.0,306.3M634.5,248.8 634.5,255.0M634.5,267.6 634.5,255.1M634.5,267.6 634.5,279.2M634.5,255.0 650.6,254.2M634.6,308.0 634.5,308.7M634.5,308.7 641.7,315.9M634.5,279.2 636.5,279.2M636.8,285.8 634.5,283.7M634.5,283.6 640.5,283.6M635.0,306.3 634.6,308.0M634.8,303.8 635.4,304.2M637.4,395.8 635.0,399.9M635.0,399.9 636.1,400.8M635.4,304.2 640.8,302.5M635.6,387.3 636.4,389.9M637.3,357.8 636.3,358.4M636.3,290.8 636.8,285.8M639.0,298.9 636.3,290.8M636.5,389.9 638.0,393.5M636.5,389.9 637.1,389.9M637.1,389.9 636.5,389.9M636.5,279.2 640.5,283.6M664.2,389.0 637.1,389.9M642.8,354.9 637.3,357.8M638.0,393.5 637.4,395.8M637.4,245.0 644.6,242.4M641.7,353.5 637.9,352.5M640.8,302.4 639.0,298.9M639.0,326.6 642.5,323.0M639.2,218.2 644.6,221.8M640.5,283.6 659.8,279.7M640.8,302.5 649.7,305.1M641.7,315.9 642.5,323.0M642.8,354.9 641.7,353.5M642.6,323.0 649.7,323.0M651.0,355.1 642.8,354.9M643.4,408.1 653.2,417.0M644.6,221.8 644.6,202.1M647.3,227.1 644.6,221.8M644.6,242.4 650.0,238.8M644.6,202.1 647.8,203.0M647.3,227.1 649.6,227.7M647.8,203.0 647.8,197.2M647.8,197.2 647.9,196.9M647.9,196.9 647.9,184.0M647.9,203.0 647.9,196.9M653.5,207.4 647.9,203.1M655.5,377.7 648.6,356.9M648.6,356.9 651.3,356.7M649.6,227.7 649.6,228.4M649.7,305.1 656.9,306.9M649.8,228.5 649.7,228.2M649.7,323.0 655.1,325.7M649.7,228.2 651.2,228.2M650.6,234.5 649.8,228.5M650.0,238.8 649.9,236.8M649.9,236.8 650.6,236.5M650.6,236.5 650.6,234.5M650.6,236.5 650.6,254.1M650.6,234.5 653.3,235.7M650.6,254.2 656.9,254.2M651.3,356.7 651.0,355.1M651.5,354.6 651.0,355.1M651.2,228.2 653.5,228.9M657.8,355.3 651.5,354.6M653.3,235.7 660.5,238.0M657.8,355.3 653.3,328.4M653.3,328.4 655.1,325.7M653.5,208.5 653.5,207.5M653.5,228.2 653.5,208.5M653.5,228.9 653.5,228.2M653.6,228.2 685.3,228.2M653.6,208.5 660.5,207.2M655.1,325.7 664.0,327.5M663.3,378.6 655.5,377.7M656.0,279.2 657.8,266.7M659.7,279.2 656.0,279.2M656.9,306.9 664.0,309.6M656.9,254.2 661.3,255.9M657.8,266.7 660.5,259.5M674.4,354.7 657.8,355.3M659.8,279.7 659.7,279.2M659.8,279.7 662.6,281.8M660.5,259.5 661.3,255.9M660.5,207.2 667.6,206.7M660.5,238.0 667.6,238.4M661.4,255.9 667.6,256.8M662.6,281.8 661.8,279.2M661.8,279.2 689.1,279.2M663.1,283.6 662.6,281.8M667.6,293.5 663.1,283.7M663.7,383.0 663.4,378.6M663.7,383.0 664.2,389.0M664.2,383.2 663.7,383.0M664.0,309.6 670.3,314.1M664.0,327.5 671.2,325.7M664.2,377.7 664.2,383.2M664.2,383.2 664.2,389.0M674.6,373.4 664.2,377.7M664.2,389.0 665.7,389.0M665.8,389.1 668.5,389.0M670.3,299.8 667.6,293.5M667.6,256.8 676.6,255.6M667.6,206.7 674.8,208.5M667.6,238.4 674.8,235.7M668.6,389.0 669.3,409.0M670.3,314.1 671.2,306.9M671.2,306.9 670.3,299.8M670.3,299.8 673.0,294.8M670.3,314.1 674.8,320.3M675.7,333.8 671.2,325.7M671.2,325.7 680.1,323.0M673.0,294.8 685.5,298.0M682.4,354.3 674.5,354.9M681.6,376.9 674.6,373.4M674.8,320.4 680.1,323.0M674.8,208.5 680.1,206.7M674.8,235.7 680.1,238.0M678.4,340.9 675.7,333.8M676.6,255.6 685.3,254.6M684.6,348.1 678.4,340.9M680.2,323.0 684.6,322.1M680.2,206.7 685.0,205.8M680.2,238.0 685.3,237.5M683.3,370.8 681.6,376.9M686.8,382.1 681.6,376.9M683.3,370.8 682.4,354.4M682.4,354.4 683.7,354.4M685.2,370.7 683.3,370.8M683.7,354.4 684.6,348.1M684.6,322.1 685.5,308.7M684.6,322.1 693.6,321.3M685.0,205.8 685.3,205.8M687.4,369.6 685.2,370.7M685.5,308.7 688.2,298.9M685.5,298.0 688.2,298.9M696.3,385.5 686.8,382.1M693.6,369.6 687.4,369.6M688.2,298.9 692.5,297.1M689.1,279.2 689.1,278.9M692.7,297.1 697.2,293.5M693.6,369.6 694.5,333.8M694.5,333.8 693.6,321.3M693.6,321.2 709.9,320.0M700.1,369.6 693.6,369.6M697.1,385.7 696.3,385.5M697.2,293.5 697.7,293.5M701.2,370.2 700.1,369.6M703.2,370.1 701.2,370.2"/>
<path class="ol" d="M202.5,34.6 202.0,275.3 10.0,275.3 9.3,282.1 12.5,285.8 16.3,288.3 22.6,289.6 26.3,294.6 30.1,300.9 35.1,305.9 40.1,308.4 45.1,308.4 46.4,310.9 52.6,315.9 58.9,322.2 65.2,327.2 71.5,333.4 77.7,337.2 85.2,341.0 92.8,344.7 98.3,348.5 100.3,351.0 104.0,353.5 106.3,360.0 112.6,370.1 113.8,382.6 118.8,392.6 123.8,400.1 131.4,406.4 138.9,411.4 143.9,416.4 152.7,420.2 161.4,422.2 165.2,426.5 175.2,430.2 182.8,435.2 190.3,437.7 197.8,437.2 201.6,431.5 207.8,426.5 210.8,422.7 210.3,417.7 214.1,412.7 215.3,406.4 220.4,398.9 226.6,396.4 232.9,395.1 239.2,391.4 240.4,388.9 246.7,391.4 255.5,393.9 265.5,393.1 270.1,393.9 281.4,393.9 287.7,396.4 293.9,401.4 297.7,406.4 304.0,410.2 310.2,415.2 316.5,419.7 321.5,424.0 325.3,427.7 330.3,434.0 332.8,440.3 336.6,446.5 340.3,454.1 345.0,461.3 348.8,470.1 355.0,477.6 361.3,482.6 367.6,490.1 372.6,498.9 380.1,505.2 387.6,510.2 392.6,515.2 392.6,526.5 396.4,530.2 396.4,539.0 401.4,546.5 406.4,554.1 410.2,560.3 411.4,567.9 416.3,575.1 425.1,578.8 435.1,582.6 442.6,585.1 450.1,587.6 457.7,592.6 467.7,595.1 480.2,595.1 490.2,597.6 497.8,601.4 505.3,605.7 510.3,601.4 521.6,598.4 521.6,591.4 519.1,581.3 516.6,571.3 512.8,561.3 510.3,551.3 510.3,538.7 512.8,528.7 516.6,518.7 521.4,511.9 525.1,505.4 530.1,497.9 536.4,489.1 545.2,482.8 552.7,477.8 560.2,472.8 567.7,467.8 580.3,461.5 592.8,455.3 605.3,449.0 615.4,444.0 625.4,437.7 628.6,435.0 634.7,431.5 641.6,427.2 646.9,423.7 652.1,419.4 653.8,415.9 660.7,412.4 669.4,409.0 676.4,406.4 683.3,403.8 690.2,402.9 697.2,404.6 694.6,399.4 691.1,394.2 696.3,389.9 697.2,385.5 702.4,380.3 704.1,375.1 703.3,369.9 701.5,364.7 704.1,359.5 703.3,354.3 705.9,349.1 709.3,343.9 711.1,338.7 713.3,332.2 711.9,322.4 706.3,315.4 707.7,309.8 702.1,302.8 696.5,297.2 697.9,293.0 695.1,284.6 689.5,279.1 685.3,276.3 685.4,190.1 670.4,190.6 660.3,188.9 652.8,186.3 645.3,182.6 637.8,178.8 630.3,173.8 622.7,170.6 616.5,175.1 607.7,173.8 601.4,172.1 593.9,173.8 587.6,176.3 580.1,175.1 572.6,177.6 565.1,181.3 560.1,183.8 558.8,180.1 550.0,176.3 545.0,173.1 540.0,176.3 537.0,172.6 529.2,171.4 525.5,173.9 521.7,181.4 519.2,180.2 515.4,173.9 509.2,175.2 502.9,177.7 499.1,172.6 491.6,168.9 485.4,171.4 480.3,175.2 475.3,173.9 474.1,167.6 469.1,166.4 465.3,160.1 460.3,161.4 452.8,160.1 449.0,163.9 441.5,162.6 435.2,160.1 427.7,160.1 421.4,157.6 415.2,157.6 408.9,155.1 406.4,150.1 401.4,146.3 398.9,144.6 393.9,147.1 390.1,145.1 386.3,147.1 380.1,145.1 373.8,141.3 368.8,138.1 365.2,137.5 365.5,34.6Z"/>
</g>
<text class="t" y="18.7"><tspan x="26.5" textLength="43.8" lengthAdjust="spacingAndGlyphs">Chart</tspan> <tspan x="76.1" textLength="13.0" lengthAdjust="spacingAndGlyphs">3.</tspan> <tspan x="95.4" textLength="63.9" lengthAdjust="spacingAndGlyphs">Average</tspan> <tspan x="167.0" textLength="55.6" lengthAdjust="spacingAndGlyphs">weekly</tspan> <tspan x="230.3" textLength="48.2" lengthAdjust="spacingAndGlyphs">wages</tspan> <tspan x="285.4" textLength="17.1" lengthAdjust="spacingAndGlyphs">by</tspan> <tspan x="308.8" textLength="55.7" lengthAdjust="spacingAndGlyphs">county</tspan> <tspan x="370.8" textLength="12.4" lengthAdjust="spacingAndGlyphs">in</tspan> <tspan x="390.2" textLength="47.6" lengthAdjust="spacingAndGlyphs">Texas,</tspan> <tspan x="444.1" textLength="37.6" lengthAdjust="spacingAndGlyphs">third</tspan> <tspan x="488.7" textLength="59.7" lengthAdjust="spacingAndGlyphs">quarter</tspan> <tspan x="555.4" textLength="38.4" lengthAdjust="spacingAndGlyphs">2021</tspan></text>
<text class="lt" x="19.5" y="114.6" textLength="164.5" lengthAdjust="spacing">Average weekly wages</text>
<text class="ls" x="19.5" y="134.8" textLength="135.5" lengthAdjust="spacing">(U.S. average = $1,251)</text>
<rect class="sw" x="19.5" y="142.5" width="26" height="13" fill="#c50b10"/>
<rect class="sw" x="19.5" y="160.5" width="26" height="13" fill="#db4a32"/>
<rect class="sw" x="19.5" y="178.5" width="26" height="13" fill="#ee8165"/>
<rect class="sw" x="19.5" y="196.5" width="26" height="13" fill="#f8b298"/>
<rect class="sw" x="19.5" y="214.5" width="26" height="13" fill="#fee9d7"/>
<text class="li" x="50" y="152.2" textLength="80.7" lengthAdjust="spacing">$1050 or higher</text>
<text class="li" x="50" y="170.6" textLength="66.8" lengthAdjust="spacing">$950 - $1049</text>
<text class="li" x="50" y="188.6" textLength="60.6" lengthAdjust="spacing">$850 - $949</text>
<text class="li" x="50" y="206.5" textLength="60.6" lengthAdjust="spacing">$750 - $849</text>
<text class="li" x="50" y="224.3" textLength="69.9" lengthAdjust="spacing">$749 or lower</text>
<text class="src" y="594.8"><tspan x="16.2" textLength="38.5" lengthAdjust="spacingAndGlyphs">Source:</tspan> <tspan x="59.2" textLength="18.7" lengthAdjust="spacingAndGlyphs">U.S.</tspan> <tspan x="83.0" textLength="36.2" lengthAdjust="spacingAndGlyphs">Bureau</tspan> <tspan x="123.7" textLength="10.4" lengthAdjust="spacingAndGlyphs">of</tspan> <tspan x="137.9" textLength="26.9" lengthAdjust="spacingAndGlyphs">Labor</tspan> <tspan x="169.0" textLength="49.4" lengthAdjust="spacingAndGlyphs">Statistics.</tspan></text>
</svg>
</body></html>
